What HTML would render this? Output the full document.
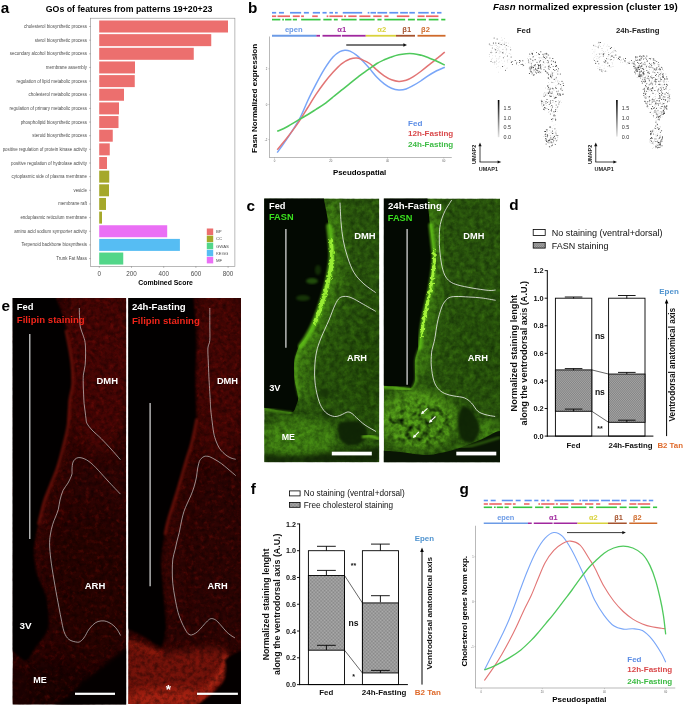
<!DOCTYPE html>
<html><head><meta charset="utf-8"><title>Figure</title>
<style>
html,body{margin:0;padding:0;background:#fff;}
svg{display:block;font-family:'Liberation Sans',sans-serif;}
</style></head>
<body>
<svg width="685" height="706" viewBox="0 0 685 706">
<defs>
<linearGradient id="cbar" x1="0" y1="0" x2="0" y2="1"><stop offset="0" stop-color="#000"/><stop offset="0.45" stop-color="#666"/><stop offset="1" stop-color="#e4e4e4"/></linearGradient>

<filter id="gnoiseD" x="0" y="0" width="100%" height="100%" color-interpolation-filters="sRGB">
  <feTurbulence type="fractalNoise" baseFrequency="0.2" numOctaves="3" seed="4"/>
  <feColorMatrix type="matrix" values="0 0 0 0 0  0 0 0 0 0.04  0 0 0 0 0  0.75 0 0 0 -0.24"/>
  <feGaussianBlur stdDeviation="0.6"/>
</filter>
<filter id="gnoiseL" x="0" y="0" width="100%" height="100%" color-interpolation-filters="sRGB">
  <feTurbulence type="fractalNoise" baseFrequency="0.16" numOctaves="3" seed="17"/>
  <feColorMatrix type="matrix" values="0 0 0 0 0.42  0 0 0 0 0.8  0 0 0 0 0.1  0 0.5 0 0 -0.22"/>
  <feGaussianBlur stdDeviation="0.6"/>
</filter>
<filter id="gnoiseME" x="0" y="0" width="100%" height="100%" color-interpolation-filters="sRGB">
  <feTurbulence type="fractalNoise" baseFrequency="0.16" numOctaves="2" seed="31"/>
  <feColorMatrix type="matrix" values="0 0 0 0 0  0 0 0 0 0.04  0 0 0 0 0  0 0 2.2 0 -0.98"/>
</filter>
<filter id="rough" x="-20%" y="-5%" width="140%" height="110%">
  <feTurbulence type="fractalNoise" baseFrequency="0.35" numOctaves="2" seed="5" result="t"/>
  <feDisplacementMap in="SourceGraphic" in2="t" scale="5" xChannelSelector="R" yChannelSelector="G"/>
  <feGaussianBlur color-interpolation-filters="sRGB" stdDeviation="0.7"/>
</filter>
<filter id="b05"><feGaussianBlur color-interpolation-filters="sRGB" stdDeviation="0.6"/></filter>
<filter id="b1"><feGaussianBlur color-interpolation-filters="sRGB" stdDeviation="1.1"/></filter>
<filter id="b2"><feGaussianBlur color-interpolation-filters="sRGB" stdDeviation="2.2"/></filter>
<filter id="b4"><feGaussianBlur color-interpolation-filters="sRGB" stdDeviation="4"/></filter>
<filter id="b7" x="-50%" y="-50%" width="200%" height="200%"><feGaussianBlur color-interpolation-filters="sRGB" stdDeviation="7"/></filter>
<mask id="memask" maskUnits="userSpaceOnUse" x="380" y="380" width="125" height="90"><ellipse cx="420" cy="424" rx="34" ry="24" fill="#fff" filter="url(#b4)"/></mask>
<clipPath id="clipc1"><rect x="264.2" y="198.6" width="115.05" height="263.6"/></clipPath>
<clipPath id="clipc2"><rect x="383.8" y="198.6" width="116.2" height="263.6"/></clipPath>
<pattern id="chk" width="2" height="1.7" patternUnits="userSpaceOnUse" x="555.4" y="370.2"><rect width="2" height="1.7" fill="#f0f0f0"/><rect width="1" height="0.85" fill="#383838"/><rect x="1" y="0.85" width="1" height="0.85" fill="#383838"/></pattern>

<filter id="rnoiseD" x="0" y="0" width="100%" height="100%" color-interpolation-filters="sRGB">
  <feTurbulence type="fractalNoise" baseFrequency="0.22" numOctaves="3" seed="8"/>
  <feColorMatrix type="matrix" values="0 0 0 0 0  0 0 0 0 0  0 0 0 0 0  0.9 0 0 0 -0.33"/>
  <feGaussianBlur stdDeviation="0.5"/>
</filter>
<filter id="rnoiseL" x="0" y="0" width="100%" height="100%" color-interpolation-filters="sRGB">
  <feTurbulence type="fractalNoise" baseFrequency="0.2" numOctaves="3" seed="23"/>
  <feColorMatrix type="matrix" values="0 0 0 0 0.7  0 0 0 0 0.08  0 0 0 0 0.05  0 0.7 0 0 -0.36"/>
  <feGaussianBlur stdDeviation="0.5"/>
</filter>
<clipPath id="clipe1"><rect x="12.6" y="298" width="113.6" height="406.5"/></clipPath>
<clipPath id="clipe2"><rect x="128.3" y="298" width="112.7" height="406"/></clipPath>
<pattern id="chk2" width="1.4" height="1.4" patternUnits="userSpaceOnUse"><rect width="1.4" height="1.4" fill="#b2b2b2"/><rect width="0.7" height="0.7" fill="#808080"/><rect x="0.7" y="0.7" width="0.7" height="0.7" fill="#808080"/></pattern>
</defs>
<rect x="0" y="0" width="685" height="706" fill="#ffffff"/>
<g id="panel-a">
<text x="0.75" y="12.50" font-size="15.3" fill="#000" font-weight="bold">a</text>
<text x="45.75" y="11.75" font-size="8.7" fill="#000" font-weight="bold" textLength="166.75" lengthAdjust="spacingAndGlyphs">GOs of features from patterns 19+20+23</text>
<rect x="90.50" y="18.20" width="144.40" height="248.20" fill="#fff" stroke="#8a8a8a" stroke-width="0.6"/>
<rect x="99.20" y="20.50" width="128.80" height="12.00" fill="#ec6f6e"/>
<line x1="89.20" y1="26.50" x2="90.50" y2="26.50" stroke="#666" stroke-width="0.5" />
<text x="87.00" y="28.00" font-size="4.45" fill="#4d4d4d" text-anchor="end">cholesterol biosynthetic process</text>
<rect x="99.20" y="34.15" width="112.05" height="12.00" fill="#ec6f6e"/>
<line x1="89.20" y1="40.15" x2="90.50" y2="40.15" stroke="#666" stroke-width="0.5" />
<text x="87.00" y="41.65" font-size="4.45" fill="#4d4d4d" text-anchor="end">sterol biosynthetic process</text>
<rect x="99.20" y="47.80" width="94.55" height="12.00" fill="#ec6f6e"/>
<line x1="89.20" y1="53.80" x2="90.50" y2="53.80" stroke="#666" stroke-width="0.5" />
<text x="87.00" y="55.30" font-size="4.45" fill="#4d4d4d" text-anchor="end">secondary alcohol biosynthetic process</text>
<rect x="99.20" y="61.45" width="35.80" height="12.00" fill="#ec6f6e"/>
<line x1="89.20" y1="67.45" x2="90.50" y2="67.45" stroke="#666" stroke-width="0.5" />
<text x="87.00" y="68.95" font-size="4.45" fill="#4d4d4d" text-anchor="end">membrane assembly</text>
<rect x="99.20" y="75.10" width="35.55" height="12.00" fill="#ec6f6e"/>
<line x1="89.20" y1="81.10" x2="90.50" y2="81.10" stroke="#666" stroke-width="0.5" />
<text x="87.00" y="82.60" font-size="4.45" fill="#4d4d4d" text-anchor="end">regulation of lipid metabolic process</text>
<rect x="99.20" y="88.75" width="24.80" height="12.00" fill="#ec6f6e"/>
<line x1="89.20" y1="94.75" x2="90.50" y2="94.75" stroke="#666" stroke-width="0.5" />
<text x="87.00" y="96.25" font-size="4.45" fill="#4d4d4d" text-anchor="end">cholesterol metabolic process</text>
<rect x="99.20" y="102.40" width="19.80" height="12.00" fill="#ec6f6e"/>
<line x1="89.20" y1="108.40" x2="90.50" y2="108.40" stroke="#666" stroke-width="0.5" />
<text x="87.00" y="109.90" font-size="4.45" fill="#4d4d4d" text-anchor="end">regulation of primary metabolic process</text>
<rect x="99.20" y="116.05" width="19.30" height="12.00" fill="#ec6f6e"/>
<line x1="89.20" y1="122.05" x2="90.50" y2="122.05" stroke="#666" stroke-width="0.5" />
<text x="87.00" y="123.55" font-size="4.45" fill="#4d4d4d" text-anchor="end">phospholipid biosynthetic process</text>
<rect x="99.20" y="129.70" width="13.55" height="12.00" fill="#ec6f6e"/>
<line x1="89.20" y1="135.70" x2="90.50" y2="135.70" stroke="#666" stroke-width="0.5" />
<text x="87.00" y="137.20" font-size="4.45" fill="#4d4d4d" text-anchor="end">steroid biosynthetic process</text>
<rect x="99.20" y="143.35" width="10.55" height="12.00" fill="#ec6f6e"/>
<line x1="89.20" y1="149.35" x2="90.50" y2="149.35" stroke="#666" stroke-width="0.5" />
<text x="87.00" y="150.85" font-size="4.45" fill="#4d4d4d" text-anchor="end">positive regulation of protein kinase activity</text>
<rect x="99.20" y="157.00" width="7.80" height="12.00" fill="#ec6f6e"/>
<line x1="89.20" y1="163.00" x2="90.50" y2="163.00" stroke="#666" stroke-width="0.5" />
<text x="87.00" y="164.50" font-size="4.45" fill="#4d4d4d" text-anchor="end">positive regulation of hydrolase activity</text>
<rect x="99.20" y="170.65" width="10.05" height="12.00" fill="#a5a82a"/>
<line x1="89.20" y1="176.65" x2="90.50" y2="176.65" stroke="#666" stroke-width="0.5" />
<text x="87.00" y="178.15" font-size="4.45" fill="#4d4d4d" text-anchor="end">cytoplasmic side of plasma membrane</text>
<rect x="99.20" y="184.30" width="9.80" height="12.00" fill="#a5a82a"/>
<line x1="89.20" y1="190.30" x2="90.50" y2="190.30" stroke="#666" stroke-width="0.5" />
<text x="87.00" y="191.80" font-size="4.45" fill="#4d4d4d" text-anchor="end">vesicle</text>
<rect x="99.20" y="197.95" width="6.80" height="12.00" fill="#a5a82a"/>
<line x1="89.20" y1="203.95" x2="90.50" y2="203.95" stroke="#666" stroke-width="0.5" />
<text x="87.00" y="205.45" font-size="4.45" fill="#4d4d4d" text-anchor="end">membrane raft</text>
<rect x="99.20" y="211.60" width="2.80" height="12.00" fill="#a5a82a"/>
<line x1="89.20" y1="217.60" x2="90.50" y2="217.60" stroke="#666" stroke-width="0.5" />
<text x="87.00" y="219.10" font-size="4.45" fill="#4d4d4d" text-anchor="end">endoplasmic reticulum membrane</text>
<rect x="99.20" y="225.25" width="68.00" height="12.00" fill="#ea6ff5"/>
<line x1="89.20" y1="231.25" x2="90.50" y2="231.25" stroke="#666" stroke-width="0.5" />
<text x="87.00" y="232.75" font-size="4.45" fill="#4d4d4d" text-anchor="end">amino acid sodium symporter activity</text>
<rect x="99.20" y="238.90" width="80.70" height="12.00" fill="#56bdf3"/>
<line x1="89.20" y1="244.90" x2="90.50" y2="244.90" stroke="#666" stroke-width="0.5" />
<text x="87.00" y="246.40" font-size="4.45" fill="#4d4d4d" text-anchor="end">Terpenoid backbone biosynthesis</text>
<rect x="99.20" y="252.55" width="24.05" height="12.00" fill="#52d689"/>
<line x1="89.20" y1="258.55" x2="90.50" y2="258.55" stroke="#666" stroke-width="0.5" />
<text x="87.00" y="260.05" font-size="4.45" fill="#4d4d4d" text-anchor="end">Trunk Fat Mass</text>
<line x1="99.30" y1="266.40" x2="99.30" y2="267.80" stroke="#666" stroke-width="0.5" />
<text x="99.30" y="275.50" font-size="6.3" fill="#4d4d4d" text-anchor="middle">0</text>
<line x1="131.50" y1="266.40" x2="131.50" y2="267.80" stroke="#666" stroke-width="0.5" />
<text x="131.50" y="275.50" font-size="6.3" fill="#4d4d4d" text-anchor="middle">200</text>
<line x1="163.70" y1="266.40" x2="163.70" y2="267.80" stroke="#666" stroke-width="0.5" />
<text x="163.70" y="275.50" font-size="6.3" fill="#4d4d4d" text-anchor="middle">400</text>
<line x1="195.90" y1="266.40" x2="195.90" y2="267.80" stroke="#666" stroke-width="0.5" />
<text x="195.90" y="275.50" font-size="6.3" fill="#4d4d4d" text-anchor="middle">600</text>
<line x1="228.10" y1="266.40" x2="228.10" y2="267.80" stroke="#666" stroke-width="0.5" />
<text x="228.10" y="275.50" font-size="6.3" fill="#4d4d4d" text-anchor="middle">800</text>
<text x="138.25" y="285.00" font-size="7" fill="#000" font-weight="bold" textLength="54.65" lengthAdjust="spacingAndGlyphs">Combined Score</text>
<rect x="206.80" y="228.50" width="6.40" height="6.50" fill="#ec6f6e"/>
<text x="216.00" y="233.30" font-size="4.3" fill="#4d4d4d">BP</text>
<rect x="206.80" y="235.60" width="6.40" height="6.50" fill="#a5a82a"/>
<text x="216.00" y="240.40" font-size="4.3" fill="#4d4d4d">CC</text>
<rect x="206.80" y="242.70" width="6.40" height="6.50" fill="#52d689"/>
<text x="216.00" y="247.50" font-size="4.3" fill="#4d4d4d">GWAS</text>
<rect x="206.80" y="249.80" width="6.40" height="6.50" fill="#56bdf3"/>
<text x="216.00" y="254.60" font-size="4.3" fill="#4d4d4d">KEGG</text>
<rect x="206.80" y="256.90" width="6.40" height="6.50" fill="#ea6ff5"/>
<text x="216.00" y="261.70" font-size="4.3" fill="#4d4d4d">MF</text>
</g>
<g id="panel-b">
<text x="248.00" y="12.50" font-size="15.3" fill="#000" font-weight="bold">b</text>
<line x1="272.00" y1="12.75" x2="276.16" y2="12.75" stroke="#5f93f2" stroke-width="1.7" />
<line x1="278.93" y1="12.75" x2="283.93" y2="12.75" stroke="#5f93f2" stroke-width="1.7" />
<line x1="290.03" y1="12.75" x2="301.13" y2="12.75" stroke="#5f93f2" stroke-width="1.7" />
<line x1="303.90" y1="12.75" x2="308.89" y2="12.75" stroke="#5f93f2" stroke-width="1.7" />
<line x1="312.78" y1="12.75" x2="319.99" y2="12.75" stroke="#5f93f2" stroke-width="1.7" />
<line x1="322.49" y1="12.75" x2="326.65" y2="12.75" stroke="#5f93f2" stroke-width="1.7" />
<line x1="329.42" y1="12.75" x2="333.03" y2="12.75" stroke="#5f93f2" stroke-width="1.7" />
<line x1="334.97" y1="12.75" x2="337.74" y2="12.75" stroke="#5f93f2" stroke-width="1.7" />
<line x1="342.74" y1="12.75" x2="362.15" y2="12.75" stroke="#5f93f2" stroke-width="1.7" />
<line x1="367.70" y1="12.75" x2="369.36" y2="12.75" stroke="#5f93f2" stroke-width="1.7" />
<line x1="370.47" y1="12.75" x2="376.02" y2="12.75" stroke="#5f93f2" stroke-width="1.7" />
<line x1="377.41" y1="12.75" x2="387.12" y2="12.75" stroke="#5f93f2" stroke-width="1.7" />
<line x1="389.34" y1="12.75" x2="398.21" y2="12.75" stroke="#5f93f2" stroke-width="1.7" />
<line x1="400.16" y1="12.75" x2="407.92" y2="12.75" stroke="#5f93f2" stroke-width="1.7" />
<line x1="409.31" y1="12.75" x2="414.86" y2="12.75" stroke="#5f93f2" stroke-width="1.7" />
<line x1="418.19" y1="12.75" x2="428.73" y2="12.75" stroke="#5f93f2" stroke-width="1.7" />
<line x1="430.95" y1="12.75" x2="434.83" y2="12.75" stroke="#5f93f2" stroke-width="1.7" />
<line x1="437.05" y1="12.75" x2="441.49" y2="12.75" stroke="#5f93f2" stroke-width="1.7" />
<line x1="272.00" y1="16.25" x2="276.16" y2="16.25" stroke="#ee6464" stroke-width="1.7" />
<line x1="277.55" y1="16.25" x2="290.03" y2="16.25" stroke="#ee6464" stroke-width="1.7" />
<line x1="292.80" y1="16.25" x2="299.74" y2="16.25" stroke="#ee6464" stroke-width="1.7" />
<line x1="301.13" y1="16.25" x2="303.90" y2="16.25" stroke="#ee6464" stroke-width="1.7" />
<line x1="312.22" y1="16.25" x2="317.77" y2="16.25" stroke="#ee6464" stroke-width="1.7" />
<line x1="326.65" y1="16.25" x2="328.31" y2="16.25" stroke="#ee6464" stroke-width="1.7" />
<line x1="329.42" y1="16.25" x2="342.74" y2="16.25" stroke="#ee6464" stroke-width="1.7" />
<line x1="344.12" y1="16.25" x2="346.06" y2="16.25" stroke="#ee6464" stroke-width="1.7" />
<line x1="348.28" y1="16.25" x2="356.60" y2="16.25" stroke="#ee6464" stroke-width="1.7" />
<line x1="359.38" y1="16.25" x2="370.47" y2="16.25" stroke="#ee6464" stroke-width="1.7" />
<line x1="373.25" y1="16.25" x2="381.57" y2="16.25" stroke="#ee6464" stroke-width="1.7" />
<line x1="384.34" y1="16.25" x2="388.50" y2="16.25" stroke="#ee6464" stroke-width="1.7" />
<line x1="396.83" y1="16.25" x2="409.31" y2="16.25" stroke="#ee6464" stroke-width="1.7" />
<line x1="417.63" y1="16.25" x2="424.57" y2="16.25" stroke="#ee6464" stroke-width="1.7" />
<line x1="425.95" y1="16.25" x2="438.44" y2="16.25" stroke="#ee6464" stroke-width="1.7" />
<line x1="272.00" y1="19.60" x2="280.32" y2="19.60" stroke="#35c640" stroke-width="1.7" />
<line x1="282.26" y1="19.60" x2="283.93" y2="19.60" stroke="#35c640" stroke-width="1.7" />
<line x1="285.04" y1="19.60" x2="291.42" y2="19.60" stroke="#35c640" stroke-width="1.7" />
<line x1="292.80" y1="19.60" x2="296.97" y2="19.60" stroke="#35c640" stroke-width="1.7" />
<line x1="301.13" y1="19.60" x2="320.54" y2="19.60" stroke="#35c640" stroke-width="1.7" />
<line x1="323.32" y1="19.60" x2="331.64" y2="19.60" stroke="#35c640" stroke-width="1.7" />
<line x1="333.86" y1="19.60" x2="337.74" y2="19.60" stroke="#35c640" stroke-width="1.7" />
<line x1="341.35" y1="19.60" x2="356.60" y2="19.60" stroke="#35c640" stroke-width="1.7" />
<line x1="359.38" y1="19.60" x2="374.64" y2="19.60" stroke="#35c640" stroke-width="1.7" />
<line x1="377.41" y1="19.60" x2="381.57" y2="19.60" stroke="#35c640" stroke-width="1.7" />
<line x1="384.34" y1="19.60" x2="405.15" y2="19.60" stroke="#35c640" stroke-width="1.7" />
<line x1="407.92" y1="19.60" x2="414.86" y2="19.60" stroke="#35c640" stroke-width="1.7" />
<line x1="417.08" y1="19.60" x2="425.95" y2="19.60" stroke="#35c640" stroke-width="1.7" />
<line x1="428.73" y1="19.60" x2="438.44" y2="19.60" stroke="#35c640" stroke-width="1.7" />
<line x1="441.21" y1="19.60" x2="445.37" y2="19.60" stroke="#35c640" stroke-width="1.7" />
<line x1="272.00" y1="35.75" x2="316.30" y2="35.75" stroke="#6c9be6" stroke-width="1.8" />
<line x1="316.30" y1="35.75" x2="320.00" y2="35.75" stroke="#a0289e" stroke-width="1.8" />
<line x1="322.50" y1="35.75" x2="340.90" y2="35.75" stroke="#a0289e" stroke-width="1.8" />
<line x1="341.80" y1="35.75" x2="365.75" y2="35.75" stroke="#a0289e" stroke-width="1.8" />
<line x1="365.75" y1="35.75" x2="396.00" y2="35.75" stroke="#d9d23c" stroke-width="1.8" />
<line x1="396.00" y1="35.75" x2="415.00" y2="35.75" stroke="#a5522d" stroke-width="1.8" />
<line x1="417.50" y1="35.75" x2="445.50" y2="35.75" stroke="#cf6a2a" stroke-width="1.8" />
<text x="293.75" y="31.70" font-size="7.6" fill="#6c9be6" font-weight="bold" text-anchor="middle">epen</text>
<text x="341.75" y="31.70" font-size="7.6" fill="#a0289e" font-weight="bold" text-anchor="middle">α1</text>
<text x="381.75" y="31.70" font-size="7.6" fill="#d9d23c" font-weight="bold" text-anchor="middle">α2</text>
<text x="406.75" y="31.70" font-size="7.6" fill="#a5522d" font-weight="bold" text-anchor="middle">β1</text>
<text x="425.50" y="31.70" font-size="7.6" fill="#cf6a2a" font-weight="bold" text-anchor="middle">β2</text>
<line x1="269.50" y1="36.50" x2="269.50" y2="157.50" stroke="#8a8a8a" stroke-width="0.6" />
<line x1="269.20" y1="157.50" x2="451.75" y2="157.50" stroke="#8a8a8a" stroke-width="0.6" />
<line x1="268.30" y1="68.75" x2="269.50" y2="68.75" stroke="#8a8a8a" stroke-width="0.4" />
<text x="267.30" y="69.75" font-size="2.8" fill="#666" text-anchor="end">2</text>
<line x1="268.30" y1="104.50" x2="269.50" y2="104.50" stroke="#8a8a8a" stroke-width="0.4" />
<text x="267.30" y="105.50" font-size="2.8" fill="#666" text-anchor="end">0</text>
<line x1="268.30" y1="139.50" x2="269.50" y2="139.50" stroke="#8a8a8a" stroke-width="0.4" />
<text x="267.30" y="140.50" font-size="2.8" fill="#666" text-anchor="end">-2</text>
<line x1="274.50" y1="157.50" x2="274.50" y2="158.70" stroke="#8a8a8a" stroke-width="0.4" />
<text x="274.50" y="162.30" font-size="2.8" fill="#666" text-anchor="middle">0</text>
<line x1="330.75" y1="157.50" x2="330.75" y2="158.70" stroke="#8a8a8a" stroke-width="0.4" />
<text x="330.75" y="162.30" font-size="2.8" fill="#666" text-anchor="middle">20</text>
<line x1="387.50" y1="157.50" x2="387.50" y2="158.70" stroke="#8a8a8a" stroke-width="0.4" />
<text x="387.50" y="162.30" font-size="2.8" fill="#666" text-anchor="middle">40</text>
<line x1="443.75" y1="157.50" x2="443.75" y2="158.70" stroke="#8a8a8a" stroke-width="0.4" />
<text x="443.75" y="162.30" font-size="2.8" fill="#666" text-anchor="middle">60</text>
<line x1="346.25" y1="45.00" x2="404.00" y2="45.00" stroke="#4a4a4a" stroke-width="1.3" />
<path d="M407.0,45.0 L403.4,43.2 L403.4,46.8 Z" fill="#111"/>
<path d="M277.2,152.6 C278.9,150.3 283.5,144.0 287.1,138.6 C290.7,133.2 295.6,126.1 299.0,119.9 C302.4,113.7 304.7,107.2 307.5,101.2 C310.3,95.2 313.2,89.6 316.0,84.2 C318.8,78.8 321.7,73.4 324.5,68.9 C327.3,64.4 330.4,59.9 333.0,57.0 C335.6,54.1 337.8,52.7 339.8,51.6 C341.8,50.5 343.2,50.3 344.9,50.2 C346.6,50.1 348.0,50.2 350.0,51.1 C352.0,52.0 354.8,53.7 356.8,55.3 C358.9,56.9 360.2,58.3 362.3,60.5 C364.4,62.7 367.2,65.8 369.6,68.6 C372.0,71.4 374.5,74.8 376.9,77.3 C379.3,79.8 381.8,82.1 384.2,83.9 C386.6,85.7 389.1,87.3 391.5,88.3 C393.9,89.3 396.4,89.9 398.8,90.0 C401.2,90.1 403.7,89.8 406.1,89.0 C408.5,88.2 411.0,86.7 413.4,85.4 C415.8,84.1 418.3,82.6 420.7,81.0 C423.1,79.4 425.6,77.5 428.0,75.9 C430.4,74.3 432.5,73.0 435.3,71.5 C438.1,70.0 443.2,67.9 444.8,67.2" fill="none" stroke="#79a6f8" stroke-width="1.5" stroke-linecap="butt"/>
<path d="M277.2,149.7 C278.9,147.7 283.5,142.5 287.1,137.8 C290.7,133.1 295.6,126.6 299.0,121.6 C302.4,116.6 304.7,112.5 307.5,108.0 C310.3,103.5 313.2,98.7 316.0,94.4 C318.8,90.2 321.7,86.2 324.5,82.5 C327.3,78.8 330.2,75.4 333.0,72.3 C335.8,69.2 338.7,66.0 341.5,63.8 C344.3,61.6 347.4,60.0 350.0,59.0 C352.6,58.0 354.8,57.8 356.8,57.9 C358.9,58.0 360.2,58.9 362.3,59.8 C364.4,60.7 367.2,61.8 369.6,63.5 C372.0,65.2 374.5,67.9 376.9,70.0 C379.3,72.1 381.8,74.3 384.2,75.9 C386.6,77.5 389.1,78.9 391.5,79.8 C393.9,80.7 396.4,81.3 398.8,81.4 C401.2,81.5 403.7,81.1 406.1,80.3 C408.5,79.5 411.0,78.1 413.4,76.6 C415.8,75.1 418.3,73.3 420.7,71.5 C423.1,69.7 425.6,67.7 428.0,65.7 C430.4,63.8 432.5,62.0 435.3,59.8 C438.1,57.5 443.2,53.5 444.8,52.2" fill="none" stroke="#e27575" stroke-width="1.5"/>
<path d="M277.2,131.3 C278.9,130.5 283.5,128.7 287.1,126.7 C290.7,124.8 295.6,121.6 299.0,119.6 C302.4,117.6 304.7,116.5 307.5,114.8 C310.3,113.1 313.2,111.2 316.0,109.4 C318.8,107.6 321.7,105.9 324.5,103.8 C327.3,101.7 330.2,99.3 333.0,97.0 C335.8,94.7 338.7,92.5 341.5,90.2 C344.3,87.9 347.2,85.7 350.0,83.4 C352.8,81.1 356.0,78.5 358.5,76.6 C361.0,74.7 363.1,73.1 365.0,71.8 C366.9,70.5 367.6,70.0 369.6,68.6 C371.6,67.2 374.5,65.0 376.9,63.5 C379.3,62.0 381.8,60.9 384.2,59.8 C386.6,58.7 389.1,57.8 391.5,56.9 C393.9,56.0 396.4,55.2 398.8,54.7 C401.2,54.2 403.7,53.9 406.1,53.7 C408.5,53.5 411.0,53.5 413.4,53.7 C415.8,53.9 418.3,54.5 420.7,55.1 C423.1,55.8 425.6,56.7 428.0,57.6 C430.4,58.5 432.5,59.2 435.3,60.5 C438.1,61.8 443.2,64.3 444.8,65.1" fill="none" stroke="#4fc95c" stroke-width="1.6"/>
<text x="257.40" y="98.40" font-size="8.05" fill="#000" font-weight="bold" text-anchor="middle" textLength="109.20" lengthAdjust="spacingAndGlyphs" transform="rotate(-90 257.40 98.40)">Fasn Normalized expression</text>
<text x="333.00" y="174.80" font-size="7.8" fill="#000" font-weight="bold" textLength="53.25" lengthAdjust="spacingAndGlyphs">Pseudospatial</text>
<text x="408.00" y="126.20" font-size="8.1" fill="#5b8de6" font-weight="bold">Fed</text>
<text x="408.00" y="136.20" font-size="8.1" fill="#d9484a" font-weight="bold" textLength="45.25" lengthAdjust="spacingAndGlyphs">12h-Fasting</text>
<text x="408.00" y="147.20" font-size="8.1" fill="#3dbb44" font-weight="bold" textLength="45.25" lengthAdjust="spacingAndGlyphs">24h-Fasting</text>
</g>
<g id="panel-umap">
<text x="493.00" y="10.00" font-size="9.6" fill="#000" font-weight="bold" textLength="184.75" lengthAdjust="spacingAndGlyphs"><tspan font-style="italic">Fasn</tspan> normalized expression (cluster 19)</text>
<text x="523.75" y="32.70" font-size="7.8" fill="#222" font-weight="bold" text-anchor="middle">Fed</text>
<text x="637.75" y="32.70" font-size="7.8" fill="#222" font-weight="bold" text-anchor="middle" textLength="43.50" lengthAdjust="spacingAndGlyphs">24h-Fasting</text>
<circle cx="502.8" cy="63.6" r="0.42" fill="rgb(223,223,223)"/><circle cx="505.5" cy="70.2" r="0.5" fill="rgb(79,79,79)"/><circle cx="506.3" cy="45.6" r="0.5" fill="rgb(40,40,40)"/><circle cx="491.1" cy="53.6" r="0.42" fill="rgb(204,204,204)"/><circle cx="490.8" cy="45.6" r="0.42" fill="rgb(196,196,196)"/><circle cx="506.1" cy="42.3" r="0.42" fill="rgb(178,178,178)"/><circle cx="502.7" cy="52.7" r="0.5" fill="rgb(20,20,20)"/><circle cx="493.3" cy="44.4" r="0.42" fill="rgb(225,225,225)"/><circle cx="492.3" cy="47.9" r="0.5" fill="rgb(106,106,106)"/><circle cx="502.9" cy="43.1" r="0.42" fill="rgb(182,182,182)"/><circle cx="495.4" cy="49.7" r="0.5" fill="rgb(38,38,38)"/><circle cx="494.6" cy="48.6" r="0.42" fill="rgb(207,207,207)"/><circle cx="496.3" cy="47.8" r="0.42" fill="rgb(200,200,200)"/><circle cx="504.5" cy="43.2" r="0.42" fill="rgb(181,181,181)"/><circle cx="506.6" cy="49.9" r="0.42" fill="rgb(170,170,170)"/><circle cx="498.9" cy="62.3" r="0.42" fill="rgb(182,182,182)"/><circle cx="491.2" cy="45.5" r="0.42" fill="rgb(199,199,199)"/><circle cx="496.4" cy="49.4" r="0.42" fill="rgb(219,219,219)"/><circle cx="499.1" cy="58.0" r="0.42" fill="rgb(193,193,193)"/><circle cx="496.3" cy="58.8" r="0.42" fill="rgb(191,191,191)"/><circle cx="494.8" cy="62.1" r="0.5" fill="rgb(107,107,107)"/><circle cx="495.8" cy="43.0" r="0.5" fill="rgb(39,39,39)"/><circle cx="505.1" cy="47.8" r="0.42" fill="rgb(216,216,216)"/><circle cx="500.8" cy="51.3" r="0.42" fill="rgb(208,208,208)"/><circle cx="496.4" cy="45.6" r="0.42" fill="rgb(179,179,179)"/><circle cx="489.3" cy="54.5" r="0.42" fill="rgb(178,178,178)"/><circle cx="511.1" cy="57.1" r="0.5" fill="rgb(72,72,72)"/><circle cx="491.0" cy="52.4" r="0.5" fill="rgb(73,73,73)"/><circle cx="495.3" cy="53.0" r="0.42" fill="rgb(224,224,224)"/><circle cx="492.4" cy="55.6" r="0.42" fill="rgb(214,214,214)"/><circle cx="505.3" cy="54.0" r="0.42" fill="rgb(195,195,195)"/><circle cx="507.4" cy="55.9" r="0.5" fill="rgb(83,83,83)"/><circle cx="508.5" cy="43.1" r="0.42" fill="rgb(202,202,202)"/><circle cx="506.5" cy="68.2" r="0.42" fill="rgb(220,220,220)"/><circle cx="506.8" cy="49.5" r="0.42" fill="rgb(172,172,172)"/><circle cx="506.0" cy="49.8" r="0.42" fill="rgb(187,187,187)"/><circle cx="507.7" cy="46.2" r="0.42" fill="rgb(215,215,215)"/><circle cx="503.4" cy="57.7" r="0.5" fill="rgb(90,90,90)"/><circle cx="506.3" cy="48.4" r="0.42" fill="rgb(188,188,188)"/><circle cx="507.3" cy="60.1" r="0.42" fill="rgb(192,192,192)"/><circle cx="494.8" cy="49.1" r="0.42" fill="rgb(196,196,196)"/><circle cx="496.6" cy="67.3" r="0.42" fill="rgb(214,214,214)"/><circle cx="498.8" cy="49.8" r="0.42" fill="rgb(179,179,179)"/><circle cx="500.7" cy="42.6" r="0.42" fill="rgb(224,224,224)"/><circle cx="499.5" cy="61.7" r="0.42" fill="rgb(216,216,216)"/><circle cx="498.1" cy="59.0" r="0.42" fill="rgb(203,203,203)"/><circle cx="503.8" cy="51.9" r="0.42" fill="rgb(219,219,219)"/><circle cx="508.4" cy="46.4" r="0.42" fill="rgb(182,182,182)"/><circle cx="492.2" cy="52.6" r="0.42" fill="rgb(184,184,184)"/><circle cx="506.0" cy="43.1" r="0.42" fill="rgb(200,200,200)"/><circle cx="510.8" cy="54.1" r="0.42" fill="rgb(196,196,196)"/><circle cx="499.2" cy="50.4" r="0.42" fill="rgb(207,207,207)"/><circle cx="493.2" cy="62.7" r="0.42" fill="rgb(192,192,192)"/><circle cx="497.8" cy="46.7" r="0.42" fill="rgb(177,177,177)"/><circle cx="504.3" cy="56.5" r="0.42" fill="rgb(205,205,205)"/><circle cx="502.6" cy="40.0" r="0.42" fill="rgb(191,191,191)"/><circle cx="510.4" cy="47.2" r="0.42" fill="rgb(178,178,178)"/><circle cx="498.1" cy="66.2" r="0.42" fill="rgb(193,193,193)"/><circle cx="499.3" cy="42.2" r="0.42" fill="rgb(200,200,200)"/><circle cx="502.5" cy="49.3" r="0.42" fill="rgb(170,170,170)"/><circle cx="497.3" cy="48.4" r="0.42" fill="rgb(204,204,204)"/><circle cx="491.7" cy="59.5" r="0.42" fill="rgb(194,194,194)"/><circle cx="498.4" cy="72.1" r="0.42" fill="rgb(200,200,200)"/><circle cx="510.9" cy="50.4" r="0.42" fill="rgb(228,228,228)"/><circle cx="492.2" cy="58.2" r="0.42" fill="rgb(189,189,189)"/><circle cx="499.9" cy="51.7" r="0.42" fill="rgb(189,189,189)"/><circle cx="499.8" cy="47.0" r="0.42" fill="rgb(177,177,177)"/><circle cx="494.1" cy="38.0" r="0.5" fill="rgb(70,70,70)"/><circle cx="506.5" cy="45.5" r="0.42" fill="rgb(179,179,179)"/><circle cx="505.1" cy="46.9" r="0.42" fill="rgb(200,200,200)"/><circle cx="500.4" cy="68.0" r="0.42" fill="rgb(227,227,227)"/><circle cx="495.4" cy="56.0" r="0.42" fill="rgb(188,188,188)"/><circle cx="496.5" cy="61.4" r="0.42" fill="rgb(178,178,178)"/><circle cx="489.3" cy="45.7" r="0.42" fill="rgb(228,228,228)"/><circle cx="491.0" cy="61.6" r="0.5" fill="rgb(74,74,74)"/><circle cx="506.4" cy="52.1" r="0.42" fill="rgb(215,215,215)"/><circle cx="510.4" cy="60.2" r="0.42" fill="rgb(223,223,223)"/><circle cx="497.4" cy="50.8" r="0.42" fill="rgb(182,182,182)"/><circle cx="509.2" cy="53.5" r="0.42" fill="rgb(189,189,189)"/><circle cx="507.7" cy="61.9" r="0.42" fill="rgb(188,188,188)"/><circle cx="503.4" cy="53.7" r="0.42" fill="rgb(180,180,180)"/><circle cx="499.5" cy="56.5" r="0.42" fill="rgb(191,191,191)"/><circle cx="500.9" cy="52.0" r="0.42" fill="rgb(173,173,173)"/><circle cx="490.1" cy="44.9" r="0.42" fill="rgb(220,220,220)"/><circle cx="496.2" cy="52.2" r="0.5" fill="rgb(71,71,71)"/><circle cx="504.6" cy="38.3" r="0.42" fill="rgb(184,184,184)"/><circle cx="502.6" cy="66.6" r="0.5" fill="rgb(37,37,37)"/><circle cx="498.6" cy="43.2" r="0.5" fill="rgb(40,40,40)"/><circle cx="490.0" cy="44.3" r="0.42" fill="rgb(212,212,212)"/><circle cx="497.2" cy="39.1" r="0.5" fill="rgb(93,93,93)"/><circle cx="491.2" cy="51.0" r="0.42" fill="rgb(170,170,170)"/><circle cx="498.4" cy="48.0" r="0.42" fill="rgb(201,201,201)"/><circle cx="496.6" cy="60.4" r="0.42" fill="rgb(178,178,178)"/><circle cx="504.5" cy="42.0" r="0.42" fill="rgb(202,202,202)"/><circle cx="501.1" cy="44.6" r="0.5" fill="rgb(50,50,50)"/><circle cx="494.3" cy="63.9" r="0.42" fill="rgb(178,178,178)"/><circle cx="507.1" cy="68.0" r="0.42" fill="rgb(194,194,194)"/><circle cx="492.6" cy="62.5" r="0.42" fill="rgb(175,175,175)"/><circle cx="501.7" cy="37.8" r="0.42" fill="rgb(202,202,202)"/><circle cx="502.2" cy="45.2" r="0.42" fill="rgb(200,200,200)"/><circle cx="500.7" cy="56.3" r="0.42" fill="rgb(224,224,224)"/><circle cx="504.2" cy="44.6" r="0.5" fill="rgb(105,105,105)"/><circle cx="499.8" cy="44.2" r="0.42" fill="rgb(194,194,194)"/><circle cx="496.6" cy="45.1" r="0.42" fill="rgb(209,209,209)"/><circle cx="504.7" cy="65.6" r="0.42" fill="rgb(216,216,216)"/><circle cx="507.6" cy="60.1" r="0.42" fill="rgb(197,197,197)"/><circle cx="510.6" cy="49.7" r="0.5" fill="rgb(93,93,93)"/><circle cx="493.4" cy="43.1" r="0.5" fill="rgb(24,24,24)"/><circle cx="489.3" cy="43.9" r="0.5" fill="rgb(81,81,81)"/><circle cx="503.7" cy="49.2" r="0.42" fill="rgb(189,189,189)"/><circle cx="509.0" cy="59.1" r="0.42" fill="rgb(199,199,199)"/><circle cx="499.1" cy="43.5" r="0.42" fill="rgb(174,174,174)"/><circle cx="497.1" cy="50.6" r="0.42" fill="rgb(179,179,179)"/><circle cx="501.2" cy="40.5" r="0.42" fill="rgb(218,218,218)"/><circle cx="495.1" cy="45.1" r="0.42" fill="rgb(172,172,172)"/><circle cx="496.4" cy="63.9" r="0.42" fill="rgb(173,173,173)"/><circle cx="504.3" cy="61.1" r="0.42" fill="rgb(179,179,179)"/><circle cx="491.2" cy="60.9" r="0.42" fill="rgb(213,213,213)"/><circle cx="501.7" cy="60.5" r="0.42" fill="rgb(228,228,228)"/><circle cx="510.9" cy="49.8" r="0.42" fill="rgb(199,199,199)"/><circle cx="496.8" cy="38.9" r="0.42" fill="rgb(199,199,199)"/><circle cx="492.3" cy="45.3" r="0.42" fill="rgb(172,172,172)"/><circle cx="503.4" cy="52.2" r="0.42" fill="rgb(170,170,170)"/><circle cx="499.1" cy="53.0" r="0.42" fill="rgb(180,180,180)"/><circle cx="489.5" cy="56.5" r="0.42" fill="rgb(203,203,203)"/>
<circle cx="522.9" cy="66.0" r="0.42" fill="rgb(185,185,185)"/><circle cx="529.9" cy="62.2" r="0.42" fill="rgb(173,173,173)"/><circle cx="525.3" cy="63.5" r="0.42" fill="rgb(220,220,220)"/><circle cx="519.6" cy="60.6" r="0.5" fill="rgb(24,24,24)"/><circle cx="531.0" cy="59.7" r="0.42" fill="rgb(210,210,210)"/><circle cx="519.4" cy="62.5" r="0.5" fill="rgb(60,60,60)"/><circle cx="527.6" cy="58.7" r="0.42" fill="rgb(180,180,180)"/><circle cx="523.6" cy="65.3" r="0.5" fill="rgb(22,22,22)"/><circle cx="520.3" cy="61.0" r="0.5" fill="rgb(68,68,68)"/><circle cx="511.3" cy="64.4" r="0.42" fill="rgb(227,227,227)"/><circle cx="528.4" cy="59.9" r="0.5" fill="rgb(59,59,59)"/><circle cx="521.1" cy="64.6" r="0.5" fill="rgb(71,71,71)"/><circle cx="512.8" cy="61.6" r="0.42" fill="rgb(185,185,185)"/><circle cx="516.8" cy="62.2" r="0.5" fill="rgb(110,110,110)"/><circle cx="515.2" cy="60.4" r="0.5" fill="rgb(32,32,32)"/><circle cx="512.5" cy="64.5" r="0.5" fill="rgb(91,91,91)"/><circle cx="530.7" cy="59.1" r="0.5" fill="rgb(38,38,38)"/><circle cx="528.2" cy="63.6" r="0.42" fill="rgb(216,216,216)"/><circle cx="512.0" cy="61.6" r="0.5" fill="rgb(68,68,68)"/><circle cx="522.8" cy="60.7" r="0.5" fill="rgb(37,37,37)"/><circle cx="516.5" cy="63.7" r="0.5" fill="rgb(28,28,28)"/><circle cx="522.4" cy="64.3" r="0.5" fill="rgb(35,35,35)"/><circle cx="518.5" cy="65.3" r="0.42" fill="rgb(209,209,209)"/><circle cx="511.3" cy="62.5" r="0.5" fill="rgb(45,45,45)"/><circle cx="523.3" cy="65.0" r="0.42" fill="rgb(176,176,176)"/><circle cx="516.6" cy="63.2" r="0.42" fill="rgb(179,179,179)"/>
<circle cx="544.1" cy="100.4" r="0.42" fill="rgb(204,204,204)"/><circle cx="559.0" cy="94.9" r="0.5" fill="rgb(20,20,20)"/><circle cx="545.6" cy="108.1" r="0.5" fill="rgb(47,47,47)"/><circle cx="555.9" cy="101.6" r="0.5" fill="rgb(51,51,51)"/><circle cx="557.7" cy="93.4" r="0.42" fill="rgb(173,173,173)"/><circle cx="550.6" cy="75.9" r="0.5" fill="rgb(50,50,50)"/><circle cx="534.2" cy="55.6" r="0.42" fill="rgb(227,227,227)"/><circle cx="561.6" cy="102.4" r="0.42" fill="rgb(200,200,200)"/><circle cx="552.9" cy="106.8" r="0.42" fill="rgb(221,221,221)"/><circle cx="550.7" cy="103.5" r="0.5" fill="rgb(106,106,106)"/><circle cx="553.7" cy="75.7" r="0.42" fill="rgb(222,222,222)"/><circle cx="549.1" cy="111.6" r="0.42" fill="rgb(173,173,173)"/><circle cx="547.6" cy="102.5" r="0.5" fill="rgb(95,95,95)"/><circle cx="535.5" cy="68.2" r="0.5" fill="rgb(65,65,65)"/><circle cx="550.3" cy="106.8" r="0.42" fill="rgb(196,196,196)"/><circle cx="552.5" cy="113.1" r="0.42" fill="rgb(214,214,214)"/><circle cx="557.2" cy="111.5" r="0.42" fill="rgb(205,205,205)"/><circle cx="563.6" cy="85.4" r="0.5" fill="rgb(20,20,20)"/><circle cx="552.5" cy="74.3" r="0.42" fill="rgb(203,203,203)"/><circle cx="550.4" cy="74.9" r="0.5" fill="rgb(108,108,108)"/><circle cx="560.5" cy="95.1" r="0.42" fill="rgb(185,185,185)"/><circle cx="539.2" cy="66.9" r="0.42" fill="rgb(227,227,227)"/><circle cx="543.1" cy="61.4" r="0.42" fill="rgb(206,206,206)"/><circle cx="548.7" cy="104.6" r="0.42" fill="rgb(216,216,216)"/><circle cx="542.9" cy="64.5" r="0.42" fill="rgb(208,208,208)"/><circle cx="529.1" cy="56.7" r="0.42" fill="rgb(208,208,208)"/><circle cx="548.6" cy="78.1" r="0.5" fill="rgb(33,33,33)"/><circle cx="551.6" cy="95.2" r="0.42" fill="rgb(173,173,173)"/><circle cx="547.0" cy="53.9" r="0.5" fill="rgb(79,79,79)"/><circle cx="551.5" cy="111.1" r="0.5" fill="rgb(109,109,109)"/><circle cx="550.5" cy="102.5" r="0.42" fill="rgb(170,170,170)"/><circle cx="535.1" cy="59.5" r="0.5" fill="rgb(39,39,39)"/><circle cx="541.4" cy="99.9" r="0.42" fill="rgb(198,198,198)"/><circle cx="554.9" cy="103.7" r="0.42" fill="rgb(215,215,215)"/><circle cx="560.6" cy="85.8" r="0.42" fill="rgb(225,225,225)"/><circle cx="531.8" cy="53.3" r="0.5" fill="rgb(67,67,67)"/><circle cx="541.9" cy="72.0" r="0.42" fill="rgb(201,201,201)"/><circle cx="555.7" cy="97.3" r="0.5" fill="rgb(34,34,34)"/><circle cx="555.4" cy="62.1" r="0.5" fill="rgb(38,38,38)"/><circle cx="553.4" cy="101.9" r="0.42" fill="rgb(188,188,188)"/><circle cx="548.2" cy="78.0" r="0.5" fill="rgb(69,69,69)"/><circle cx="544.5" cy="57.6" r="0.5" fill="rgb(38,38,38)"/><circle cx="529.9" cy="63.6" r="0.42" fill="rgb(198,198,198)"/><circle cx="562.9" cy="89.1" r="0.42" fill="rgb(200,200,200)"/><circle cx="542.3" cy="101.2" r="0.5" fill="rgb(95,95,95)"/><circle cx="562.3" cy="93.3" r="0.42" fill="rgb(207,207,207)"/><circle cx="556.1" cy="76.7" r="0.42" fill="rgb(222,222,222)"/><circle cx="543.8" cy="109.2" r="0.5" fill="rgb(41,41,41)"/><circle cx="556.5" cy="77.3" r="0.42" fill="rgb(193,193,193)"/><circle cx="532.5" cy="60.3" r="0.42" fill="rgb(174,174,174)"/><circle cx="542.9" cy="59.0" r="0.42" fill="rgb(217,217,217)"/><circle cx="549.9" cy="58.1" r="0.5" fill="rgb(66,66,66)"/><circle cx="541.6" cy="100.9" r="0.5" fill="rgb(86,86,86)"/><circle cx="548.4" cy="68.0" r="0.5" fill="rgb(71,71,71)"/><circle cx="545.4" cy="88.0" r="0.42" fill="rgb(185,185,185)"/><circle cx="542.1" cy="64.9" r="0.42" fill="rgb(173,173,173)"/><circle cx="550.3" cy="102.1" r="0.5" fill="rgb(84,84,84)"/><circle cx="560.3" cy="101.0" r="0.42" fill="rgb(198,198,198)"/><circle cx="544.4" cy="92.9" r="0.42" fill="rgb(193,193,193)"/><circle cx="548.8" cy="67.5" r="0.42" fill="rgb(208,208,208)"/><circle cx="539.0" cy="60.2" r="0.42" fill="rgb(174,174,174)"/><circle cx="557.8" cy="74.0" r="0.5" fill="rgb(78,78,78)"/><circle cx="548.7" cy="62.9" r="0.42" fill="rgb(173,173,173)"/><circle cx="560.3" cy="74.1" r="0.5" fill="rgb(55,55,55)"/><circle cx="545.7" cy="58.6" r="0.5" fill="rgb(52,52,52)"/><circle cx="558.3" cy="90.9" r="0.5" fill="rgb(100,100,100)"/><circle cx="556.8" cy="96.0" r="0.42" fill="rgb(226,226,226)"/><circle cx="544.0" cy="109.1" r="0.5" fill="rgb(37,37,37)"/><circle cx="548.6" cy="109.4" r="0.5" fill="rgb(35,35,35)"/><circle cx="558.1" cy="82.1" r="0.42" fill="rgb(172,172,172)"/><circle cx="547.6" cy="95.6" r="0.42" fill="rgb(216,216,216)"/><circle cx="551.7" cy="108.8" r="0.42" fill="rgb(174,174,174)"/><circle cx="562.9" cy="94.5" r="0.5" fill="rgb(71,71,71)"/><circle cx="555.5" cy="66.3" r="0.5" fill="rgb(20,20,20)"/><circle cx="552.0" cy="82.4" r="0.5" fill="rgb(103,103,103)"/><circle cx="535.9" cy="66.6" r="0.42" fill="rgb(183,183,183)"/><circle cx="544.7" cy="59.1" r="0.42" fill="rgb(210,210,210)"/><circle cx="551.7" cy="60.7" r="0.5" fill="rgb(82,82,82)"/><circle cx="548.6" cy="82.7" r="0.42" fill="rgb(183,183,183)"/><circle cx="548.3" cy="93.4" r="0.5" fill="rgb(52,52,52)"/><circle cx="558.5" cy="68.7" r="0.5" fill="rgb(53,53,53)"/><circle cx="543.5" cy="105.7" r="0.42" fill="rgb(201,201,201)"/><circle cx="551.0" cy="91.9" r="0.42" fill="rgb(177,177,177)"/><circle cx="547.8" cy="60.5" r="0.5" fill="rgb(53,53,53)"/><circle cx="538.7" cy="71.6" r="0.42" fill="rgb(196,196,196)"/><circle cx="530.3" cy="69.2" r="0.5" fill="rgb(32,32,32)"/><circle cx="556.9" cy="109.1" r="0.42" fill="rgb(176,176,176)"/><circle cx="544.9" cy="53.8" r="0.5" fill="rgb(92,92,92)"/><circle cx="547.8" cy="92.7" r="0.42" fill="rgb(190,190,190)"/><circle cx="545.0" cy="55.9" r="0.42" fill="rgb(177,177,177)"/><circle cx="551.9" cy="93.5" r="0.5" fill="rgb(34,34,34)"/><circle cx="551.1" cy="110.6" r="0.5" fill="rgb(87,87,87)"/><circle cx="530.6" cy="69.5" r="0.42" fill="rgb(211,211,211)"/><circle cx="561.5" cy="87.5" r="0.42" fill="rgb(188,188,188)"/><circle cx="549.8" cy="79.6" r="0.42" fill="rgb(219,219,219)"/><circle cx="532.9" cy="60.2" r="0.5" fill="rgb(77,77,77)"/><circle cx="552.7" cy="102.7" r="0.42" fill="rgb(189,189,189)"/><circle cx="549.2" cy="65.9" r="0.5" fill="rgb(26,26,26)"/><circle cx="547.8" cy="86.2" r="0.5" fill="rgb(23,23,23)"/><circle cx="551.3" cy="81.7" r="0.42" fill="rgb(228,228,228)"/><circle cx="550.0" cy="89.6" r="0.5" fill="rgb(56,56,56)"/><circle cx="555.6" cy="97.8" r="0.5" fill="rgb(40,40,40)"/><circle cx="552.1" cy="77.2" r="0.42" fill="rgb(213,213,213)"/><circle cx="544.8" cy="110.3" r="0.42" fill="rgb(190,190,190)"/><circle cx="554.0" cy="90.2" r="0.42" fill="rgb(180,180,180)"/><circle cx="549.1" cy="92.7" r="0.42" fill="rgb(200,200,200)"/><circle cx="556.2" cy="105.1" r="0.5" fill="rgb(88,88,88)"/><circle cx="552.3" cy="75.8" r="0.5" fill="rgb(73,73,73)"/><circle cx="551.5" cy="64.3" r="0.5" fill="rgb(21,21,21)"/><circle cx="535.5" cy="64.8" r="0.5" fill="rgb(84,84,84)"/><circle cx="536.1" cy="55.3" r="0.42" fill="rgb(205,205,205)"/><circle cx="555.7" cy="78.8" r="0.42" fill="rgb(173,173,173)"/><circle cx="560.6" cy="84.6" r="0.5" fill="rgb(74,74,74)"/><circle cx="557.3" cy="80.9" r="0.42" fill="rgb(171,171,171)"/><circle cx="556.1" cy="95.8" r="0.42" fill="rgb(199,199,199)"/><circle cx="558.5" cy="90.1" r="0.42" fill="rgb(224,224,224)"/><circle cx="551.8" cy="78.7" r="0.42" fill="rgb(174,174,174)"/><circle cx="553.4" cy="62.5" r="0.42" fill="rgb(226,226,226)"/><circle cx="531.3" cy="63.8" r="0.5" fill="rgb(74,74,74)"/><circle cx="530.1" cy="61.6" r="0.42" fill="rgb(195,195,195)"/><circle cx="560.6" cy="95.2" r="0.5" fill="rgb(71,71,71)"/><circle cx="547.2" cy="62.5" r="0.42" fill="rgb(223,223,223)"/><circle cx="552.9" cy="100.1" r="0.42" fill="rgb(228,228,228)"/><circle cx="543.4" cy="103.4" r="0.42" fill="rgb(227,227,227)"/><circle cx="552.0" cy="108.1" r="0.42" fill="rgb(198,198,198)"/><circle cx="554.7" cy="62.6" r="0.42" fill="rgb(215,215,215)"/><circle cx="552.9" cy="100.5" r="0.5" fill="rgb(88,88,88)"/><circle cx="551.1" cy="96.5" r="0.5" fill="rgb(38,38,38)"/><circle cx="550.9" cy="61.2" r="0.42" fill="rgb(215,215,215)"/><circle cx="543.5" cy="56.0" r="0.5" fill="rgb(90,90,90)"/><circle cx="545.0" cy="104.5" r="0.42" fill="rgb(216,216,216)"/><circle cx="555.6" cy="81.0" r="0.42" fill="rgb(198,198,198)"/><circle cx="545.5" cy="56.3" r="0.42" fill="rgb(219,219,219)"/><circle cx="547.6" cy="63.7" r="0.42" fill="rgb(208,208,208)"/><circle cx="539.5" cy="54.4" r="0.5" fill="rgb(42,42,42)"/><circle cx="556.4" cy="69.7" r="0.42" fill="rgb(177,177,177)"/><circle cx="555.9" cy="107.4" r="0.42" fill="rgb(175,175,175)"/><circle cx="533.5" cy="67.6" r="0.5" fill="rgb(29,29,29)"/><circle cx="563.4" cy="83.6" r="0.42" fill="rgb(223,223,223)"/><circle cx="531.3" cy="69.3" r="0.42" fill="rgb(188,188,188)"/><circle cx="543.1" cy="59.7" r="0.42" fill="rgb(197,197,197)"/><circle cx="531.2" cy="71.9" r="0.5" fill="rgb(107,107,107)"/><circle cx="531.8" cy="70.8" r="0.42" fill="rgb(201,201,201)"/><circle cx="544.5" cy="107.4" r="0.5" fill="rgb(49,49,49)"/><circle cx="544.8" cy="108.6" r="0.42" fill="rgb(202,202,202)"/><circle cx="546.5" cy="105.7" r="0.42" fill="rgb(198,198,198)"/><circle cx="543.1" cy="62.2" r="0.42" fill="rgb(197,197,197)"/><circle cx="532.5" cy="53.2" r="0.5" fill="rgb(24,24,24)"/><circle cx="539.2" cy="73.5" r="0.42" fill="rgb(207,207,207)"/><circle cx="533.2" cy="69.5" r="0.42" fill="rgb(207,207,207)"/><circle cx="555.6" cy="109.7" r="0.5" fill="rgb(30,30,30)"/><circle cx="538.8" cy="68.6" r="0.5" fill="rgb(49,49,49)"/><circle cx="533.9" cy="71.3" r="0.42" fill="rgb(202,202,202)"/><circle cx="548.6" cy="75.5" r="0.42" fill="rgb(199,199,199)"/><circle cx="545.3" cy="70.4" r="0.42" fill="rgb(177,177,177)"/><circle cx="544.0" cy="67.3" r="0.42" fill="rgb(191,191,191)"/><circle cx="542.2" cy="106.4" r="0.42" fill="rgb(178,178,178)"/><circle cx="547.8" cy="72.9" r="0.5" fill="rgb(72,72,72)"/><circle cx="539.5" cy="62.1" r="0.5" fill="rgb(98,98,98)"/><circle cx="546.8" cy="56.9" r="0.5" fill="rgb(44,44,44)"/><circle cx="557.9" cy="93.2" r="0.5" fill="rgb(83,83,83)"/><circle cx="559.9" cy="93.7" r="0.5" fill="rgb(34,34,34)"/><circle cx="556.4" cy="69.5" r="0.5" fill="rgb(98,98,98)"/><circle cx="528.5" cy="62.1" r="0.5" fill="rgb(80,80,80)"/><circle cx="532.5" cy="61.9" r="0.42" fill="rgb(189,189,189)"/><circle cx="551.2" cy="100.7" r="0.42" fill="rgb(207,207,207)"/><circle cx="556.6" cy="66.1" r="0.5" fill="rgb(54,54,54)"/><circle cx="558.6" cy="100.4" r="0.42" fill="rgb(184,184,184)"/><circle cx="559.1" cy="97.9" r="0.42" fill="rgb(228,228,228)"/><circle cx="545.7" cy="95.1" r="0.5" fill="rgb(38,38,38)"/><circle cx="532.4" cy="54.4" r="0.5" fill="rgb(67,67,67)"/><circle cx="547.0" cy="72.7" r="0.5" fill="rgb(47,47,47)"/><circle cx="559.2" cy="102.0" r="0.5" fill="rgb(39,39,39)"/><circle cx="553.0" cy="88.7" r="0.5" fill="rgb(20,20,20)"/><circle cx="548.6" cy="55.0" r="0.5" fill="rgb(69,69,69)"/><circle cx="552.3" cy="88.2" r="0.5" fill="rgb(37,37,37)"/><circle cx="553.7" cy="98.1" r="0.42" fill="rgb(225,225,225)"/><circle cx="544.0" cy="69.5" r="0.5" fill="rgb(96,96,96)"/><circle cx="547.9" cy="55.4" r="0.42" fill="rgb(192,192,192)"/><circle cx="548.7" cy="112.3" r="0.42" fill="rgb(170,170,170)"/><circle cx="550.1" cy="92.9" r="0.5" fill="rgb(55,55,55)"/><circle cx="558.6" cy="106.1" r="0.42" fill="rgb(191,191,191)"/><circle cx="548.4" cy="62.0" r="0.5" fill="rgb(22,22,22)"/><circle cx="547.9" cy="62.3" r="0.42" fill="rgb(187,187,187)"/><circle cx="530.9" cy="72.6" r="0.42" fill="rgb(209,209,209)"/><circle cx="541.8" cy="103.1" r="0.5" fill="rgb(70,70,70)"/><circle cx="545.7" cy="59.0" r="0.42" fill="rgb(216,216,216)"/><circle cx="557.5" cy="94.3" r="0.5" fill="rgb(69,69,69)"/><circle cx="553.8" cy="96.5" r="0.42" fill="rgb(184,184,184)"/><circle cx="548.7" cy="101.6" r="0.42" fill="rgb(188,188,188)"/><circle cx="555.5" cy="64.2" r="0.42" fill="rgb(203,203,203)"/><circle cx="557.6" cy="81.2" r="0.42" fill="rgb(210,210,210)"/><circle cx="556.4" cy="92.7" r="0.42" fill="rgb(220,220,220)"/><circle cx="552.8" cy="58.4" r="0.5" fill="rgb(25,25,25)"/><circle cx="540.2" cy="100.6" r="0.42" fill="rgb(212,212,212)"/><circle cx="547.0" cy="99.6" r="0.5" fill="rgb(48,48,48)"/><circle cx="546.0" cy="93.0" r="0.42" fill="rgb(173,173,173)"/><circle cx="556.1" cy="88.4" r="0.5" fill="rgb(25,25,25)"/><circle cx="544.2" cy="53.5" r="0.42" fill="rgb(228,228,228)"/><circle cx="545.4" cy="71.0" r="0.5" fill="rgb(66,66,66)"/><circle cx="543.9" cy="70.1" r="0.42" fill="rgb(185,185,185)"/><circle cx="537.1" cy="68.6" r="0.42" fill="rgb(200,200,200)"/><circle cx="552.4" cy="106.9" r="0.5" fill="rgb(58,58,58)"/><circle cx="556.0" cy="85.4" r="0.42" fill="rgb(190,190,190)"/><circle cx="539.9" cy="61.3" r="0.5" fill="rgb(103,103,103)"/><circle cx="554.1" cy="98.4" r="0.42" fill="rgb(170,170,170)"/><circle cx="550.9" cy="73.3" r="0.42" fill="rgb(225,225,225)"/><circle cx="539.1" cy="54.5" r="0.5" fill="rgb(86,86,86)"/><circle cx="555.0" cy="115.4" r="0.5" fill="rgb(86,86,86)"/><circle cx="556.4" cy="65.4" r="0.5" fill="rgb(33,33,33)"/><circle cx="549.3" cy="92.0" r="0.42" fill="rgb(194,194,194)"/><circle cx="547.1" cy="94.1" r="0.42" fill="rgb(203,203,203)"/><circle cx="547.0" cy="62.5" r="0.42" fill="rgb(171,171,171)"/><circle cx="540.3" cy="64.6" r="0.5" fill="rgb(83,83,83)"/><circle cx="537.4" cy="64.2" r="0.42" fill="rgb(186,186,186)"/><circle cx="530.5" cy="54.7" r="0.42" fill="rgb(207,207,207)"/><circle cx="543.8" cy="94.0" r="0.42" fill="rgb(173,173,173)"/><circle cx="543.5" cy="105.1" r="0.42" fill="rgb(183,183,183)"/><circle cx="556.3" cy="77.8" r="0.5" fill="rgb(102,102,102)"/><circle cx="546.0" cy="101.5" r="0.5" fill="rgb(40,40,40)"/><circle cx="559.6" cy="81.3" r="0.42" fill="rgb(189,189,189)"/><circle cx="552.4" cy="73.1" r="0.42" fill="rgb(216,216,216)"/><circle cx="552.1" cy="73.9" r="0.5" fill="rgb(86,86,86)"/><circle cx="540.6" cy="60.5" r="0.5" fill="rgb(86,86,86)"/><circle cx="543.4" cy="105.0" r="0.5" fill="rgb(43,43,43)"/><circle cx="555.4" cy="111.5" r="0.5" fill="rgb(25,25,25)"/><circle cx="531.5" cy="62.2" r="0.42" fill="rgb(218,218,218)"/><circle cx="547.2" cy="108.5" r="0.42" fill="rgb(177,177,177)"/><circle cx="543.6" cy="62.0" r="0.5" fill="rgb(34,34,34)"/><circle cx="548.6" cy="74.3" r="0.5" fill="rgb(49,49,49)"/><circle cx="546.0" cy="60.4" r="0.42" fill="rgb(227,227,227)"/><circle cx="541.1" cy="69.0" r="0.5" fill="rgb(97,97,97)"/><circle cx="551.5" cy="109.4" r="0.5" fill="rgb(96,96,96)"/><circle cx="533.7" cy="50.4" r="0.42" fill="rgb(191,191,191)"/><circle cx="553.5" cy="100.6" r="0.42" fill="rgb(225,225,225)"/><circle cx="552.5" cy="73.0" r="0.5" fill="rgb(106,106,106)"/><circle cx="547.2" cy="93.6" r="0.42" fill="rgb(214,214,214)"/><circle cx="549.2" cy="92.1" r="0.5" fill="rgb(46,46,46)"/><circle cx="550.3" cy="96.6" r="0.5" fill="rgb(81,81,81)"/><circle cx="554.9" cy="70.6" r="0.5" fill="rgb(62,62,62)"/><circle cx="529.3" cy="68.1" r="0.5" fill="rgb(97,97,97)"/><circle cx="548.5" cy="92.9" r="0.5" fill="rgb(29,29,29)"/><circle cx="541.1" cy="58.0" r="0.42" fill="rgb(172,172,172)"/><circle cx="555.7" cy="87.5" r="0.5" fill="rgb(87,87,87)"/><circle cx="556.8" cy="91.2" r="0.5" fill="rgb(93,93,93)"/><circle cx="553.9" cy="82.3" r="0.42" fill="rgb(174,174,174)"/><circle cx="540.8" cy="57.6" r="0.42" fill="rgb(217,217,217)"/><circle cx="536.5" cy="52.5" r="0.5" fill="rgb(77,77,77)"/><circle cx="555.7" cy="63.4" r="0.42" fill="rgb(214,214,214)"/><circle cx="552.3" cy="88.0" r="0.42" fill="rgb(202,202,202)"/><circle cx="549.2" cy="69.2" r="0.5" fill="rgb(90,90,90)"/><circle cx="551.8" cy="105.6" r="0.5" fill="rgb(37,37,37)"/><circle cx="550.9" cy="76.3" r="0.5" fill="rgb(107,107,107)"/><circle cx="549.5" cy="79.7" r="0.42" fill="rgb(196,196,196)"/><circle cx="557.8" cy="70.9" r="0.5" fill="rgb(106,106,106)"/><circle cx="554.4" cy="112.2" r="0.42" fill="rgb(214,214,214)"/><circle cx="557.5" cy="84.7" r="0.42" fill="rgb(191,191,191)"/><circle cx="543.0" cy="54.3" r="0.5" fill="rgb(29,29,29)"/><circle cx="533.3" cy="61.8" r="0.42" fill="rgb(201,201,201)"/><circle cx="544.0" cy="105.0" r="0.5" fill="rgb(96,96,96)"/><circle cx="560.2" cy="94.6" r="0.5" fill="rgb(72,72,72)"/><circle cx="561.0" cy="88.7" r="0.5" fill="rgb(98,98,98)"/><circle cx="539.7" cy="57.5" r="0.42" fill="rgb(170,170,170)"/><circle cx="541.7" cy="66.2" r="0.42" fill="rgb(174,174,174)"/><circle cx="544.5" cy="54.2" r="0.42" fill="rgb(181,181,181)"/><circle cx="549.2" cy="84.3" r="0.42" fill="rgb(206,206,206)"/><circle cx="558.1" cy="80.7" r="0.42" fill="rgb(224,224,224)"/><circle cx="550.2" cy="106.4" r="0.42" fill="rgb(194,194,194)"/><circle cx="540.8" cy="51.7" r="0.5" fill="rgb(45,45,45)"/><circle cx="545.2" cy="67.1" r="0.5" fill="rgb(92,92,92)"/><circle cx="544.9" cy="63.1" r="0.42" fill="rgb(181,181,181)"/><circle cx="549.6" cy="90.9" r="0.5" fill="rgb(54,54,54)"/><circle cx="562.0" cy="81.2" r="0.5" fill="rgb(22,22,22)"/><circle cx="547.9" cy="77.7" r="0.42" fill="rgb(179,179,179)"/><circle cx="553.2" cy="66.6" r="0.5" fill="rgb(103,103,103)"/><circle cx="553.4" cy="61.3" r="0.5" fill="rgb(41,41,41)"/><circle cx="545.9" cy="103.0" r="0.5" fill="rgb(107,107,107)"/><circle cx="562.6" cy="85.8" r="0.42" fill="rgb(221,221,221)"/><circle cx="533.2" cy="56.7" r="0.5" fill="rgb(29,29,29)"/><circle cx="532.4" cy="57.4" r="0.42" fill="rgb(193,193,193)"/><circle cx="545.2" cy="108.3" r="0.42" fill="rgb(204,204,204)"/><circle cx="552.2" cy="91.9" r="0.5" fill="rgb(104,104,104)"/><circle cx="553.1" cy="95.0" r="0.42" fill="rgb(191,191,191)"/><circle cx="556.8" cy="79.8" r="0.42" fill="rgb(219,219,219)"/><circle cx="548.1" cy="89.1" r="0.5" fill="rgb(105,105,105)"/><circle cx="549.4" cy="104.3" r="0.5" fill="rgb(74,74,74)"/><circle cx="529.6" cy="53.9" r="0.5" fill="rgb(67,67,67)"/><circle cx="548.4" cy="66.2" r="0.5" fill="rgb(52,52,52)"/><circle cx="556.3" cy="66.4" r="0.42" fill="rgb(175,175,175)"/><circle cx="535.1" cy="60.2" r="0.42" fill="rgb(178,178,178)"/><circle cx="561.6" cy="86.3" r="0.42" fill="rgb(186,186,186)"/><circle cx="554.5" cy="98.0" r="0.5" fill="rgb(74,74,74)"/><circle cx="532.3" cy="68.1" r="0.42" fill="rgb(198,198,198)"/><circle cx="543.9" cy="102.5" r="0.42" fill="rgb(175,175,175)"/><circle cx="541.4" cy="105.0" r="0.42" fill="rgb(187,187,187)"/><circle cx="550.2" cy="67.6" r="0.5" fill="rgb(84,84,84)"/><circle cx="557.9" cy="95.0" r="0.42" fill="rgb(209,209,209)"/><circle cx="560.8" cy="89.0" r="0.5" fill="rgb(91,91,91)"/><circle cx="546.2" cy="53.3" r="0.5" fill="rgb(40,40,40)"/><circle cx="548.2" cy="69.0" r="0.42" fill="rgb(196,196,196)"/><circle cx="556.2" cy="72.3" r="0.42" fill="rgb(226,226,226)"/><circle cx="547.6" cy="86.7" r="0.42" fill="rgb(185,185,185)"/><circle cx="550.9" cy="61.2" r="0.42" fill="rgb(214,214,214)"/><circle cx="552.9" cy="66.4" r="0.42" fill="rgb(198,198,198)"/><circle cx="554.1" cy="114.7" r="0.5" fill="rgb(87,87,87)"/><circle cx="529.4" cy="58.6" r="0.42" fill="rgb(193,193,193)"/><circle cx="550.5" cy="100.8" r="0.5" fill="rgb(101,101,101)"/><circle cx="544.1" cy="96.3" r="0.5" fill="rgb(31,31,31)"/><circle cx="554.2" cy="79.5" r="0.5" fill="rgb(40,40,40)"/><circle cx="554.1" cy="78.5" r="0.42" fill="rgb(192,192,192)"/><circle cx="546.2" cy="54.0" r="0.5" fill="rgb(55,55,55)"/><circle cx="553.9" cy="111.7" r="0.5" fill="rgb(33,33,33)"/><circle cx="531.0" cy="66.4" r="0.42" fill="rgb(184,184,184)"/><circle cx="556.5" cy="97.6" r="0.5" fill="rgb(82,82,82)"/><circle cx="539.2" cy="65.5" r="0.5" fill="rgb(37,37,37)"/><circle cx="550.2" cy="88.3" r="0.5" fill="rgb(90,90,90)"/><circle cx="548.0" cy="106.6" r="0.42" fill="rgb(226,226,226)"/><circle cx="545.9" cy="71.4" r="0.5" fill="rgb(47,47,47)"/><circle cx="549.1" cy="64.1" r="0.42" fill="rgb(201,201,201)"/><circle cx="547.3" cy="54.0" r="0.42" fill="rgb(210,210,210)"/><circle cx="547.8" cy="85.6" r="0.5" fill="rgb(88,88,88)"/><circle cx="541.0" cy="73.1" r="0.42" fill="rgb(206,206,206)"/><circle cx="541.7" cy="101.3" r="0.5" fill="rgb(58,58,58)"/><circle cx="539.4" cy="58.3" r="0.42" fill="rgb(191,191,191)"/><circle cx="543.2" cy="65.1" r="0.42" fill="rgb(224,224,224)"/><circle cx="547.2" cy="92.9" r="0.42" fill="rgb(221,221,221)"/><circle cx="563.1" cy="93.9" r="0.5" fill="rgb(95,95,95)"/><circle cx="543.5" cy="95.4" r="0.42" fill="rgb(214,214,214)"/><circle cx="558.8" cy="83.7" r="0.5" fill="rgb(24,24,24)"/><circle cx="531.0" cy="51.8" r="0.42" fill="rgb(197,197,197)"/><circle cx="544.5" cy="92.3" r="0.42" fill="rgb(193,193,193)"/><circle cx="557.6" cy="67.6" r="0.42" fill="rgb(180,180,180)"/><circle cx="546.5" cy="99.2" r="0.42" fill="rgb(179,179,179)"/><circle cx="555.8" cy="86.2" r="0.42" fill="rgb(216,216,216)"/><circle cx="538.6" cy="57.4" r="0.42" fill="rgb(192,192,192)"/><circle cx="537.0" cy="62.3" r="0.5" fill="rgb(41,41,41)"/><circle cx="549.8" cy="87.6" r="0.42" fill="rgb(202,202,202)"/><circle cx="549.5" cy="101.4" r="0.42" fill="rgb(219,219,219)"/><circle cx="558.8" cy="104.0" r="0.5" fill="rgb(84,84,84)"/><circle cx="536.0" cy="70.8" r="0.42" fill="rgb(203,203,203)"/><circle cx="530.1" cy="67.0" r="0.5" fill="rgb(59,59,59)"/><circle cx="556.5" cy="97.6" r="0.42" fill="rgb(182,182,182)"/><circle cx="555.4" cy="62.2" r="0.5" fill="rgb(43,43,43)"/><circle cx="553.9" cy="72.8" r="0.42" fill="rgb(180,180,180)"/><circle cx="543.2" cy="65.4" r="0.42" fill="rgb(228,228,228)"/><circle cx="548.5" cy="87.4" r="0.5" fill="rgb(54,54,54)"/><circle cx="549.9" cy="95.7" r="0.5" fill="rgb(37,37,37)"/><circle cx="551.2" cy="77.6" r="0.5" fill="rgb(79,79,79)"/><circle cx="551.5" cy="72.0" r="0.42" fill="rgb(187,187,187)"/><circle cx="553.6" cy="69.6" r="0.5" fill="rgb(32,32,32)"/><circle cx="538.6" cy="53.7" r="0.5" fill="rgb(50,50,50)"/><circle cx="546.4" cy="108.4" r="0.42" fill="rgb(171,171,171)"/><circle cx="543.3" cy="57.1" r="0.5" fill="rgb(84,84,84)"/><circle cx="541.6" cy="104.5" r="0.42" fill="rgb(196,196,196)"/><circle cx="557.6" cy="107.0" r="0.5" fill="rgb(74,74,74)"/><circle cx="562.2" cy="90.6" r="0.5" fill="rgb(81,81,81)"/><circle cx="550.6" cy="76.6" r="0.5" fill="rgb(53,53,53)"/><circle cx="546.6" cy="103.3" r="0.42" fill="rgb(182,182,182)"/><circle cx="555.8" cy="102.2" r="0.42" fill="rgb(221,221,221)"/><circle cx="563.1" cy="83.2" r="0.5" fill="rgb(78,78,78)"/>
<circle cx="538.0" cy="70.9" r="0.5" fill="rgb(91,91,91)"/><circle cx="538.2" cy="68.5" r="0.5" fill="rgb(45,45,45)"/><circle cx="538.2" cy="72.6" r="0.5" fill="rgb(25,25,25)"/><circle cx="530.6" cy="70.0" r="0.42" fill="rgb(221,221,221)"/><circle cx="534.2" cy="65.3" r="0.5" fill="rgb(59,59,59)"/><circle cx="531.5" cy="66.0" r="0.5" fill="rgb(100,100,100)"/><circle cx="531.5" cy="68.1" r="0.5" fill="rgb(71,71,71)"/><circle cx="531.7" cy="67.1" r="0.5" fill="rgb(110,110,110)"/><circle cx="539.6" cy="71.2" r="0.5" fill="rgb(106,106,106)"/><circle cx="536.2" cy="70.7" r="0.42" fill="rgb(222,222,222)"/><circle cx="534.1" cy="69.4" r="0.42" fill="rgb(206,206,206)"/><circle cx="537.3" cy="70.2" r="0.5" fill="rgb(67,67,67)"/><circle cx="538.0" cy="68.3" r="0.5" fill="rgb(101,101,101)"/><circle cx="540.3" cy="65.3" r="0.5" fill="rgb(41,41,41)"/><circle cx="535.9" cy="66.6" r="0.42" fill="rgb(200,200,200)"/><circle cx="537.3" cy="64.7" r="0.42" fill="rgb(220,220,220)"/><circle cx="536.6" cy="70.0" r="0.5" fill="rgb(34,34,34)"/><circle cx="535.1" cy="65.0" r="0.5" fill="rgb(63,63,63)"/><circle cx="536.5" cy="72.9" r="0.5" fill="rgb(52,52,52)"/><circle cx="533.9" cy="72.0" r="0.42" fill="rgb(197,197,197)"/><circle cx="538.8" cy="66.8" r="0.42" fill="rgb(215,215,215)"/><circle cx="534.6" cy="70.6" r="0.42" fill="rgb(216,216,216)"/><circle cx="535.5" cy="71.9" r="0.5" fill="rgb(86,86,86)"/><circle cx="532.3" cy="72.9" r="0.5" fill="rgb(92,92,92)"/><circle cx="536.7" cy="70.3" r="0.42" fill="rgb(178,178,178)"/><circle cx="530.4" cy="71.1" r="0.5" fill="rgb(34,34,34)"/><circle cx="529.4" cy="73.5" r="0.5" fill="rgb(23,23,23)"/><circle cx="538.5" cy="65.4" r="0.5" fill="rgb(23,23,23)"/><circle cx="538.4" cy="67.4" r="0.5" fill="rgb(81,81,81)"/><circle cx="540.7" cy="67.7" r="0.5" fill="rgb(59,59,59)"/><circle cx="538.1" cy="64.4" r="0.5" fill="rgb(80,80,80)"/><circle cx="530.2" cy="68.8" r="0.5" fill="rgb(92,92,92)"/><circle cx="532.3" cy="74.2" r="0.42" fill="rgb(204,204,204)"/><circle cx="534.2" cy="74.7" r="0.5" fill="rgb(79,79,79)"/><circle cx="533.4" cy="74.9" r="0.5" fill="rgb(26,26,26)"/><circle cx="533.6" cy="68.7" r="0.42" fill="rgb(203,203,203)"/><circle cx="534.3" cy="65.7" r="0.5" fill="rgb(95,95,95)"/><circle cx="531.3" cy="74.0" r="0.42" fill="rgb(172,172,172)"/><circle cx="532.9" cy="66.9" r="0.5" fill="rgb(23,23,23)"/><circle cx="538.9" cy="67.3" r="0.42" fill="rgb(216,216,216)"/><circle cx="535.4" cy="65.7" r="0.42" fill="rgb(227,227,227)"/><circle cx="540.2" cy="72.3" r="0.5" fill="rgb(56,56,56)"/><circle cx="540.4" cy="66.7" r="0.5" fill="rgb(43,43,43)"/><circle cx="535.4" cy="69.6" r="0.5" fill="rgb(89,89,89)"/><circle cx="534.0" cy="70.1" r="0.5" fill="rgb(98,98,98)"/><circle cx="538.5" cy="66.2" r="0.5" fill="rgb(110,110,110)"/><circle cx="531.5" cy="67.8" r="0.5" fill="rgb(58,58,58)"/><circle cx="531.4" cy="71.8" r="0.5" fill="rgb(70,70,70)"/><circle cx="540.6" cy="68.0" r="0.5" fill="rgb(71,71,71)"/><circle cx="529.9" cy="69.3" r="0.42" fill="rgb(205,205,205)"/>
<circle cx="553.8" cy="125.4" r="0.42" fill="rgb(223,223,223)"/><circle cx="552.7" cy="120.0" r="0.42" fill="rgb(213,213,213)"/><circle cx="555.6" cy="120.2" r="0.5" fill="rgb(99,99,99)"/><circle cx="551.0" cy="127.9" r="0.42" fill="rgb(209,209,209)"/><circle cx="551.5" cy="119.5" r="0.42" fill="rgb(206,206,206)"/><circle cx="552.8" cy="118.7" r="0.5" fill="rgb(49,49,49)"/><circle cx="550.4" cy="114.0" r="0.5" fill="rgb(93,93,93)"/><circle cx="551.5" cy="119.6" r="0.5" fill="rgb(43,43,43)"/><circle cx="555.3" cy="116.1" r="0.42" fill="rgb(206,206,206)"/><circle cx="554.3" cy="116.6" r="0.42" fill="rgb(221,221,221)"/><circle cx="555.2" cy="118.7" r="0.42" fill="rgb(172,172,172)"/><circle cx="551.1" cy="118.6" r="0.42" fill="rgb(199,199,199)"/><circle cx="552.1" cy="121.4" r="0.42" fill="rgb(184,184,184)"/><circle cx="550.0" cy="127.1" r="0.5" fill="rgb(49,49,49)"/><circle cx="555.2" cy="124.4" r="0.42" fill="rgb(223,223,223)"/><circle cx="554.9" cy="116.5" r="0.42" fill="rgb(196,196,196)"/><circle cx="553.8" cy="115.7" r="0.5" fill="rgb(36,36,36)"/><circle cx="550.1" cy="127.1" r="0.5" fill="rgb(25,25,25)"/><circle cx="555.7" cy="119.3" r="0.5" fill="rgb(26,26,26)"/><circle cx="555.4" cy="117.4" r="0.42" fill="rgb(226,226,226)"/>
<circle cx="550.1" cy="142.1" r="0.5" fill="rgb(91,91,91)"/><circle cx="550.9" cy="131.0" r="0.42" fill="rgb(211,211,211)"/><circle cx="557.4" cy="139.3" r="0.42" fill="rgb(195,195,195)"/><circle cx="552.3" cy="145.2" r="0.42" fill="rgb(219,219,219)"/><circle cx="550.1" cy="135.7" r="0.42" fill="rgb(181,181,181)"/><circle cx="551.7" cy="132.2" r="0.42" fill="rgb(219,219,219)"/><circle cx="556.5" cy="133.9" r="0.42" fill="rgb(173,173,173)"/><circle cx="552.3" cy="128.3" r="0.42" fill="rgb(207,207,207)"/><circle cx="545.1" cy="139.9" r="0.42" fill="rgb(188,188,188)"/><circle cx="558.2" cy="137.1" r="0.42" fill="rgb(222,222,222)"/><circle cx="554.9" cy="128.8" r="0.5" fill="rgb(56,56,56)"/><circle cx="543.9" cy="136.6" r="0.42" fill="rgb(176,176,176)"/><circle cx="550.2" cy="141.8" r="0.42" fill="rgb(223,223,223)"/><circle cx="546.8" cy="132.0" r="0.42" fill="rgb(177,177,177)"/><circle cx="555.3" cy="138.2" r="0.5" fill="rgb(90,90,90)"/><circle cx="551.1" cy="145.8" r="0.42" fill="rgb(202,202,202)"/><circle cx="547.6" cy="141.1" r="0.42" fill="rgb(211,211,211)"/><circle cx="548.5" cy="139.2" r="0.42" fill="rgb(211,211,211)"/><circle cx="552.2" cy="139.1" r="0.5" fill="rgb(62,62,62)"/><circle cx="555.4" cy="144.4" r="0.5" fill="rgb(99,99,99)"/><circle cx="551.3" cy="141.9" r="0.5" fill="rgb(30,30,30)"/><circle cx="552.0" cy="136.1" r="0.42" fill="rgb(198,198,198)"/><circle cx="549.6" cy="146.7" r="0.5" fill="rgb(21,21,21)"/><circle cx="554.6" cy="128.5" r="0.42" fill="rgb(214,214,214)"/><circle cx="553.8" cy="135.3" r="0.42" fill="rgb(212,212,212)"/><circle cx="556.2" cy="135.6" r="0.5" fill="rgb(105,105,105)"/><circle cx="551.6" cy="132.8" r="0.42" fill="rgb(176,176,176)"/><circle cx="550.4" cy="135.5" r="0.42" fill="rgb(170,170,170)"/><circle cx="550.5" cy="132.8" r="0.42" fill="rgb(209,209,209)"/><circle cx="554.0" cy="132.6" r="0.42" fill="rgb(212,212,212)"/><circle cx="546.4" cy="129.7" r="0.5" fill="rgb(28,28,28)"/><circle cx="552.2" cy="131.8" r="0.42" fill="rgb(177,177,177)"/><circle cx="550.6" cy="147.2" r="0.42" fill="rgb(214,214,214)"/><circle cx="547.1" cy="130.6" r="0.42" fill="rgb(188,188,188)"/><circle cx="553.4" cy="140.0" r="0.42" fill="rgb(199,199,199)"/><circle cx="549.5" cy="139.3" r="0.5" fill="rgb(109,109,109)"/><circle cx="546.8" cy="129.5" r="0.42" fill="rgb(198,198,198)"/><circle cx="545.2" cy="134.6" r="0.5" fill="rgb(88,88,88)"/><circle cx="553.5" cy="141.5" r="0.42" fill="rgb(184,184,184)"/><circle cx="547.4" cy="136.8" r="0.5" fill="rgb(81,81,81)"/><circle cx="557.4" cy="136.9" r="0.42" fill="rgb(172,172,172)"/><circle cx="552.4" cy="133.5" r="0.5" fill="rgb(86,86,86)"/><circle cx="552.5" cy="131.1" r="0.5" fill="rgb(58,58,58)"/><circle cx="551.0" cy="143.5" r="0.42" fill="rgb(226,226,226)"/><circle cx="547.3" cy="140.0" r="0.42" fill="rgb(220,220,220)"/><circle cx="555.8" cy="131.2" r="0.42" fill="rgb(191,191,191)"/><circle cx="548.2" cy="146.3" r="0.42" fill="rgb(215,215,215)"/><circle cx="556.3" cy="130.8" r="0.42" fill="rgb(197,197,197)"/><circle cx="553.4" cy="137.2" r="0.5" fill="rgb(84,84,84)"/><circle cx="555.4" cy="134.4" r="0.42" fill="rgb(221,221,221)"/><circle cx="552.8" cy="139.8" r="0.42" fill="rgb(192,192,192)"/><circle cx="549.8" cy="130.6" r="0.42" fill="rgb(175,175,175)"/><circle cx="555.9" cy="132.9" r="0.5" fill="rgb(88,88,88)"/><circle cx="554.5" cy="140.4" r="0.42" fill="rgb(203,203,203)"/><circle cx="545.8" cy="136.6" r="0.5" fill="rgb(22,22,22)"/><circle cx="554.4" cy="144.0" r="0.42" fill="rgb(185,185,185)"/><circle cx="557.3" cy="137.8" r="0.42" fill="rgb(172,172,172)"/><circle cx="544.8" cy="131.4" r="0.5" fill="rgb(30,30,30)"/><circle cx="549.2" cy="139.9" r="0.42" fill="rgb(204,204,204)"/><circle cx="553.6" cy="139.8" r="0.42" fill="rgb(186,186,186)"/><circle cx="550.2" cy="140.6" r="0.42" fill="rgb(208,208,208)"/><circle cx="557.8" cy="135.6" r="0.5" fill="rgb(53,53,53)"/><circle cx="548.0" cy="142.2" r="0.5" fill="rgb(91,91,91)"/><circle cx="555.5" cy="139.4" r="0.42" fill="rgb(182,182,182)"/><circle cx="546.1" cy="144.1" r="0.5" fill="rgb(75,75,75)"/><circle cx="553.9" cy="137.9" r="0.5" fill="rgb(55,55,55)"/><circle cx="552.8" cy="133.6" r="0.5" fill="rgb(52,52,52)"/><circle cx="556.3" cy="140.7" r="0.5" fill="rgb(75,75,75)"/><circle cx="546.1" cy="140.2" r="0.5" fill="rgb(25,25,25)"/><circle cx="548.0" cy="141.7" r="0.5" fill="rgb(79,79,79)"/><circle cx="548.9" cy="143.0" r="0.42" fill="rgb(202,202,202)"/><circle cx="547.7" cy="135.3" r="0.5" fill="rgb(80,80,80)"/><circle cx="552.2" cy="139.1" r="0.42" fill="rgb(208,208,208)"/><circle cx="545.6" cy="138.4" r="0.42" fill="rgb(181,181,181)"/><circle cx="551.7" cy="145.8" r="0.5" fill="rgb(76,76,76)"/><circle cx="548.0" cy="141.5" r="0.42" fill="rgb(187,187,187)"/><circle cx="545.7" cy="134.1" r="0.5" fill="rgb(52,52,52)"/><circle cx="547.1" cy="129.7" r="0.5" fill="rgb(75,75,75)"/><circle cx="552.5" cy="144.9" r="0.5" fill="rgb(62,62,62)"/><circle cx="545.5" cy="131.6" r="0.5" fill="rgb(70,70,70)"/><circle cx="549.9" cy="140.2" r="0.42" fill="rgb(177,177,177)"/><circle cx="556.6" cy="134.3" r="0.42" fill="rgb(191,191,191)"/><circle cx="549.6" cy="142.9" r="0.42" fill="rgb(177,177,177)"/><circle cx="547.0" cy="134.5" r="0.42" fill="rgb(206,206,206)"/><circle cx="549.2" cy="140.6" r="0.5" fill="rgb(109,109,109)"/><circle cx="550.8" cy="137.3" r="0.5" fill="rgb(97,97,97)"/><circle cx="551.7" cy="139.3" r="0.42" fill="rgb(207,207,207)"/><circle cx="548.8" cy="143.1" r="0.42" fill="rgb(202,202,202)"/><circle cx="552.0" cy="142.7" r="0.5" fill="rgb(75,75,75)"/><circle cx="552.1" cy="139.6" r="0.5" fill="rgb(22,22,22)"/><circle cx="545.5" cy="138.4" r="0.5" fill="rgb(97,97,97)"/><circle cx="557.1" cy="140.3" r="0.42" fill="rgb(174,174,174)"/><circle cx="549.1" cy="140.6" r="0.5" fill="rgb(40,40,40)"/><circle cx="547.4" cy="135.7" r="0.5" fill="rgb(66,66,66)"/><circle cx="546.5" cy="141.4" r="0.5" fill="rgb(37,37,37)"/><circle cx="545.3" cy="131.7" r="0.42" fill="rgb(177,177,177)"/><circle cx="553.6" cy="140.7" r="0.5" fill="rgb(89,89,89)"/><circle cx="548.4" cy="140.6" r="0.5" fill="rgb(60,60,60)"/><circle cx="545.2" cy="136.4" r="0.42" fill="rgb(181,181,181)"/><circle cx="553.5" cy="142.7" r="0.42" fill="rgb(177,177,177)"/><circle cx="553.4" cy="141.1" r="0.42" fill="rgb(183,183,183)"/><circle cx="545.5" cy="131.5" r="0.5" fill="rgb(42,42,42)"/><circle cx="547.2" cy="131.7" r="0.42" fill="rgb(175,175,175)"/><circle cx="550.8" cy="139.0" r="0.5" fill="rgb(27,27,27)"/><circle cx="554.5" cy="136.3" r="0.5" fill="rgb(20,20,20)"/><circle cx="547.3" cy="134.6" r="0.5" fill="rgb(106,106,106)"/><circle cx="549.1" cy="133.6" r="0.42" fill="rgb(185,185,185)"/><circle cx="554.8" cy="138.5" r="0.42" fill="rgb(214,214,214)"/><circle cx="546.2" cy="139.1" r="0.5" fill="rgb(39,39,39)"/><circle cx="545.1" cy="135.5" r="0.42" fill="rgb(183,183,183)"/>
<circle cx="603.3" cy="53.6" r="0.5" fill="rgb(106,106,106)"/><circle cx="605.6" cy="61.1" r="0.5" fill="rgb(68,68,68)"/><circle cx="615.8" cy="55.1" r="0.5" fill="rgb(26,26,26)"/><circle cx="594.3" cy="57.7" r="0.42" fill="rgb(207,207,207)"/><circle cx="597.2" cy="66.6" r="0.42" fill="rgb(219,219,219)"/><circle cx="598.3" cy="48.5" r="0.42" fill="rgb(221,221,221)"/><circle cx="595.0" cy="49.3" r="0.42" fill="rgb(224,224,224)"/><circle cx="594.4" cy="60.5" r="0.5" fill="rgb(94,94,94)"/><circle cx="599.9" cy="69.7" r="0.5" fill="rgb(22,22,22)"/><circle cx="604.3" cy="59.8" r="0.42" fill="rgb(182,182,182)"/><circle cx="602.2" cy="54.3" r="0.42" fill="rgb(175,175,175)"/><circle cx="609.4" cy="46.5" r="0.42" fill="rgb(216,216,216)"/><circle cx="605.7" cy="60.8" r="0.5" fill="rgb(54,54,54)"/><circle cx="610.3" cy="59.8" r="0.5" fill="rgb(110,110,110)"/><circle cx="601.8" cy="70.1" r="0.5" fill="rgb(84,84,84)"/><circle cx="592.6" cy="53.3" r="0.42" fill="rgb(207,207,207)"/><circle cx="605.9" cy="63.3" r="0.42" fill="rgb(177,177,177)"/><circle cx="613.5" cy="60.1" r="0.42" fill="rgb(195,195,195)"/><circle cx="610.5" cy="53.7" r="0.42" fill="rgb(170,170,170)"/><circle cx="602.6" cy="48.6" r="0.42" fill="rgb(190,190,190)"/><circle cx="612.3" cy="51.5" r="0.42" fill="rgb(203,203,203)"/><circle cx="611.4" cy="67.0" r="0.42" fill="rgb(215,215,215)"/><circle cx="611.3" cy="59.5" r="0.5" fill="rgb(102,102,102)"/><circle cx="601.7" cy="53.6" r="0.42" fill="rgb(193,193,193)"/><circle cx="595.0" cy="51.0" r="0.42" fill="rgb(226,226,226)"/><circle cx="598.1" cy="43.6" r="0.42" fill="rgb(181,181,181)"/><circle cx="598.2" cy="47.1" r="0.5" fill="rgb(38,38,38)"/><circle cx="596.8" cy="54.1" r="0.42" fill="rgb(221,221,221)"/><circle cx="600.5" cy="46.4" r="0.42" fill="rgb(178,178,178)"/><circle cx="599.0" cy="45.7" r="0.42" fill="rgb(179,179,179)"/><circle cx="609.4" cy="65.7" r="0.42" fill="rgb(226,226,226)"/><circle cx="612.0" cy="62.6" r="0.42" fill="rgb(208,208,208)"/><circle cx="613.9" cy="57.3" r="0.5" fill="rgb(26,26,26)"/><circle cx="598.6" cy="46.0" r="0.42" fill="rgb(222,222,222)"/><circle cx="596.0" cy="56.2" r="0.42" fill="rgb(194,194,194)"/><circle cx="593.6" cy="59.0" r="0.42" fill="rgb(186,186,186)"/><circle cx="605.2" cy="71.2" r="0.5" fill="rgb(94,94,94)"/><circle cx="614.2" cy="58.9" r="0.42" fill="rgb(204,204,204)"/><circle cx="607.9" cy="66.7" r="0.42" fill="rgb(206,206,206)"/><circle cx="605.3" cy="51.3" r="0.42" fill="rgb(216,216,216)"/><circle cx="595.0" cy="45.1" r="0.42" fill="rgb(173,173,173)"/><circle cx="604.0" cy="61.7" r="0.5" fill="rgb(97,97,97)"/><circle cx="592.2" cy="49.6" r="0.42" fill="rgb(193,193,193)"/><circle cx="612.5" cy="64.6" r="0.42" fill="rgb(226,226,226)"/><circle cx="597.7" cy="61.3" r="0.5" fill="rgb(26,26,26)"/><circle cx="608.8" cy="54.6" r="0.5" fill="rgb(44,44,44)"/><circle cx="607.4" cy="59.0" r="0.42" fill="rgb(215,215,215)"/><circle cx="611.3" cy="52.3" r="0.42" fill="rgb(170,170,170)"/><circle cx="603.3" cy="55.9" r="0.5" fill="rgb(69,69,69)"/><circle cx="594.2" cy="52.8" r="0.42" fill="rgb(219,219,219)"/><circle cx="593.6" cy="45.2" r="0.5" fill="rgb(100,100,100)"/><circle cx="604.8" cy="53.5" r="0.42" fill="rgb(185,185,185)"/><circle cx="598.0" cy="60.9" r="0.42" fill="rgb(203,203,203)"/><circle cx="597.9" cy="68.4" r="0.42" fill="rgb(184,184,184)"/><circle cx="607.8" cy="63.1" r="0.5" fill="rgb(24,24,24)"/><circle cx="593.9" cy="51.8" r="0.42" fill="rgb(208,208,208)"/><circle cx="599.7" cy="59.5" r="0.42" fill="rgb(227,227,227)"/><circle cx="601.7" cy="48.5" r="0.42" fill="rgb(199,199,199)"/><circle cx="603.4" cy="70.7" r="0.42" fill="rgb(194,194,194)"/><circle cx="596.3" cy="54.5" r="0.42" fill="rgb(180,180,180)"/><circle cx="599.6" cy="42.8" r="0.42" fill="rgb(193,193,193)"/><circle cx="608.3" cy="46.3" r="0.42" fill="rgb(191,191,191)"/><circle cx="606.8" cy="71.2" r="0.42" fill="rgb(194,194,194)"/><circle cx="596.9" cy="58.8" r="0.42" fill="rgb(171,171,171)"/><circle cx="608.6" cy="55.1" r="0.42" fill="rgb(216,216,216)"/><circle cx="599.8" cy="67.8" r="0.42" fill="rgb(176,176,176)"/><circle cx="599.5" cy="44.8" r="0.42" fill="rgb(214,214,214)"/><circle cx="601.6" cy="69.5" r="0.42" fill="rgb(178,178,178)"/><circle cx="604.5" cy="53.1" r="0.42" fill="rgb(182,182,182)"/><circle cx="599.7" cy="53.9" r="0.5" fill="rgb(98,98,98)"/><circle cx="611.3" cy="47.5" r="0.5" fill="rgb(59,59,59)"/><circle cx="603.7" cy="68.8" r="0.42" fill="rgb(228,228,228)"/><circle cx="598.8" cy="58.0" r="0.42" fill="rgb(184,184,184)"/><circle cx="596.1" cy="46.5" r="0.42" fill="rgb(217,217,217)"/><circle cx="606.8" cy="58.9" r="0.42" fill="rgb(171,171,171)"/><circle cx="606.3" cy="58.7" r="0.42" fill="rgb(218,218,218)"/><circle cx="594.0" cy="46.2" r="0.42" fill="rgb(204,204,204)"/><circle cx="594.9" cy="55.1" r="0.42" fill="rgb(223,223,223)"/><circle cx="609.0" cy="55.1" r="0.42" fill="rgb(173,173,173)"/><circle cx="604.2" cy="43.9" r="0.42" fill="rgb(195,195,195)"/><circle cx="614.1" cy="55.6" r="0.42" fill="rgb(182,182,182)"/><circle cx="605.7" cy="70.5" r="0.42" fill="rgb(175,175,175)"/><circle cx="614.2" cy="50.1" r="0.42" fill="rgb(200,200,200)"/><circle cx="605.0" cy="70.9" r="0.42" fill="rgb(212,212,212)"/><circle cx="608.3" cy="52.5" r="0.42" fill="rgb(191,191,191)"/><circle cx="599.1" cy="43.1" r="0.42" fill="rgb(219,219,219)"/><circle cx="597.8" cy="56.4" r="0.42" fill="rgb(190,190,190)"/><circle cx="595.9" cy="46.5" r="0.42" fill="rgb(182,182,182)"/><circle cx="607.7" cy="66.7" r="0.42" fill="rgb(194,194,194)"/><circle cx="613.0" cy="66.5" r="0.42" fill="rgb(179,179,179)"/><circle cx="602.1" cy="65.2" r="0.42" fill="rgb(212,212,212)"/><circle cx="607.7" cy="44.9" r="0.42" fill="rgb(203,203,203)"/><circle cx="598.2" cy="53.6" r="0.42" fill="rgb(224,224,224)"/><circle cx="600.3" cy="42.4" r="0.5" fill="rgb(27,27,27)"/><circle cx="608.0" cy="56.4" r="0.42" fill="rgb(176,176,176)"/><circle cx="603.3" cy="45.8" r="0.42" fill="rgb(184,184,184)"/><circle cx="602.1" cy="50.4" r="0.42" fill="rgb(192,192,192)"/><circle cx="610.4" cy="48.5" r="0.5" fill="rgb(22,22,22)"/><circle cx="602.7" cy="52.9" r="0.42" fill="rgb(228,228,228)"/><circle cx="604.5" cy="68.2" r="0.42" fill="rgb(212,212,212)"/><circle cx="596.4" cy="61.8" r="0.42" fill="rgb(203,203,203)"/><circle cx="616.3" cy="51.7" r="0.42" fill="rgb(188,188,188)"/><circle cx="602.6" cy="72.3" r="0.42" fill="rgb(218,218,218)"/><circle cx="612.4" cy="63.1" r="0.42" fill="rgb(186,186,186)"/><circle cx="600.8" cy="53.6" r="0.42" fill="rgb(221,221,221)"/><circle cx="601.9" cy="71.6" r="0.5" fill="rgb(102,102,102)"/><circle cx="599.7" cy="57.3" r="0.42" fill="rgb(175,175,175)"/><circle cx="601.4" cy="71.3" r="0.42" fill="rgb(200,200,200)"/><circle cx="598.9" cy="42.2" r="0.5" fill="rgb(93,93,93)"/><circle cx="594.1" cy="57.7" r="0.42" fill="rgb(226,226,226)"/><circle cx="604.9" cy="62.6" r="0.5" fill="rgb(73,73,73)"/><circle cx="614.2" cy="48.1" r="0.42" fill="rgb(211,211,211)"/><circle cx="610.1" cy="67.0" r="0.42" fill="rgb(190,190,190)"/><circle cx="616.5" cy="57.7" r="0.42" fill="rgb(173,173,173)"/><circle cx="606.6" cy="61.7" r="0.42" fill="rgb(175,175,175)"/><circle cx="613.0" cy="52.5" r="0.42" fill="rgb(180,180,180)"/><circle cx="606.5" cy="58.5" r="0.5" fill="rgb(102,102,102)"/><circle cx="604.0" cy="54.8" r="0.42" fill="rgb(177,177,177)"/><circle cx="598.8" cy="63.8" r="0.5" fill="rgb(92,92,92)"/><circle cx="609.3" cy="65.7" r="0.5" fill="rgb(20,20,20)"/><circle cx="613.0" cy="52.2" r="0.42" fill="rgb(226,226,226)"/><circle cx="604.7" cy="65.8" r="0.42" fill="rgb(219,219,219)"/><circle cx="596.0" cy="63.6" r="0.42" fill="rgb(215,215,215)"/><circle cx="599.6" cy="56.8" r="0.42" fill="rgb(190,190,190)"/><circle cx="615.2" cy="50.8" r="0.5" fill="rgb(92,92,92)"/><circle cx="598.0" cy="66.6" r="0.42" fill="rgb(221,221,221)"/><circle cx="603.6" cy="51.5" r="0.42" fill="rgb(188,188,188)"/><circle cx="612.3" cy="56.0" r="0.5" fill="rgb(46,46,46)"/><circle cx="595.7" cy="63.3" r="0.5" fill="rgb(28,28,28)"/><circle cx="613.6" cy="50.9" r="0.42" fill="rgb(188,188,188)"/><circle cx="611.3" cy="55.9" r="0.5" fill="rgb(31,31,31)"/><circle cx="595.5" cy="61.5" r="0.42" fill="rgb(182,182,182)"/><circle cx="610.5" cy="57.3" r="0.42" fill="rgb(196,196,196)"/><circle cx="603.4" cy="54.5" r="0.5" fill="rgb(54,54,54)"/><circle cx="606.8" cy="46.2" r="0.42" fill="rgb(208,208,208)"/><circle cx="601.6" cy="70.0" r="0.42" fill="rgb(184,184,184)"/><circle cx="600.1" cy="67.1" r="0.42" fill="rgb(210,210,210)"/><circle cx="600.8" cy="56.4" r="0.42" fill="rgb(184,184,184)"/><circle cx="608.8" cy="58.9" r="0.42" fill="rgb(170,170,170)"/><circle cx="607.5" cy="50.0" r="0.42" fill="rgb(180,180,180)"/>
<circle cx="623.4" cy="58.9" r="0.5" fill="rgb(98,98,98)"/><circle cx="618.4" cy="58.4" r="0.5" fill="rgb(22,22,22)"/><circle cx="629.8" cy="61.9" r="0.42" fill="rgb(196,196,196)"/><circle cx="619.0" cy="57.1" r="0.42" fill="rgb(179,179,179)"/><circle cx="625.5" cy="58.6" r="0.5" fill="rgb(32,32,32)"/><circle cx="627.3" cy="62.5" r="0.42" fill="rgb(170,170,170)"/><circle cx="620.6" cy="60.8" r="0.42" fill="rgb(180,180,180)"/><circle cx="619.3" cy="59.4" r="0.5" fill="rgb(50,50,50)"/><circle cx="631.2" cy="63.1" r="0.42" fill="rgb(171,171,171)"/><circle cx="633.0" cy="63.1" r="0.5" fill="rgb(44,44,44)"/><circle cx="627.0" cy="64.0" r="0.42" fill="rgb(202,202,202)"/><circle cx="620.1" cy="56.9" r="0.5" fill="rgb(24,24,24)"/><circle cx="625.2" cy="62.6" r="0.42" fill="rgb(212,212,212)"/><circle cx="621.5" cy="59.6" r="0.42" fill="rgb(205,205,205)"/><circle cx="633.8" cy="63.7" r="0.5" fill="rgb(27,27,27)"/><circle cx="633.0" cy="63.7" r="0.42" fill="rgb(186,186,186)"/><circle cx="634.5" cy="61.7" r="0.5" fill="rgb(94,94,94)"/><circle cx="628.9" cy="63.0" r="0.5" fill="rgb(38,38,38)"/><circle cx="629.1" cy="61.6" r="0.42" fill="rgb(199,199,199)"/><circle cx="625.0" cy="60.9" r="0.5" fill="rgb(54,54,54)"/><circle cx="624.9" cy="60.7" r="0.5" fill="rgb(77,77,77)"/><circle cx="619.2" cy="57.1" r="0.5" fill="rgb(43,43,43)"/><circle cx="622.7" cy="62.2" r="0.42" fill="rgb(178,178,178)"/><circle cx="617.3" cy="59.7" r="0.42" fill="rgb(202,202,202)"/><circle cx="621.5" cy="60.1" r="0.42" fill="rgb(195,195,195)"/><circle cx="620.4" cy="62.4" r="0.42" fill="rgb(202,202,202)"/><circle cx="633.8" cy="65.2" r="0.42" fill="rgb(199,199,199)"/><circle cx="635.7" cy="60.1" r="0.5" fill="rgb(97,97,97)"/><circle cx="629.3" cy="63.5" r="0.5" fill="rgb(76,76,76)"/><circle cx="631.5" cy="60.6" r="0.5" fill="rgb(70,70,70)"/>
<circle cx="645.2" cy="97.1" r="0.5" fill="rgb(97,97,97)"/><circle cx="650.8" cy="64.4" r="0.5" fill="rgb(66,66,66)"/><circle cx="649.1" cy="77.6" r="0.42" fill="rgb(216,216,216)"/><circle cx="668.3" cy="81.5" r="0.42" fill="rgb(200,200,200)"/><circle cx="633.6" cy="66.4" r="0.5" fill="rgb(68,68,68)"/><circle cx="648.8" cy="97.8" r="0.42" fill="rgb(182,182,182)"/><circle cx="664.5" cy="111.9" r="0.5" fill="rgb(57,57,57)"/><circle cx="644.6" cy="91.6" r="0.5" fill="rgb(46,46,46)"/><circle cx="652.0" cy="75.4" r="0.42" fill="rgb(204,204,204)"/><circle cx="635.8" cy="57.8" r="0.5" fill="rgb(45,45,45)"/><circle cx="666.8" cy="105.7" r="0.5" fill="rgb(37,37,37)"/><circle cx="668.1" cy="98.7" r="0.42" fill="rgb(208,208,208)"/><circle cx="666.6" cy="76.7" r="0.5" fill="rgb(57,57,57)"/><circle cx="637.6" cy="62.5" r="0.5" fill="rgb(46,46,46)"/><circle cx="651.8" cy="104.2" r="0.42" fill="rgb(211,211,211)"/><circle cx="647.4" cy="101.8" r="0.5" fill="rgb(50,50,50)"/><circle cx="665.0" cy="106.8" r="0.5" fill="rgb(66,66,66)"/><circle cx="646.9" cy="103.8" r="0.5" fill="rgb(61,61,61)"/><circle cx="644.4" cy="97.1" r="0.42" fill="rgb(170,170,170)"/><circle cx="644.7" cy="97.5" r="0.42" fill="rgb(219,219,219)"/><circle cx="664.0" cy="84.7" r="0.42" fill="rgb(193,193,193)"/><circle cx="664.9" cy="79.3" r="0.5" fill="rgb(92,92,92)"/><circle cx="656.5" cy="108.3" r="0.5" fill="rgb(26,26,26)"/><circle cx="636.1" cy="57.1" r="0.5" fill="rgb(102,102,102)"/><circle cx="660.7" cy="98.7" r="0.42" fill="rgb(215,215,215)"/><circle cx="660.0" cy="69.8" r="0.5" fill="rgb(44,44,44)"/><circle cx="649.9" cy="104.4" r="0.5" fill="rgb(46,46,46)"/><circle cx="666.4" cy="86.8" r="0.5" fill="rgb(23,23,23)"/><circle cx="643.6" cy="55.7" r="0.5" fill="rgb(52,52,52)"/><circle cx="644.8" cy="101.2" r="0.5" fill="rgb(29,29,29)"/><circle cx="655.6" cy="113.9" r="0.42" fill="rgb(177,177,177)"/><circle cx="645.3" cy="66.7" r="0.42" fill="rgb(228,228,228)"/><circle cx="645.4" cy="77.7" r="0.5" fill="rgb(107,107,107)"/><circle cx="655.1" cy="84.3" r="0.42" fill="rgb(202,202,202)"/><circle cx="645.9" cy="68.2" r="0.42" fill="rgb(174,174,174)"/><circle cx="642.8" cy="55.4" r="0.42" fill="rgb(176,176,176)"/><circle cx="664.6" cy="78.8" r="0.5" fill="rgb(29,29,29)"/><circle cx="655.8" cy="69.9" r="0.5" fill="rgb(33,33,33)"/><circle cx="661.1" cy="104.7" r="0.42" fill="rgb(172,172,172)"/><circle cx="644.0" cy="92.8" r="0.42" fill="rgb(175,175,175)"/><circle cx="669.1" cy="100.9" r="0.5" fill="rgb(109,109,109)"/><circle cx="656.6" cy="86.7" r="0.42" fill="rgb(193,193,193)"/><circle cx="667.9" cy="99.0" r="0.42" fill="rgb(192,192,192)"/><circle cx="656.9" cy="105.2" r="0.42" fill="rgb(218,218,218)"/><circle cx="661.3" cy="112.1" r="0.5" fill="rgb(87,87,87)"/><circle cx="660.3" cy="81.1" r="0.5" fill="rgb(110,110,110)"/><circle cx="666.4" cy="84.5" r="0.5" fill="rgb(38,38,38)"/><circle cx="643.2" cy="89.2" r="0.5" fill="rgb(74,74,74)"/><circle cx="639.5" cy="64.0" r="0.42" fill="rgb(185,185,185)"/><circle cx="648.5" cy="108.2" r="0.42" fill="rgb(204,204,204)"/><circle cx="665.8" cy="107.3" r="0.5" fill="rgb(62,62,62)"/><circle cx="659.0" cy="98.5" r="0.5" fill="rgb(39,39,39)"/><circle cx="644.2" cy="97.0" r="0.42" fill="rgb(170,170,170)"/><circle cx="658.4" cy="77.8" r="0.42" fill="rgb(215,215,215)"/><circle cx="667.1" cy="79.1" r="0.5" fill="rgb(68,68,68)"/><circle cx="640.1" cy="75.3" r="0.42" fill="rgb(201,201,201)"/><circle cx="663.8" cy="76.9" r="0.42" fill="rgb(202,202,202)"/><circle cx="655.9" cy="102.6" r="0.42" fill="rgb(216,216,216)"/><circle cx="653.5" cy="88.5" r="0.42" fill="rgb(213,213,213)"/><circle cx="645.3" cy="63.6" r="0.42" fill="rgb(225,225,225)"/><circle cx="643.3" cy="56.3" r="0.42" fill="rgb(206,206,206)"/><circle cx="654.6" cy="112.0" r="0.5" fill="rgb(93,93,93)"/><circle cx="652.6" cy="82.9" r="0.42" fill="rgb(197,197,197)"/><circle cx="662.0" cy="84.2" r="0.42" fill="rgb(178,178,178)"/><circle cx="658.7" cy="111.2" r="0.42" fill="rgb(221,221,221)"/><circle cx="662.4" cy="93.6" r="0.42" fill="rgb(192,192,192)"/><circle cx="669.8" cy="98.3" r="0.5" fill="rgb(96,96,96)"/><circle cx="645.6" cy="82.0" r="0.42" fill="rgb(201,201,201)"/><circle cx="655.4" cy="94.5" r="0.42" fill="rgb(195,195,195)"/><circle cx="649.8" cy="96.2" r="0.42" fill="rgb(205,205,205)"/><circle cx="665.1" cy="99.6" r="0.5" fill="rgb(24,24,24)"/><circle cx="666.1" cy="82.8" r="0.42" fill="rgb(215,215,215)"/><circle cx="667.9" cy="95.6" r="0.42" fill="rgb(204,204,204)"/><circle cx="658.0" cy="110.2" r="0.5" fill="rgb(104,104,104)"/><circle cx="661.0" cy="108.5" r="0.5" fill="rgb(75,75,75)"/><circle cx="667.0" cy="95.7" r="0.42" fill="rgb(192,192,192)"/><circle cx="665.0" cy="96.6" r="0.42" fill="rgb(198,198,198)"/><circle cx="635.3" cy="71.7" r="0.42" fill="rgb(193,193,193)"/><circle cx="642.6" cy="68.6" r="0.5" fill="rgb(91,91,91)"/><circle cx="652.7" cy="87.9" r="0.5" fill="rgb(52,52,52)"/><circle cx="668.7" cy="99.9" r="0.42" fill="rgb(208,208,208)"/><circle cx="658.7" cy="75.9" r="0.5" fill="rgb(74,74,74)"/><circle cx="664.2" cy="109.1" r="0.5" fill="rgb(58,58,58)"/><circle cx="655.9" cy="103.7" r="0.5" fill="rgb(92,92,92)"/><circle cx="648.7" cy="66.7" r="0.5" fill="rgb(106,106,106)"/><circle cx="657.0" cy="112.0" r="0.42" fill="rgb(202,202,202)"/><circle cx="647.6" cy="89.4" r="0.5" fill="rgb(100,100,100)"/><circle cx="662.7" cy="98.1" r="0.42" fill="rgb(195,195,195)"/><circle cx="657.7" cy="69.9" r="0.42" fill="rgb(202,202,202)"/><circle cx="665.9" cy="74.0" r="0.42" fill="rgb(176,176,176)"/><circle cx="657.8" cy="98.5" r="0.42" fill="rgb(224,224,224)"/><circle cx="649.3" cy="79.7" r="0.42" fill="rgb(173,173,173)"/><circle cx="659.8" cy="85.2" r="0.42" fill="rgb(208,208,208)"/><circle cx="655.6" cy="79.2" r="0.5" fill="rgb(93,93,93)"/><circle cx="652.2" cy="102.1" r="0.5" fill="rgb(23,23,23)"/><circle cx="667.7" cy="85.2" r="0.42" fill="rgb(177,177,177)"/><circle cx="663.5" cy="113.7" r="0.42" fill="rgb(189,189,189)"/><circle cx="659.3" cy="95.8" r="0.42" fill="rgb(194,194,194)"/><circle cx="658.3" cy="116.5" r="0.5" fill="rgb(56,56,56)"/><circle cx="663.6" cy="113.0" r="0.42" fill="rgb(177,177,177)"/><circle cx="668.6" cy="90.8" r="0.42" fill="rgb(189,189,189)"/><circle cx="642.4" cy="57.4" r="0.42" fill="rgb(185,185,185)"/><circle cx="656.6" cy="86.6" r="0.42" fill="rgb(202,202,202)"/><circle cx="666.4" cy="109.1" r="0.42" fill="rgb(175,175,175)"/><circle cx="659.2" cy="93.7" r="0.42" fill="rgb(199,199,199)"/><circle cx="636.7" cy="60.5" r="0.5" fill="rgb(88,88,88)"/><circle cx="661.3" cy="79.5" r="0.5" fill="rgb(93,93,93)"/><circle cx="662.2" cy="85.1" r="0.42" fill="rgb(208,208,208)"/><circle cx="662.1" cy="117.0" r="0.42" fill="rgb(212,212,212)"/><circle cx="662.3" cy="90.3" r="0.42" fill="rgb(181,181,181)"/><circle cx="664.1" cy="85.1" r="0.42" fill="rgb(183,183,183)"/><circle cx="657.2" cy="103.9" r="0.42" fill="rgb(193,193,193)"/><circle cx="654.5" cy="100.1" r="0.42" fill="rgb(181,181,181)"/><circle cx="654.7" cy="63.3" r="0.5" fill="rgb(69,69,69)"/><circle cx="664.2" cy="113.6" r="0.5" fill="rgb(80,80,80)"/><circle cx="648.8" cy="78.8" r="0.5" fill="rgb(48,48,48)"/><circle cx="661.5" cy="99.6" r="0.5" fill="rgb(70,70,70)"/><circle cx="649.3" cy="99.8" r="0.42" fill="rgb(175,175,175)"/><circle cx="643.1" cy="64.2" r="0.42" fill="rgb(170,170,170)"/><circle cx="640.3" cy="75.9" r="0.5" fill="rgb(93,93,93)"/><circle cx="636.8" cy="68.7" r="0.5" fill="rgb(102,102,102)"/><circle cx="662.1" cy="106.4" r="0.5" fill="rgb(26,26,26)"/><circle cx="643.9" cy="93.2" r="0.5" fill="rgb(101,101,101)"/><circle cx="662.3" cy="97.8" r="0.42" fill="rgb(171,171,171)"/><circle cx="645.9" cy="94.5" r="0.42" fill="rgb(207,207,207)"/><circle cx="653.7" cy="108.2" r="0.5" fill="rgb(39,39,39)"/><circle cx="657.3" cy="64.0" r="0.42" fill="rgb(172,172,172)"/><circle cx="653.9" cy="59.1" r="0.5" fill="rgb(98,98,98)"/><circle cx="636.8" cy="70.9" r="0.5" fill="rgb(34,34,34)"/><circle cx="652.5" cy="78.0" r="0.5" fill="rgb(34,34,34)"/><circle cx="646.0" cy="93.3" r="0.42" fill="rgb(211,211,211)"/><circle cx="657.1" cy="61.3" r="0.42" fill="rgb(226,226,226)"/><circle cx="664.4" cy="101.9" r="0.42" fill="rgb(218,218,218)"/><circle cx="666.5" cy="76.5" r="0.42" fill="rgb(197,197,197)"/><circle cx="659.8" cy="68.2" r="0.5" fill="rgb(59,59,59)"/><circle cx="646.7" cy="65.7" r="0.42" fill="rgb(190,190,190)"/><circle cx="648.2" cy="88.0" r="0.5" fill="rgb(80,80,80)"/><circle cx="659.9" cy="96.9" r="0.5" fill="rgb(32,32,32)"/><circle cx="666.7" cy="106.3" r="0.5" fill="rgb(40,40,40)"/><circle cx="644.6" cy="89.5" r="0.42" fill="rgb(210,210,210)"/><circle cx="657.5" cy="90.4" r="0.42" fill="rgb(224,224,224)"/><circle cx="652.3" cy="84.0" r="0.5" fill="rgb(40,40,40)"/><circle cx="649.3" cy="66.5" r="0.42" fill="rgb(199,199,199)"/><circle cx="658.9" cy="64.7" r="0.5" fill="rgb(84,84,84)"/><circle cx="663.2" cy="110.9" r="0.5" fill="rgb(40,40,40)"/><circle cx="651.3" cy="82.9" r="0.5" fill="rgb(63,63,63)"/><circle cx="638.5" cy="69.3" r="0.42" fill="rgb(171,171,171)"/><circle cx="662.3" cy="112.4" r="0.42" fill="rgb(216,216,216)"/><circle cx="651.0" cy="89.9" r="0.42" fill="rgb(173,173,173)"/><circle cx="656.7" cy="113.7" r="0.5" fill="rgb(89,89,89)"/><circle cx="653.5" cy="112.9" r="0.42" fill="rgb(191,191,191)"/><circle cx="660.1" cy="98.1" r="0.5" fill="rgb(69,69,69)"/><circle cx="647.9" cy="76.2" r="0.42" fill="rgb(193,193,193)"/><circle cx="644.0" cy="73.7" r="0.5" fill="rgb(78,78,78)"/><circle cx="655.6" cy="84.1" r="0.5" fill="rgb(73,73,73)"/><circle cx="652.2" cy="99.8" r="0.5" fill="rgb(34,34,34)"/><circle cx="646.4" cy="90.6" r="0.42" fill="rgb(199,199,199)"/><circle cx="657.1" cy="111.0" r="0.42" fill="rgb(221,221,221)"/><circle cx="660.5" cy="97.8" r="0.42" fill="rgb(194,194,194)"/><circle cx="660.1" cy="75.0" r="0.42" fill="rgb(190,190,190)"/><circle cx="664.0" cy="100.6" r="0.42" fill="rgb(226,226,226)"/><circle cx="666.9" cy="109.0" r="0.5" fill="rgb(49,49,49)"/><circle cx="663.2" cy="111.9" r="0.5" fill="rgb(59,59,59)"/><circle cx="659.6" cy="64.9" r="0.42" fill="rgb(222,222,222)"/><circle cx="648.8" cy="72.1" r="0.5" fill="rgb(41,41,41)"/><circle cx="653.7" cy="62.5" r="0.5" fill="rgb(21,21,21)"/><circle cx="661.5" cy="89.0" r="0.5" fill="rgb(49,49,49)"/><circle cx="651.3" cy="114.2" r="0.42" fill="rgb(203,203,203)"/><circle cx="639.0" cy="75.6" r="0.5" fill="rgb(61,61,61)"/><circle cx="646.2" cy="97.3" r="0.42" fill="rgb(191,191,191)"/><circle cx="637.4" cy="73.9" r="0.42" fill="rgb(187,187,187)"/><circle cx="659.7" cy="93.4" r="0.5" fill="rgb(36,36,36)"/><circle cx="654.2" cy="68.7" r="0.5" fill="rgb(67,67,67)"/><circle cx="669.4" cy="97.5" r="0.42" fill="rgb(176,176,176)"/><circle cx="657.8" cy="91.1" r="0.5" fill="rgb(68,68,68)"/><circle cx="659.1" cy="115.8" r="0.42" fill="rgb(215,215,215)"/><circle cx="660.3" cy="102.7" r="0.42" fill="rgb(190,190,190)"/><circle cx="654.0" cy="100.8" r="0.42" fill="rgb(178,178,178)"/><circle cx="659.0" cy="69.3" r="0.5" fill="rgb(93,93,93)"/><circle cx="651.7" cy="90.2" r="0.42" fill="rgb(202,202,202)"/><circle cx="640.0" cy="75.1" r="0.5" fill="rgb(67,67,67)"/><circle cx="654.7" cy="99.7" r="0.42" fill="rgb(214,214,214)"/><circle cx="660.7" cy="111.5" r="0.42" fill="rgb(170,170,170)"/><circle cx="648.7" cy="101.5" r="0.42" fill="rgb(216,216,216)"/><circle cx="635.2" cy="65.0" r="0.5" fill="rgb(110,110,110)"/><circle cx="653.2" cy="89.0" r="0.42" fill="rgb(218,218,218)"/><circle cx="652.4" cy="87.3" r="0.42" fill="rgb(178,178,178)"/><circle cx="658.0" cy="107.3" r="0.42" fill="rgb(211,211,211)"/><circle cx="656.3" cy="86.3" r="0.42" fill="rgb(196,196,196)"/><circle cx="662.6" cy="93.2" r="0.5" fill="rgb(26,26,26)"/><circle cx="641.8" cy="76.3" r="0.5" fill="rgb(86,86,86)"/><circle cx="660.3" cy="87.7" r="0.5" fill="rgb(83,83,83)"/><circle cx="645.8" cy="103.1" r="0.5" fill="rgb(43,43,43)"/><circle cx="650.3" cy="83.6" r="0.42" fill="rgb(172,172,172)"/><circle cx="655.0" cy="110.5" r="0.5" fill="rgb(90,90,90)"/><circle cx="644.8" cy="74.3" r="0.42" fill="rgb(199,199,199)"/><circle cx="647.8" cy="71.2" r="0.42" fill="rgb(193,193,193)"/><circle cx="654.0" cy="111.6" r="0.42" fill="rgb(189,189,189)"/><circle cx="659.6" cy="84.3" r="0.42" fill="rgb(202,202,202)"/><circle cx="642.3" cy="77.2" r="0.42" fill="rgb(199,199,199)"/><circle cx="641.5" cy="62.7" r="0.5" fill="rgb(91,91,91)"/><circle cx="663.4" cy="77.5" r="0.5" fill="rgb(71,71,71)"/><circle cx="665.9" cy="88.2" r="0.42" fill="rgb(190,190,190)"/><circle cx="651.5" cy="104.4" r="0.42" fill="rgb(194,194,194)"/><circle cx="654.9" cy="90.5" r="0.5" fill="rgb(35,35,35)"/><circle cx="645.4" cy="94.3" r="0.5" fill="rgb(25,25,25)"/><circle cx="643.8" cy="74.1" r="0.5" fill="rgb(35,35,35)"/><circle cx="662.9" cy="114.2" r="0.5" fill="rgb(51,51,51)"/><circle cx="665.5" cy="100.6" r="0.5" fill="rgb(87,87,87)"/><circle cx="660.3" cy="78.1" r="0.5" fill="rgb(64,64,64)"/><circle cx="652.4" cy="65.4" r="0.42" fill="rgb(202,202,202)"/><circle cx="642.5" cy="79.3" r="0.5" fill="rgb(92,92,92)"/><circle cx="651.5" cy="103.7" r="0.42" fill="rgb(194,194,194)"/><circle cx="644.2" cy="77.7" r="0.5" fill="rgb(87,87,87)"/><circle cx="641.6" cy="68.4" r="0.42" fill="rgb(200,200,200)"/><circle cx="644.0" cy="56.3" r="0.5" fill="rgb(52,52,52)"/><circle cx="661.3" cy="106.6" r="0.5" fill="rgb(105,105,105)"/><circle cx="651.1" cy="67.1" r="0.5" fill="rgb(65,65,65)"/><circle cx="653.0" cy="72.0" r="0.5" fill="rgb(78,78,78)"/><circle cx="652.4" cy="60.7" r="0.42" fill="rgb(219,219,219)"/><circle cx="654.3" cy="63.6" r="0.42" fill="rgb(213,213,213)"/><circle cx="660.7" cy="73.8" r="0.5" fill="rgb(51,51,51)"/><circle cx="666.4" cy="89.0" r="0.42" fill="rgb(176,176,176)"/><circle cx="665.9" cy="86.3" r="0.42" fill="rgb(225,225,225)"/><circle cx="653.5" cy="97.4" r="0.42" fill="rgb(223,223,223)"/><circle cx="658.5" cy="114.3" r="0.42" fill="rgb(217,217,217)"/><circle cx="647.6" cy="71.1" r="0.42" fill="rgb(221,221,221)"/><circle cx="647.9" cy="96.6" r="0.42" fill="rgb(174,174,174)"/><circle cx="659.4" cy="118.6" r="0.42" fill="rgb(198,198,198)"/><circle cx="652.5" cy="99.0" r="0.5" fill="rgb(87,87,87)"/><circle cx="652.8" cy="79.4" r="0.42" fill="rgb(205,205,205)"/><circle cx="660.8" cy="93.5" r="0.42" fill="rgb(218,218,218)"/><circle cx="651.7" cy="81.3" r="0.42" fill="rgb(173,173,173)"/><circle cx="647.8" cy="75.2" r="0.42" fill="rgb(217,217,217)"/><circle cx="661.4" cy="92.1" r="0.42" fill="rgb(205,205,205)"/><circle cx="643.7" cy="69.4" r="0.5" fill="rgb(51,51,51)"/><circle cx="649.7" cy="97.1" r="0.42" fill="rgb(176,176,176)"/><circle cx="664.0" cy="113.5" r="0.5" fill="rgb(20,20,20)"/><circle cx="649.4" cy="63.2" r="0.5" fill="rgb(40,40,40)"/><circle cx="666.0" cy="78.9" r="0.42" fill="rgb(182,182,182)"/><circle cx="644.6" cy="64.8" r="0.42" fill="rgb(207,207,207)"/><circle cx="645.8" cy="93.3" r="0.5" fill="rgb(79,79,79)"/><circle cx="655.1" cy="80.0" r="0.5" fill="rgb(39,39,39)"/><circle cx="663.1" cy="75.3" r="0.5" fill="rgb(86,86,86)"/><circle cx="656.0" cy="87.7" r="0.42" fill="rgb(212,212,212)"/><circle cx="647.9" cy="78.5" r="0.42" fill="rgb(212,212,212)"/><circle cx="637.4" cy="69.4" r="0.42" fill="rgb(224,224,224)"/><circle cx="656.9" cy="67.7" r="0.5" fill="rgb(31,31,31)"/><circle cx="647.2" cy="107.7" r="0.42" fill="rgb(174,174,174)"/><circle cx="634.3" cy="63.9" r="0.5" fill="rgb(79,79,79)"/><circle cx="658.4" cy="117.5" r="0.5" fill="rgb(52,52,52)"/><circle cx="644.3" cy="88.3" r="0.5" fill="rgb(55,55,55)"/><circle cx="648.0" cy="87.0" r="0.42" fill="rgb(208,208,208)"/><circle cx="663.3" cy="103.8" r="0.42" fill="rgb(183,183,183)"/><circle cx="649.5" cy="96.6" r="0.5" fill="rgb(104,104,104)"/><circle cx="655.5" cy="83.1" r="0.42" fill="rgb(225,225,225)"/><circle cx="643.9" cy="71.2" r="0.5" fill="rgb(25,25,25)"/><circle cx="663.6" cy="70.4" r="0.42" fill="rgb(206,206,206)"/><circle cx="639.4" cy="59.8" r="0.5" fill="rgb(57,57,57)"/><circle cx="655.7" cy="109.7" r="0.42" fill="rgb(197,197,197)"/><circle cx="661.5" cy="94.5" r="0.42" fill="rgb(170,170,170)"/><circle cx="650.2" cy="83.9" r="0.5" fill="rgb(81,81,81)"/><circle cx="662.1" cy="93.0" r="0.42" fill="rgb(184,184,184)"/><circle cx="653.7" cy="117.0" r="0.42" fill="rgb(181,181,181)"/><circle cx="654.8" cy="60.3" r="0.42" fill="rgb(205,205,205)"/><circle cx="669.8" cy="99.6" r="0.42" fill="rgb(185,185,185)"/><circle cx="644.5" cy="58.5" r="0.42" fill="rgb(195,195,195)"/><circle cx="662.0" cy="81.0" r="0.42" fill="rgb(180,180,180)"/><circle cx="652.3" cy="101.7" r="0.42" fill="rgb(193,193,193)"/><circle cx="660.0" cy="103.3" r="0.5" fill="rgb(101,101,101)"/><circle cx="643.7" cy="93.4" r="0.5" fill="rgb(81,81,81)"/><circle cx="654.3" cy="107.7" r="0.5" fill="rgb(41,41,41)"/><circle cx="658.0" cy="103.5" r="0.5" fill="rgb(69,69,69)"/><circle cx="653.0" cy="93.2" r="0.5" fill="rgb(22,22,22)"/><circle cx="635.6" cy="73.0" r="0.5" fill="rgb(89,89,89)"/><circle cx="663.3" cy="110.1" r="0.42" fill="rgb(172,172,172)"/><circle cx="667.3" cy="84.9" r="0.5" fill="rgb(60,60,60)"/><circle cx="659.6" cy="113.1" r="0.42" fill="rgb(178,178,178)"/><circle cx="639.5" cy="72.9" r="0.42" fill="rgb(205,205,205)"/><circle cx="649.5" cy="90.1" r="0.42" fill="rgb(220,220,220)"/><circle cx="647.3" cy="83.2" r="0.42" fill="rgb(175,175,175)"/><circle cx="659.8" cy="115.7" r="0.42" fill="rgb(189,189,189)"/><circle cx="656.8" cy="79.6" r="0.5" fill="rgb(47,47,47)"/><circle cx="655.0" cy="60.5" r="0.5" fill="rgb(95,95,95)"/><circle cx="666.9" cy="78.8" r="0.42" fill="rgb(170,170,170)"/><circle cx="661.5" cy="91.9" r="0.5" fill="rgb(63,63,63)"/><circle cx="656.2" cy="104.7" r="0.42" fill="rgb(178,178,178)"/><circle cx="646.8" cy="55.9" r="0.5" fill="rgb(34,34,34)"/><circle cx="666.7" cy="83.5" r="0.42" fill="rgb(215,215,215)"/><circle cx="653.4" cy="82.9" r="0.42" fill="rgb(219,219,219)"/><circle cx="659.5" cy="107.9" r="0.42" fill="rgb(200,200,200)"/><circle cx="654.8" cy="72.5" r="0.5" fill="rgb(91,91,91)"/><circle cx="655.7" cy="61.8" r="0.42" fill="rgb(184,184,184)"/><circle cx="646.1" cy="86.5" r="0.5" fill="rgb(82,82,82)"/><circle cx="662.3" cy="95.8" r="0.42" fill="rgb(202,202,202)"/><circle cx="658.0" cy="78.7" r="0.42" fill="rgb(194,194,194)"/><circle cx="648.8" cy="97.9" r="0.42" fill="rgb(228,228,228)"/><circle cx="659.3" cy="74.5" r="0.5" fill="rgb(105,105,105)"/><circle cx="659.0" cy="72.4" r="0.42" fill="rgb(198,198,198)"/><circle cx="641.9" cy="66.6" r="0.5" fill="rgb(90,90,90)"/><circle cx="661.9" cy="92.4" r="0.42" fill="rgb(199,199,199)"/><circle cx="647.1" cy="106.2" r="0.5" fill="rgb(50,50,50)"/><circle cx="640.1" cy="56.1" r="0.5" fill="rgb(34,34,34)"/><circle cx="651.9" cy="90.8" r="0.5" fill="rgb(57,57,57)"/><circle cx="660.7" cy="115.5" r="0.5" fill="rgb(76,76,76)"/><circle cx="638.6" cy="75.9" r="0.42" fill="rgb(204,204,204)"/><circle cx="639.3" cy="69.6" r="0.42" fill="rgb(177,177,177)"/><circle cx="669.6" cy="94.4" r="0.42" fill="rgb(190,190,190)"/><circle cx="655.6" cy="118.4" r="0.42" fill="rgb(201,201,201)"/><circle cx="663.0" cy="85.8" r="0.42" fill="rgb(223,223,223)"/><circle cx="669.9" cy="89.5" r="0.42" fill="rgb(178,178,178)"/><circle cx="641.1" cy="58.1" r="0.5" fill="rgb(99,99,99)"/><circle cx="645.6" cy="81.2" r="0.5" fill="rgb(106,106,106)"/><circle cx="654.0" cy="101.3" r="0.5" fill="rgb(69,69,69)"/><circle cx="633.1" cy="64.1" r="0.42" fill="rgb(216,216,216)"/><circle cx="658.2" cy="89.8" r="0.5" fill="rgb(62,62,62)"/><circle cx="659.9" cy="95.9" r="0.5" fill="rgb(50,50,50)"/><circle cx="650.5" cy="58.8" r="0.5" fill="rgb(21,21,21)"/><circle cx="658.4" cy="119.2" r="0.5" fill="rgb(97,97,97)"/><circle cx="648.3" cy="87.1" r="0.42" fill="rgb(198,198,198)"/><circle cx="637.7" cy="71.3" r="0.42" fill="rgb(183,183,183)"/><circle cx="647.3" cy="60.8" r="0.5" fill="rgb(108,108,108)"/><circle cx="646.4" cy="83.8" r="0.5" fill="rgb(86,86,86)"/><circle cx="658.5" cy="104.2" r="0.42" fill="rgb(189,189,189)"/><circle cx="651.0" cy="82.7" r="0.42" fill="rgb(186,186,186)"/><circle cx="653.5" cy="87.1" r="0.42" fill="rgb(193,193,193)"/><circle cx="655.8" cy="111.9" r="0.5" fill="rgb(61,61,61)"/><circle cx="670.1" cy="94.4" r="0.42" fill="rgb(208,208,208)"/><circle cx="645.1" cy="65.5" r="0.42" fill="rgb(210,210,210)"/><circle cx="639.7" cy="72.8" r="0.5" fill="rgb(76,76,76)"/><circle cx="643.8" cy="75.1" r="0.42" fill="rgb(170,170,170)"/><circle cx="656.1" cy="93.3" r="0.42" fill="rgb(219,219,219)"/><circle cx="653.1" cy="101.8" r="0.42" fill="rgb(187,187,187)"/><circle cx="653.9" cy="77.6" r="0.5" fill="rgb(47,47,47)"/><circle cx="647.1" cy="104.5" r="0.42" fill="rgb(191,191,191)"/><circle cx="655.9" cy="81.9" r="0.5" fill="rgb(33,33,33)"/><circle cx="652.6" cy="106.4" r="0.5" fill="rgb(40,40,40)"/><circle cx="658.0" cy="113.6" r="0.42" fill="rgb(217,217,217)"/><circle cx="652.1" cy="113.1" r="0.42" fill="rgb(212,212,212)"/><circle cx="663.9" cy="103.4" r="0.5" fill="rgb(25,25,25)"/><circle cx="648.5" cy="75.5" r="0.42" fill="rgb(190,190,190)"/><circle cx="660.9" cy="107.6" r="0.42" fill="rgb(186,186,186)"/><circle cx="646.6" cy="91.6" r="0.5" fill="rgb(93,93,93)"/><circle cx="664.1" cy="82.7" r="0.42" fill="rgb(179,179,179)"/><circle cx="656.9" cy="111.0" r="0.42" fill="rgb(177,177,177)"/><circle cx="662.9" cy="76.6" r="0.5" fill="rgb(54,54,54)"/><circle cx="655.9" cy="103.4" r="0.5" fill="rgb(43,43,43)"/><circle cx="647.7" cy="88.6" r="0.5" fill="rgb(53,53,53)"/><circle cx="655.7" cy="108.9" r="0.42" fill="rgb(223,223,223)"/><circle cx="642.6" cy="66.6" r="0.42" fill="rgb(206,206,206)"/><circle cx="660.8" cy="90.6" r="0.5" fill="rgb(39,39,39)"/><circle cx="649.8" cy="58.6" r="0.5" fill="rgb(37,37,37)"/><circle cx="644.8" cy="62.2" r="0.5" fill="rgb(102,102,102)"/><circle cx="646.5" cy="66.8" r="0.5" fill="rgb(25,25,25)"/><circle cx="648.2" cy="106.3" r="0.42" fill="rgb(170,170,170)"/><circle cx="663.4" cy="99.3" r="0.5" fill="rgb(31,31,31)"/><circle cx="645.0" cy="63.7" r="0.42" fill="rgb(178,178,178)"/><circle cx="645.0" cy="64.5" r="0.5" fill="rgb(89,89,89)"/><circle cx="634.4" cy="68.6" r="0.42" fill="rgb(177,177,177)"/><circle cx="656.7" cy="61.6" r="0.5" fill="rgb(85,85,85)"/><circle cx="645.1" cy="101.3" r="0.5" fill="rgb(82,82,82)"/><circle cx="639.4" cy="56.3" r="0.5" fill="rgb(68,68,68)"/><circle cx="648.6" cy="89.2" r="0.5" fill="rgb(106,106,106)"/><circle cx="659.4" cy="116.4" r="0.5" fill="rgb(39,39,39)"/><circle cx="645.8" cy="57.9" r="0.5" fill="rgb(52,52,52)"/><circle cx="648.1" cy="87.5" r="0.5" fill="rgb(54,54,54)"/><circle cx="650.1" cy="94.8" r="0.42" fill="rgb(192,192,192)"/><circle cx="644.3" cy="78.2" r="0.42" fill="rgb(171,171,171)"/><circle cx="650.2" cy="88.9" r="0.5" fill="rgb(75,75,75)"/><circle cx="648.4" cy="76.5" r="0.5" fill="rgb(85,85,85)"/><circle cx="645.7" cy="76.4" r="0.42" fill="rgb(179,179,179)"/><circle cx="658.5" cy="94.3" r="0.42" fill="rgb(197,197,197)"/><circle cx="661.5" cy="86.9" r="0.42" fill="rgb(177,177,177)"/><circle cx="646.9" cy="75.0" r="0.42" fill="rgb(191,191,191)"/><circle cx="663.6" cy="74.2" r="0.42" fill="rgb(216,216,216)"/><circle cx="655.9" cy="81.2" r="0.5" fill="rgb(20,20,20)"/><circle cx="661.3" cy="114.0" r="0.5" fill="rgb(101,101,101)"/><circle cx="640.6" cy="78.1" r="0.5" fill="rgb(109,109,109)"/><circle cx="646.9" cy="87.9" r="0.42" fill="rgb(209,209,209)"/><circle cx="645.1" cy="78.8" r="0.42" fill="rgb(218,218,218)"/><circle cx="655.4" cy="105.9" r="0.42" fill="rgb(224,224,224)"/><circle cx="662.5" cy="74.2" r="0.5" fill="rgb(81,81,81)"/><circle cx="649.8" cy="100.3" r="0.5" fill="rgb(35,35,35)"/><circle cx="654.4" cy="64.9" r="0.42" fill="rgb(207,207,207)"/><circle cx="639.5" cy="58.1" r="0.42" fill="rgb(224,224,224)"/><circle cx="661.1" cy="71.6" r="0.42" fill="rgb(183,183,183)"/><circle cx="655.0" cy="65.2" r="0.42" fill="rgb(214,214,214)"/><circle cx="657.9" cy="101.6" r="0.42" fill="rgb(216,216,216)"/><circle cx="647.1" cy="61.3" r="0.5" fill="rgb(61,61,61)"/><circle cx="667.0" cy="78.8" r="0.5" fill="rgb(106,106,106)"/><circle cx="654.3" cy="72.9" r="0.42" fill="rgb(185,185,185)"/><circle cx="663.6" cy="93.7" r="0.42" fill="rgb(225,225,225)"/><circle cx="647.3" cy="73.3" r="0.42" fill="rgb(199,199,199)"/><circle cx="656.4" cy="74.4" r="0.5" fill="rgb(80,80,80)"/><circle cx="661.0" cy="79.6" r="0.5" fill="rgb(44,44,44)"/><circle cx="639.0" cy="60.4" r="0.42" fill="rgb(174,174,174)"/><circle cx="644.4" cy="98.7" r="0.42" fill="rgb(226,226,226)"/><circle cx="659.8" cy="66.7" r="0.42" fill="rgb(224,224,224)"/><circle cx="650.4" cy="58.6" r="0.42" fill="rgb(190,190,190)"/><circle cx="643.6" cy="75.1" r="0.42" fill="rgb(172,172,172)"/><circle cx="647.9" cy="72.4" r="0.5" fill="rgb(35,35,35)"/><circle cx="641.0" cy="74.2" r="0.42" fill="rgb(184,184,184)"/><circle cx="664.9" cy="97.0" r="0.5" fill="rgb(57,57,57)"/><circle cx="663.6" cy="82.7" r="0.42" fill="rgb(192,192,192)"/><circle cx="666.3" cy="99.9" r="0.42" fill="rgb(218,218,218)"/><circle cx="649.2" cy="89.5" r="0.42" fill="rgb(220,220,220)"/><circle cx="635.5" cy="65.7" r="0.42" fill="rgb(210,210,210)"/><circle cx="654.7" cy="104.9" r="0.42" fill="rgb(170,170,170)"/><circle cx="664.7" cy="101.2" r="0.42" fill="rgb(219,219,219)"/><circle cx="653.7" cy="70.7" r="0.42" fill="rgb(186,186,186)"/><circle cx="668.0" cy="97.5" r="0.5" fill="rgb(54,54,54)"/><circle cx="655.6" cy="75.4" r="0.5" fill="rgb(39,39,39)"/><circle cx="659.0" cy="84.3" r="0.5" fill="rgb(83,83,83)"/><circle cx="641.5" cy="70.5" r="0.42" fill="rgb(188,188,188)"/><circle cx="658.2" cy="112.9" r="0.42" fill="rgb(182,182,182)"/><circle cx="639.9" cy="72.2" r="0.42" fill="rgb(205,205,205)"/><circle cx="643.2" cy="63.9" r="0.5" fill="rgb(95,95,95)"/><circle cx="651.4" cy="108.5" r="0.5" fill="rgb(31,31,31)"/><circle cx="649.2" cy="73.9" r="0.42" fill="rgb(221,221,221)"/><circle cx="661.4" cy="67.2" r="0.5" fill="rgb(91,91,91)"/><circle cx="664.5" cy="106.1" r="0.5" fill="rgb(60,60,60)"/><circle cx="655.6" cy="98.2" r="0.42" fill="rgb(174,174,174)"/><circle cx="651.8" cy="63.7" r="0.42" fill="rgb(179,179,179)"/><circle cx="641.6" cy="81.5" r="0.5" fill="rgb(83,83,83)"/><circle cx="656.5" cy="69.0" r="0.5" fill="rgb(36,36,36)"/><circle cx="660.3" cy="69.4" r="0.5" fill="rgb(62,62,62)"/><circle cx="640.5" cy="76.0" r="0.5" fill="rgb(103,103,103)"/><circle cx="654.3" cy="81.2" r="0.5" fill="rgb(103,103,103)"/><circle cx="664.2" cy="107.0" r="0.5" fill="rgb(77,77,77)"/><circle cx="649.5" cy="100.9" r="0.5" fill="rgb(93,93,93)"/><circle cx="649.1" cy="90.6" r="0.42" fill="rgb(172,172,172)"/><circle cx="651.4" cy="63.6" r="0.42" fill="rgb(187,187,187)"/><circle cx="643.9" cy="67.3" r="0.42" fill="rgb(217,217,217)"/><circle cx="644.5" cy="92.0" r="0.42" fill="rgb(198,198,198)"/><circle cx="655.6" cy="73.7" r="0.42" fill="rgb(218,218,218)"/><circle cx="648.7" cy="101.3" r="0.42" fill="rgb(186,186,186)"/><circle cx="657.2" cy="116.0" r="0.5" fill="rgb(80,80,80)"/><circle cx="659.8" cy="96.8" r="0.42" fill="rgb(194,194,194)"/><circle cx="662.2" cy="116.7" r="0.42" fill="rgb(222,222,222)"/><circle cx="649.4" cy="65.5" r="0.42" fill="rgb(178,178,178)"/><circle cx="650.9" cy="111.2" r="0.42" fill="rgb(189,189,189)"/><circle cx="660.2" cy="113.3" r="0.42" fill="rgb(203,203,203)"/><circle cx="657.0" cy="100.5" r="0.5" fill="rgb(25,25,25)"/><circle cx="669.2" cy="95.3" r="0.5" fill="rgb(108,108,108)"/><circle cx="660.2" cy="116.9" r="0.5" fill="rgb(63,63,63)"/><circle cx="667.5" cy="101.8" r="0.5" fill="rgb(38,38,38)"/><circle cx="637.5" cy="56.9" r="0.5" fill="rgb(106,106,106)"/><circle cx="634.4" cy="66.7" r="0.5" fill="rgb(49,49,49)"/><circle cx="661.7" cy="95.1" r="0.5" fill="rgb(23,23,23)"/><circle cx="644.3" cy="79.4" r="0.5" fill="rgb(100,100,100)"/><circle cx="642.4" cy="56.9" r="0.42" fill="rgb(180,180,180)"/><circle cx="662.8" cy="105.2" r="0.42" fill="rgb(224,224,224)"/><circle cx="658.4" cy="73.1" r="0.42" fill="rgb(172,172,172)"/><circle cx="666.9" cy="109.7" r="0.42" fill="rgb(199,199,199)"/><circle cx="639.4" cy="65.7" r="0.5" fill="rgb(44,44,44)"/><circle cx="668.2" cy="92.5" r="0.42" fill="rgb(190,190,190)"/><circle cx="641.2" cy="58.7" r="0.5" fill="rgb(47,47,47)"/><circle cx="659.7" cy="118.8" r="0.42" fill="rgb(186,186,186)"/><circle cx="639.8" cy="76.5" r="0.5" fill="rgb(101,101,101)"/><circle cx="662.4" cy="76.9" r="0.5" fill="rgb(42,42,42)"/><circle cx="660.2" cy="70.4" r="0.42" fill="rgb(194,194,194)"/><circle cx="652.0" cy="80.6" r="0.42" fill="rgb(191,191,191)"/><circle cx="650.8" cy="76.7" r="0.5" fill="rgb(40,40,40)"/><circle cx="655.9" cy="102.1" r="0.5" fill="rgb(52,52,52)"/><circle cx="643.8" cy="95.5" r="0.5" fill="rgb(56,56,56)"/><circle cx="649.7" cy="103.0" r="0.42" fill="rgb(189,189,189)"/><circle cx="653.9" cy="99.7" r="0.5" fill="rgb(54,54,54)"/><circle cx="647.3" cy="64.9" r="0.42" fill="rgb(214,214,214)"/><circle cx="653.5" cy="69.0" r="0.42" fill="rgb(187,187,187)"/><circle cx="659.9" cy="115.6" r="0.42" fill="rgb(202,202,202)"/><circle cx="651.5" cy="90.3" r="0.5" fill="rgb(44,44,44)"/><circle cx="660.9" cy="98.4" r="0.42" fill="rgb(187,187,187)"/><circle cx="659.6" cy="95.5" r="0.5" fill="rgb(96,96,96)"/><circle cx="651.9" cy="109.0" r="0.5" fill="rgb(57,57,57)"/><circle cx="652.9" cy="85.5" r="0.42" fill="rgb(200,200,200)"/><circle cx="659.0" cy="84.5" r="0.5" fill="rgb(72,72,72)"/><circle cx="652.6" cy="87.6" r="0.5" fill="rgb(84,84,84)"/><circle cx="652.2" cy="92.0" r="0.42" fill="rgb(196,196,196)"/><circle cx="650.2" cy="112.6" r="0.5" fill="rgb(55,55,55)"/><circle cx="664.4" cy="113.2" r="0.5" fill="rgb(62,62,62)"/><circle cx="665.2" cy="87.3" r="0.42" fill="rgb(195,195,195)"/><circle cx="642.2" cy="56.0" r="0.42" fill="rgb(193,193,193)"/><circle cx="650.3" cy="59.8" r="0.42" fill="rgb(175,175,175)"/><circle cx="655.4" cy="68.4" r="0.42" fill="rgb(177,177,177)"/><circle cx="663.4" cy="77.1" r="0.42" fill="rgb(213,213,213)"/><circle cx="637.7" cy="69.7" r="0.42" fill="rgb(198,198,198)"/><circle cx="649.2" cy="84.7" r="0.5" fill="rgb(81,81,81)"/><circle cx="649.9" cy="67.2" r="0.5" fill="rgb(51,51,51)"/><circle cx="634.1" cy="65.3" r="0.42" fill="rgb(218,218,218)"/><circle cx="640.7" cy="63.6" r="0.5" fill="rgb(53,53,53)"/><circle cx="659.4" cy="82.9" r="0.42" fill="rgb(195,195,195)"/><circle cx="662.4" cy="69.1" r="0.5" fill="rgb(94,94,94)"/><circle cx="646.5" cy="59.3" r="0.5" fill="rgb(92,92,92)"/><circle cx="657.7" cy="72.5" r="0.5" fill="rgb(86,86,86)"/><circle cx="640.7" cy="59.9" r="0.5" fill="rgb(89,89,89)"/><circle cx="633.1" cy="61.7" r="0.42" fill="rgb(185,185,185)"/><circle cx="645.9" cy="98.3" r="0.5" fill="rgb(82,82,82)"/><circle cx="647.8" cy="77.3" r="0.42" fill="rgb(183,183,183)"/><circle cx="658.8" cy="89.5" r="0.42" fill="rgb(198,198,198)"/><circle cx="666.7" cy="81.5" r="0.42" fill="rgb(197,197,197)"/><circle cx="646.8" cy="70.4" r="0.5" fill="rgb(64,64,64)"/><circle cx="641.3" cy="71.4" r="0.42" fill="rgb(193,193,193)"/><circle cx="643.3" cy="81.2" r="0.5" fill="rgb(60,60,60)"/><circle cx="649.3" cy="80.8" r="0.5" fill="rgb(25,25,25)"/><circle cx="663.5" cy="114.0" r="0.5" fill="rgb(49,49,49)"/><circle cx="642.8" cy="62.1" r="0.42" fill="rgb(228,228,228)"/><circle cx="649.2" cy="96.8" r="0.5" fill="rgb(68,68,68)"/><circle cx="654.8" cy="70.2" r="0.42" fill="rgb(206,206,206)"/><circle cx="658.7" cy="66.3" r="0.5" fill="rgb(97,97,97)"/><circle cx="658.7" cy="92.5" r="0.42" fill="rgb(171,171,171)"/><circle cx="646.4" cy="97.7" r="0.42" fill="rgb(175,175,175)"/><circle cx="658.7" cy="88.9" r="0.5" fill="rgb(59,59,59)"/><circle cx="660.5" cy="75.3" r="0.42" fill="rgb(208,208,208)"/><circle cx="666.0" cy="102.9" r="0.42" fill="rgb(213,213,213)"/><circle cx="642.7" cy="79.6" r="0.42" fill="rgb(213,213,213)"/><circle cx="653.4" cy="115.8" r="0.5" fill="rgb(60,60,60)"/><circle cx="659.2" cy="101.0" r="0.5" fill="rgb(101,101,101)"/><circle cx="655.3" cy="96.6" r="0.42" fill="rgb(201,201,201)"/><circle cx="664.4" cy="84.3" r="0.5" fill="rgb(40,40,40)"/><circle cx="661.8" cy="67.5" r="0.5" fill="rgb(104,104,104)"/><circle cx="655.0" cy="96.6" r="0.42" fill="rgb(197,197,197)"/><circle cx="659.8" cy="111.8" r="0.42" fill="rgb(216,216,216)"/><circle cx="666.4" cy="92.6" r="0.5" fill="rgb(98,98,98)"/><circle cx="645.7" cy="58.6" r="0.42" fill="rgb(209,209,209)"/><circle cx="644.6" cy="89.9" r="0.5" fill="rgb(22,22,22)"/><circle cx="656.8" cy="76.5" r="0.42" fill="rgb(202,202,202)"/><circle cx="667.9" cy="93.5" r="0.5" fill="rgb(39,39,39)"/><circle cx="640.5" cy="66.8" r="0.5" fill="rgb(73,73,73)"/><circle cx="649.1" cy="73.4" r="0.5" fill="rgb(37,37,37)"/><circle cx="644.4" cy="63.6" r="0.42" fill="rgb(225,225,225)"/><circle cx="651.6" cy="75.2" r="0.42" fill="rgb(173,173,173)"/><circle cx="643.1" cy="72.2" r="0.42" fill="rgb(186,186,186)"/><circle cx="656.7" cy="117.3" r="0.5" fill="rgb(21,21,21)"/><circle cx="665.8" cy="88.7" r="0.5" fill="rgb(77,77,77)"/><circle cx="664.0" cy="81.1" r="0.5" fill="rgb(63,63,63)"/><circle cx="662.0" cy="87.5" r="0.42" fill="rgb(178,178,178)"/><circle cx="652.8" cy="67.8" r="0.5" fill="rgb(93,93,93)"/><circle cx="651.5" cy="58.0" r="0.42" fill="rgb(216,216,216)"/><circle cx="655.6" cy="106.2" r="0.42" fill="rgb(193,193,193)"/><circle cx="650.8" cy="88.3" r="0.42" fill="rgb(200,200,200)"/><circle cx="648.1" cy="91.8" r="0.42" fill="rgb(184,184,184)"/><circle cx="653.5" cy="60.0" r="0.5" fill="rgb(106,106,106)"/><circle cx="660.9" cy="85.3" r="0.42" fill="rgb(217,217,217)"/><circle cx="647.4" cy="105.8" r="0.5" fill="rgb(79,79,79)"/><circle cx="663.1" cy="73.7" r="0.5" fill="rgb(61,61,61)"/><circle cx="668.6" cy="94.7" r="0.42" fill="rgb(192,192,192)"/><circle cx="635.7" cy="56.7" r="0.5" fill="rgb(51,51,51)"/><circle cx="662.2" cy="102.2" r="0.42" fill="rgb(192,192,192)"/><circle cx="644.7" cy="82.1" r="0.5" fill="rgb(110,110,110)"/><circle cx="652.0" cy="88.6" r="0.5" fill="rgb(20,20,20)"/><circle cx="638.6" cy="69.0" r="0.42" fill="rgb(180,180,180)"/><circle cx="639.7" cy="60.0" r="0.5" fill="rgb(54,54,54)"/><circle cx="644.5" cy="96.6" r="0.42" fill="rgb(222,222,222)"/><circle cx="663.7" cy="96.8" r="0.5" fill="rgb(65,65,65)"/><circle cx="647.2" cy="104.0" r="0.42" fill="rgb(223,223,223)"/><circle cx="643.5" cy="58.9" r="0.5" fill="rgb(53,53,53)"/><circle cx="645.2" cy="79.9" r="0.5" fill="rgb(44,44,44)"/><circle cx="666.2" cy="108.3" r="0.5" fill="rgb(38,38,38)"/><circle cx="667.9" cy="100.5" r="0.42" fill="rgb(195,195,195)"/><circle cx="640.5" cy="56.0" r="0.42" fill="rgb(190,190,190)"/><circle cx="653.2" cy="58.7" r="0.5" fill="rgb(70,70,70)"/><circle cx="669.3" cy="96.4" r="0.5" fill="rgb(92,92,92)"/><circle cx="655.8" cy="98.8" r="0.42" fill="rgb(196,196,196)"/><circle cx="642.6" cy="81.0" r="0.42" fill="rgb(192,192,192)"/><circle cx="655.3" cy="104.4" r="0.42" fill="rgb(207,207,207)"/><circle cx="642.2" cy="62.9" r="0.42" fill="rgb(221,221,221)"/><circle cx="641.2" cy="74.9" r="0.5" fill="rgb(31,31,31)"/><circle cx="637.6" cy="74.9" r="0.42" fill="rgb(227,227,227)"/><circle cx="651.5" cy="65.4" r="0.5" fill="rgb(91,91,91)"/><circle cx="651.2" cy="69.9" r="0.42" fill="rgb(221,221,221)"/><circle cx="642.3" cy="83.1" r="0.5" fill="rgb(35,35,35)"/><circle cx="644.0" cy="55.6" r="0.42" fill="rgb(196,196,196)"/><circle cx="658.5" cy="105.0" r="0.5" fill="rgb(51,51,51)"/><circle cx="645.5" cy="85.6" r="0.5" fill="rgb(52,52,52)"/><circle cx="653.9" cy="63.8" r="0.5" fill="rgb(66,66,66)"/><circle cx="641.8" cy="81.0" r="0.42" fill="rgb(183,183,183)"/><circle cx="648.7" cy="58.8" r="0.42" fill="rgb(193,193,193)"/><circle cx="664.2" cy="89.6" r="0.5" fill="rgb(41,41,41)"/><circle cx="637.7" cy="59.9" r="0.5" fill="rgb(56,56,56)"/><circle cx="663.4" cy="87.8" r="0.5" fill="rgb(48,48,48)"/><circle cx="639.7" cy="76.3" r="0.5" fill="rgb(73,73,73)"/><circle cx="660.8" cy="103.4" r="0.42" fill="rgb(198,198,198)"/><circle cx="641.7" cy="56.8" r="0.5" fill="rgb(27,27,27)"/><circle cx="659.5" cy="100.7" r="0.5" fill="rgb(60,60,60)"/><circle cx="646.0" cy="87.6" r="0.42" fill="rgb(176,176,176)"/><circle cx="649.0" cy="103.1" r="0.42" fill="rgb(222,222,222)"/><circle cx="650.1" cy="64.2" r="0.42" fill="rgb(199,199,199)"/><circle cx="650.2" cy="91.3" r="0.42" fill="rgb(217,217,217)"/><circle cx="640.0" cy="59.1" r="0.42" fill="rgb(175,175,175)"/><circle cx="660.0" cy="84.3" r="0.5" fill="rgb(76,76,76)"/><circle cx="655.3" cy="82.3" r="0.42" fill="rgb(212,212,212)"/><circle cx="643.0" cy="68.7" r="0.5" fill="rgb(43,43,43)"/><circle cx="660.6" cy="116.0" r="0.42" fill="rgb(202,202,202)"/><circle cx="658.3" cy="89.2" r="0.42" fill="rgb(181,181,181)"/><circle cx="649.5" cy="69.7" r="0.42" fill="rgb(173,173,173)"/><circle cx="662.9" cy="87.0" r="0.42" fill="rgb(215,215,215)"/><circle cx="658.9" cy="81.2" r="0.5" fill="rgb(22,22,22)"/><circle cx="654.7" cy="69.4" r="0.5" fill="rgb(84,84,84)"/><circle cx="661.3" cy="72.5" r="0.42" fill="rgb(204,204,204)"/><circle cx="641.2" cy="57.3" r="0.42" fill="rgb(226,226,226)"/><circle cx="647.2" cy="78.2" r="0.5" fill="rgb(98,98,98)"/><circle cx="658.7" cy="100.8" r="0.42" fill="rgb(178,178,178)"/><circle cx="637.5" cy="60.7" r="0.42" fill="rgb(172,172,172)"/><circle cx="639.2" cy="69.4" r="0.42" fill="rgb(218,218,218)"/><circle cx="638.7" cy="63.3" r="0.5" fill="rgb(74,74,74)"/><circle cx="645.1" cy="81.2" r="0.5" fill="rgb(27,27,27)"/><circle cx="655.6" cy="78.9" r="0.5" fill="rgb(98,98,98)"/><circle cx="658.5" cy="62.6" r="0.5" fill="rgb(107,107,107)"/><circle cx="662.0" cy="79.1" r="0.42" fill="rgb(201,201,201)"/><circle cx="662.8" cy="104.0" r="0.5" fill="rgb(104,104,104)"/><circle cx="637.0" cy="65.8" r="0.42" fill="rgb(206,206,206)"/><circle cx="646.4" cy="95.9" r="0.42" fill="rgb(182,182,182)"/><circle cx="663.4" cy="110.5" r="0.5" fill="rgb(41,41,41)"/><circle cx="663.5" cy="77.1" r="0.5" fill="rgb(58,58,58)"/><circle cx="655.5" cy="104.4" r="0.42" fill="rgb(172,172,172)"/><circle cx="638.1" cy="66.9" r="0.5" fill="rgb(57,57,57)"/><circle cx="665.0" cy="94.0" r="0.5" fill="rgb(22,22,22)"/><circle cx="651.3" cy="77.8" r="0.5" fill="rgb(53,53,53)"/><circle cx="657.0" cy="114.5" r="0.5" fill="rgb(68,68,68)"/><circle cx="651.9" cy="85.2" r="0.42" fill="rgb(221,221,221)"/>
<circle cx="638.6" cy="76.2" r="0.5" fill="rgb(102,102,102)"/><circle cx="637.5" cy="77.7" r="0.42" fill="rgb(194,194,194)"/><circle cx="641.2" cy="71.0" r="0.5" fill="rgb(90,90,90)"/><circle cx="639.1" cy="76.4" r="0.5" fill="rgb(40,40,40)"/><circle cx="635.7" cy="69.7" r="0.42" fill="rgb(197,197,197)"/><circle cx="637.1" cy="68.2" r="0.42" fill="rgb(190,190,190)"/><circle cx="641.9" cy="65.2" r="0.5" fill="rgb(90,90,90)"/><circle cx="634.0" cy="68.2" r="0.42" fill="rgb(174,174,174)"/><circle cx="640.1" cy="72.1" r="0.5" fill="rgb(106,106,106)"/><circle cx="640.8" cy="68.0" r="0.5" fill="rgb(68,68,68)"/><circle cx="643.5" cy="72.7" r="0.5" fill="rgb(24,24,24)"/><circle cx="642.7" cy="73.1" r="0.5" fill="rgb(64,64,64)"/><circle cx="634.6" cy="71.9" r="0.5" fill="rgb(44,44,44)"/><circle cx="637.1" cy="67.7" r="0.5" fill="rgb(25,25,25)"/><circle cx="639.4" cy="69.4" r="0.5" fill="rgb(37,37,37)"/><circle cx="636.7" cy="69.3" r="0.5" fill="rgb(90,90,90)"/><circle cx="634.3" cy="68.2" r="0.42" fill="rgb(183,183,183)"/><circle cx="640.8" cy="66.0" r="0.42" fill="rgb(206,206,206)"/><circle cx="635.8" cy="70.3" r="0.5" fill="rgb(70,70,70)"/><circle cx="637.0" cy="71.0" r="0.5" fill="rgb(53,53,53)"/><circle cx="638.2" cy="69.0" r="0.5" fill="rgb(24,24,24)"/><circle cx="643.5" cy="73.8" r="0.5" fill="rgb(51,51,51)"/><circle cx="635.4" cy="67.3" r="0.5" fill="rgb(100,100,100)"/><circle cx="639.5" cy="65.9" r="0.42" fill="rgb(187,187,187)"/><circle cx="639.4" cy="71.2" r="0.5" fill="rgb(109,109,109)"/><circle cx="641.2" cy="71.2" r="0.5" fill="rgb(42,42,42)"/><circle cx="635.3" cy="68.7" r="0.5" fill="rgb(67,67,67)"/><circle cx="642.5" cy="66.7" r="0.42" fill="rgb(215,215,215)"/><circle cx="638.5" cy="67.6" r="0.5" fill="rgb(30,30,30)"/><circle cx="639.2" cy="74.0" r="0.5" fill="rgb(35,35,35)"/><circle cx="638.9" cy="66.1" r="0.5" fill="rgb(102,102,102)"/><circle cx="640.0" cy="74.8" r="0.5" fill="rgb(53,53,53)"/><circle cx="642.0" cy="74.9" r="0.5" fill="rgb(86,86,86)"/><circle cx="638.9" cy="67.6" r="0.5" fill="rgb(36,36,36)"/><circle cx="643.5" cy="71.5" r="0.42" fill="rgb(225,225,225)"/><circle cx="635.3" cy="74.7" r="0.42" fill="rgb(172,172,172)"/><circle cx="637.6" cy="71.0" r="0.5" fill="rgb(25,25,25)"/><circle cx="636.9" cy="77.5" r="0.42" fill="rgb(225,225,225)"/><circle cx="643.0" cy="72.2" r="0.5" fill="rgb(103,103,103)"/><circle cx="641.4" cy="65.9" r="0.5" fill="rgb(43,43,43)"/><circle cx="641.4" cy="68.3" r="0.42" fill="rgb(191,191,191)"/><circle cx="640.0" cy="71.1" r="0.42" fill="rgb(184,184,184)"/><circle cx="638.4" cy="69.4" r="0.42" fill="rgb(209,209,209)"/><circle cx="639.0" cy="76.8" r="0.5" fill="rgb(105,105,105)"/><circle cx="636.7" cy="69.6" r="0.5" fill="rgb(94,94,94)"/>
<circle cx="658.4" cy="116.1" r="0.42" fill="rgb(186,186,186)"/><circle cx="656.1" cy="128.0" r="0.42" fill="rgb(195,195,195)"/><circle cx="656.4" cy="121.1" r="0.42" fill="rgb(182,182,182)"/><circle cx="657.8" cy="125.3" r="0.42" fill="rgb(183,183,183)"/><circle cx="658.9" cy="120.1" r="0.42" fill="rgb(180,180,180)"/><circle cx="659.8" cy="118.8" r="0.42" fill="rgb(198,198,198)"/><circle cx="660.4" cy="127.3" r="0.42" fill="rgb(207,207,207)"/><circle cx="656.3" cy="116.0" r="0.42" fill="rgb(220,220,220)"/><circle cx="660.0" cy="126.7" r="0.42" fill="rgb(181,181,181)"/><circle cx="660.5" cy="126.7" r="0.42" fill="rgb(210,210,210)"/><circle cx="655.9" cy="121.7" r="0.42" fill="rgb(183,183,183)"/><circle cx="656.8" cy="117.8" r="0.42" fill="rgb(201,201,201)"/><circle cx="657.4" cy="124.2" r="0.5" fill="rgb(20,20,20)"/><circle cx="656.3" cy="116.5" r="0.42" fill="rgb(228,228,228)"/><circle cx="656.0" cy="120.7" r="0.42" fill="rgb(195,195,195)"/><circle cx="656.8" cy="123.5" r="0.42" fill="rgb(198,198,198)"/><circle cx="655.9" cy="122.3" r="0.5" fill="rgb(87,87,87)"/><circle cx="655.7" cy="126.0" r="0.5" fill="rgb(48,48,48)"/><circle cx="656.7" cy="125.0" r="0.42" fill="rgb(197,197,197)"/><circle cx="657.5" cy="119.8" r="0.42" fill="rgb(195,195,195)"/><circle cx="659.4" cy="119.8" r="0.5" fill="rgb(83,83,83)"/><circle cx="658.2" cy="118.2" r="0.42" fill="rgb(197,197,197)"/><circle cx="656.3" cy="125.3" r="0.42" fill="rgb(227,227,227)"/><circle cx="657.2" cy="119.2" r="0.42" fill="rgb(204,204,204)"/>
<circle cx="654.3" cy="141.3" r="0.42" fill="rgb(226,226,226)"/><circle cx="661.6" cy="130.7" r="0.5" fill="rgb(41,41,41)"/><circle cx="652.7" cy="148.4" r="0.42" fill="rgb(183,183,183)"/><circle cx="659.7" cy="137.2" r="0.42" fill="rgb(194,194,194)"/><circle cx="657.4" cy="144.1" r="0.42" fill="rgb(216,216,216)"/><circle cx="659.2" cy="128.4" r="0.42" fill="rgb(187,187,187)"/><circle cx="655.8" cy="141.8" r="0.42" fill="rgb(186,186,186)"/><circle cx="651.8" cy="130.6" r="0.42" fill="rgb(210,210,210)"/><circle cx="652.4" cy="132.1" r="0.42" fill="rgb(186,186,186)"/><circle cx="660.0" cy="145.4" r="0.42" fill="rgb(195,195,195)"/><circle cx="661.9" cy="141.2" r="0.5" fill="rgb(51,51,51)"/><circle cx="651.8" cy="141.8" r="0.42" fill="rgb(196,196,196)"/><circle cx="659.1" cy="143.8" r="0.42" fill="rgb(224,224,224)"/><circle cx="655.8" cy="136.8" r="0.42" fill="rgb(221,221,221)"/><circle cx="660.4" cy="144.6" r="0.5" fill="rgb(37,37,37)"/><circle cx="656.3" cy="138.5" r="0.42" fill="rgb(178,178,178)"/><circle cx="657.9" cy="148.7" r="0.42" fill="rgb(218,218,218)"/><circle cx="655.2" cy="132.7" r="0.42" fill="rgb(227,227,227)"/><circle cx="659.5" cy="147.6" r="0.42" fill="rgb(193,193,193)"/><circle cx="658.2" cy="139.8" r="0.42" fill="rgb(197,197,197)"/><circle cx="657.9" cy="145.6" r="0.5" fill="rgb(70,70,70)"/><circle cx="650.9" cy="140.3" r="0.5" fill="rgb(104,104,104)"/><circle cx="659.7" cy="137.7" r="0.5" fill="rgb(100,100,100)"/><circle cx="662.6" cy="139.8" r="0.42" fill="rgb(191,191,191)"/><circle cx="654.1" cy="130.9" r="0.42" fill="rgb(205,205,205)"/><circle cx="662.5" cy="138.4" r="0.5" fill="rgb(102,102,102)"/><circle cx="654.9" cy="134.2" r="0.42" fill="rgb(221,221,221)"/><circle cx="656.9" cy="144.7" r="0.42" fill="rgb(175,175,175)"/><circle cx="655.7" cy="145.7" r="0.42" fill="rgb(228,228,228)"/><circle cx="655.9" cy="141.5" r="0.5" fill="rgb(69,69,69)"/><circle cx="649.7" cy="141.0" r="0.42" fill="rgb(195,195,195)"/><circle cx="656.5" cy="131.1" r="0.42" fill="rgb(219,219,219)"/><circle cx="660.1" cy="135.2" r="0.42" fill="rgb(227,227,227)"/><circle cx="656.0" cy="141.3" r="0.42" fill="rgb(183,183,183)"/><circle cx="655.0" cy="143.3" r="0.42" fill="rgb(222,222,222)"/><circle cx="656.1" cy="128.9" r="0.42" fill="rgb(206,206,206)"/><circle cx="650.7" cy="143.2" r="0.42" fill="rgb(226,226,226)"/><circle cx="660.1" cy="136.2" r="0.42" fill="rgb(215,215,215)"/><circle cx="651.2" cy="133.0" r="0.5" fill="rgb(23,23,23)"/><circle cx="650.7" cy="135.4" r="0.42" fill="rgb(213,213,213)"/><circle cx="657.6" cy="141.3" r="0.5" fill="rgb(64,64,64)"/><circle cx="661.3" cy="131.4" r="0.42" fill="rgb(228,228,228)"/><circle cx="661.9" cy="140.5" r="0.42" fill="rgb(171,171,171)"/><circle cx="651.5" cy="143.6" r="0.42" fill="rgb(180,180,180)"/><circle cx="651.1" cy="141.3" r="0.42" fill="rgb(215,215,215)"/><circle cx="654.5" cy="140.0" r="0.42" fill="rgb(173,173,173)"/><circle cx="660.4" cy="132.2" r="0.5" fill="rgb(74,74,74)"/><circle cx="656.0" cy="146.9" r="0.5" fill="rgb(61,61,61)"/><circle cx="659.1" cy="142.5" r="0.5" fill="rgb(79,79,79)"/><circle cx="661.7" cy="138.6" r="0.42" fill="rgb(186,186,186)"/><circle cx="650.7" cy="133.4" r="0.5" fill="rgb(41,41,41)"/><circle cx="659.7" cy="136.0" r="0.42" fill="rgb(195,195,195)"/><circle cx="655.7" cy="135.7" r="0.42" fill="rgb(225,225,225)"/><circle cx="660.5" cy="144.9" r="0.42" fill="rgb(220,220,220)"/><circle cx="660.0" cy="130.1" r="0.42" fill="rgb(209,209,209)"/><circle cx="658.1" cy="143.0" r="0.42" fill="rgb(182,182,182)"/><circle cx="653.5" cy="133.9" r="0.5" fill="rgb(96,96,96)"/><circle cx="660.5" cy="142.7" r="0.5" fill="rgb(79,79,79)"/><circle cx="657.8" cy="127.8" r="0.5" fill="rgb(38,38,38)"/><circle cx="660.3" cy="145.8" r="0.5" fill="rgb(71,71,71)"/><circle cx="661.8" cy="139.6" r="0.5" fill="rgb(66,66,66)"/><circle cx="657.2" cy="134.1" r="0.42" fill="rgb(170,170,170)"/><circle cx="655.8" cy="134.4" r="0.42" fill="rgb(214,214,214)"/><circle cx="650.9" cy="138.2" r="0.42" fill="rgb(175,175,175)"/><circle cx="655.4" cy="148.2" r="0.42" fill="rgb(223,223,223)"/><circle cx="658.4" cy="145.0" r="0.42" fill="rgb(197,197,197)"/><circle cx="658.6" cy="129.5" r="0.42" fill="rgb(218,218,218)"/><circle cx="653.5" cy="130.0" r="0.42" fill="rgb(193,193,193)"/><circle cx="658.8" cy="128.6" r="0.42" fill="rgb(182,182,182)"/><circle cx="656.0" cy="146.8" r="0.5" fill="rgb(77,77,77)"/><circle cx="654.6" cy="127.8" r="0.42" fill="rgb(171,171,171)"/><circle cx="656.8" cy="141.4" r="0.42" fill="rgb(179,179,179)"/><circle cx="660.9" cy="145.8" r="0.42" fill="rgb(214,214,214)"/><circle cx="657.5" cy="147.8" r="0.5" fill="rgb(44,44,44)"/><circle cx="650.7" cy="134.6" r="0.5" fill="rgb(40,40,40)"/><circle cx="651.7" cy="138.0" r="0.5" fill="rgb(50,50,50)"/><circle cx="658.8" cy="131.7" r="0.42" fill="rgb(218,218,218)"/><circle cx="654.0" cy="141.4" r="0.42" fill="rgb(189,189,189)"/><circle cx="652.3" cy="130.0" r="0.42" fill="rgb(194,194,194)"/><circle cx="662.4" cy="137.0" r="0.5" fill="rgb(46,46,46)"/><circle cx="657.3" cy="135.6" r="0.5" fill="rgb(34,34,34)"/><circle cx="662.4" cy="138.1" r="0.42" fill="rgb(206,206,206)"/><circle cx="657.1" cy="145.9" r="0.42" fill="rgb(176,176,176)"/><circle cx="658.2" cy="142.4" r="0.5" fill="rgb(28,28,28)"/><circle cx="653.3" cy="144.0" r="0.42" fill="rgb(189,189,189)"/><circle cx="659.4" cy="145.7" r="0.42" fill="rgb(216,216,216)"/><circle cx="650.3" cy="131.6" r="0.42" fill="rgb(228,228,228)"/><circle cx="651.5" cy="141.0" r="0.42" fill="rgb(213,213,213)"/><circle cx="650.0" cy="142.3" r="0.42" fill="rgb(185,185,185)"/><circle cx="652.2" cy="138.4" r="0.5" fill="rgb(92,92,92)"/><circle cx="652.4" cy="131.2" r="0.42" fill="rgb(175,175,175)"/><circle cx="657.4" cy="141.9" r="0.42" fill="rgb(204,204,204)"/><circle cx="652.2" cy="131.4" r="0.42" fill="rgb(226,226,226)"/><circle cx="651.6" cy="141.3" r="0.5" fill="rgb(71,71,71)"/><circle cx="657.5" cy="136.1" r="0.42" fill="rgb(205,205,205)"/><circle cx="653.7" cy="141.9" r="0.42" fill="rgb(171,171,171)"/><circle cx="659.2" cy="138.4" r="0.5" fill="rgb(82,82,82)"/><circle cx="659.9" cy="147.5" r="0.5" fill="rgb(60,60,60)"/><circle cx="653.5" cy="147.2" r="0.42" fill="rgb(201,201,201)"/><circle cx="658.6" cy="129.2" r="0.5" fill="rgb(37,37,37)"/><circle cx="650.7" cy="131.6" r="0.5" fill="rgb(31,31,31)"/><circle cx="651.1" cy="134.1" r="0.5" fill="rgb(90,90,90)"/><circle cx="655.0" cy="138.8" r="0.5" fill="rgb(92,92,92)"/><circle cx="657.5" cy="145.2" r="0.42" fill="rgb(190,190,190)"/><circle cx="660.4" cy="141.2" r="0.5" fill="rgb(91,91,91)"/><circle cx="657.8" cy="140.6" r="0.42" fill="rgb(182,182,182)"/><circle cx="651.6" cy="137.6" r="0.5" fill="rgb(64,64,64)"/><circle cx="657.9" cy="134.4" r="0.42" fill="rgb(203,203,203)"/><circle cx="656.9" cy="141.3" r="0.42" fill="rgb(188,188,188)"/><circle cx="660.9" cy="134.9" r="0.42" fill="rgb(190,190,190)"/><circle cx="660.8" cy="146.5" r="0.42" fill="rgb(220,220,220)"/><circle cx="661.0" cy="140.3" r="0.5" fill="rgb(102,102,102)"/><circle cx="656.6" cy="139.6" r="0.42" fill="rgb(186,186,186)"/><circle cx="656.5" cy="136.6" r="0.42" fill="rgb(186,186,186)"/><circle cx="649.5" cy="139.4" r="0.42" fill="rgb(202,202,202)"/><circle cx="656.0" cy="146.1" r="0.5" fill="rgb(64,64,64)"/><circle cx="657.8" cy="133.3" r="0.42" fill="rgb(200,200,200)"/><circle cx="651.3" cy="131.7" r="0.42" fill="rgb(191,191,191)"/><circle cx="650.7" cy="138.4" r="0.5" fill="rgb(33,33,33)"/><circle cx="652.9" cy="131.9" r="0.42" fill="rgb(178,178,178)"/><circle cx="660.2" cy="136.5" r="0.42" fill="rgb(186,186,186)"/><circle cx="659.1" cy="143.9" r="0.5" fill="rgb(28,28,28)"/><circle cx="662.5" cy="136.9" r="0.5" fill="rgb(31,31,31)"/><circle cx="652.7" cy="130.9" r="0.5" fill="rgb(25,25,25)"/><circle cx="660.1" cy="137.3" r="0.5" fill="rgb(95,95,95)"/><circle cx="660.2" cy="145.2" r="0.42" fill="rgb(226,226,226)"/><circle cx="660.0" cy="135.4" r="0.42" fill="rgb(177,177,177)"/><circle cx="655.2" cy="128.6" r="0.5" fill="rgb(30,30,30)"/><circle cx="660.3" cy="143.8" r="0.5" fill="rgb(57,57,57)"/><circle cx="658.9" cy="138.7" r="0.42" fill="rgb(183,183,183)"/><circle cx="659.8" cy="144.8" r="0.5" fill="rgb(30,30,30)"/><circle cx="658.6" cy="142.4" r="0.5" fill="rgb(33,33,33)"/><circle cx="659.2" cy="128.8" r="0.5" fill="rgb(39,39,39)"/><circle cx="655.3" cy="139.1" r="0.42" fill="rgb(173,173,173)"/><circle cx="662.0" cy="145.7" r="0.5" fill="rgb(32,32,32)"/><circle cx="650.8" cy="131.0" r="0.5" fill="rgb(84,84,84)"/><circle cx="652.7" cy="143.1" r="0.5" fill="rgb(85,85,85)"/><circle cx="651.8" cy="130.5" r="0.42" fill="rgb(224,224,224)"/><circle cx="658.6" cy="147.3" r="0.5" fill="rgb(51,51,51)"/><circle cx="661.0" cy="142.5" r="0.42" fill="rgb(201,201,201)"/>
<rect x="497.80" y="100.00" width="1.60" height="37.20" fill="url(#cbar)"/>
<text x="503.50" y="110.20" font-size="5.4" fill="#333">1.5</text>
<text x="503.50" y="119.55" font-size="5.4" fill="#333">1.0</text>
<text x="503.50" y="128.95" font-size="5.4" fill="#333">0.5</text>
<text x="503.50" y="138.55" font-size="5.4" fill="#333">0.0</text>
<rect x="616.10" y="100.00" width="1.60" height="36.60" fill="url(#cbar)"/>
<text x="621.80" y="110.20" font-size="5.4" fill="#333">1.5</text>
<text x="621.80" y="119.55" font-size="5.4" fill="#333">1.0</text>
<text x="621.80" y="128.95" font-size="5.4" fill="#333">0.5</text>
<text x="621.80" y="138.55" font-size="5.4" fill="#333">0.0</text>
<line x1="480.00" y1="162.00" x2="480.00" y2="145.50" stroke="#111" stroke-width="0.8" />
<path d="M480.0,142.5 L478.4,146.2 L481.6,146.2 Z" fill="#111"/>
<line x1="479.60" y1="162.00" x2="498.50" y2="162.00" stroke="#111" stroke-width="0.8" />
<path d="M501.3,162.0 L497.6,160.4 L497.6,163.6 Z" fill="#111"/>
<text x="475.80" y="154.30" font-size="5.5" fill="#222" font-weight="bold" text-anchor="middle" textLength="19.20" lengthAdjust="spacingAndGlyphs" transform="rotate(-90 475.80 154.30)">UMAP2</text>
<text x="478.80" y="170.50" font-size="5.5" fill="#222" font-weight="bold" textLength="19.20" lengthAdjust="spacingAndGlyphs">UMAP1</text>
<line x1="595.75" y1="162.00" x2="595.75" y2="145.50" stroke="#111" stroke-width="0.8" />
<path d="M595.8,142.5 L594.1,146.2 L597.4,146.2 Z" fill="#111"/>
<line x1="595.35" y1="162.00" x2="614.25" y2="162.00" stroke="#111" stroke-width="0.8" />
<path d="M617.0,162.0 L613.4,160.4 L613.4,163.6 Z" fill="#111"/>
<text x="591.55" y="154.30" font-size="5.5" fill="#222" font-weight="bold" text-anchor="middle" textLength="19.20" lengthAdjust="spacingAndGlyphs" transform="rotate(-90 591.55 154.30)">UMAP2</text>
<text x="594.55" y="170.50" font-size="5.5" fill="#222" font-weight="bold" textLength="19.20" lengthAdjust="spacingAndGlyphs">UMAP1</text>
</g>
<g id="panel-c">
<text x="246.40" y="211.40" font-size="15.3" fill="#000" font-weight="bold">c</text>
<g clip-path="url(#clipc1)">
<rect x="264.20" y="198.60" width="115.05" height="263.60" fill="#2b570e"/>
<ellipse cx="298" cy="438" rx="40" ry="20" fill="#4f9a18" opacity="0.7" filter="url(#b4)"/>
<path d="M326.0,200.0 C327.2,206.7 331.8,229.7 333.0,240.0 C334.2,250.3 334.0,253.3 333.0,262.0 C332.0,270.7 329.7,282.0 327.0,292.0 C324.3,302.0 321.0,312.3 317.0,322.0 C313.0,331.7 306.2,341.2 303.0,350.0 C299.8,358.8 298.2,366.7 298.0,375.0 C297.8,383.3 301.3,395.8 302.0,400.0" fill="none" stroke="#4c9417" stroke-width="22" filter="url(#b7)" opacity="0.75"/>
<ellipse cx="372" cy="360" rx="14" ry="60" fill="#224708" opacity="0.6" filter="url(#b7)"/>
<ellipse cx="350" cy="375" rx="20" ry="30" fill="#26500a" opacity="0.5" filter="url(#b7)"/>
<rect x="264.20" y="198.60" width="115.05" height="263.60" fill="#000" filter="url(#gnoiseL)"/>
<rect x="264.20" y="198.60" width="115.05" height="263.60" fill="#000" filter="url(#gnoiseD)"/>
<path d="M264.2,455.0 L300.0,456.0 L340.0,452.0 L379.3,447.0 L379.3,463.0 L264.2,463.0 Z" fill="#0c1a04" opacity="0.75" filter="url(#b2)"/>
<path d="M338.8,424.2 C341.0,421.7 348.0,421.0 352.0,421.0 C356.0,421.0 360.4,421.8 363.0,424.2 C365.6,426.6 368.1,431.9 367.4,435.2 C366.7,438.5 362.2,442.4 358.6,444.0 C355.0,445.6 349.3,445.8 346.0,444.5 C342.7,443.2 340.2,439.4 339.0,436.0 C337.8,432.6 336.6,426.7 338.8,424.2 Z" fill="#0e2205" filter="url(#b1)" opacity="0.92"/>
<path d="M318.0,392.0 C318.3,390.3 324.0,387.7 326.0,388.0 C328.0,388.3 330.3,392.3 330.0,394.0 C329.7,395.7 326.0,398.3 324.0,398.0 C322.0,397.7 317.7,393.7 318.0,392.0 Z" fill="#163207" filter="url(#b1)" opacity="0.8"/>
<path d="M322.0,412.0 C322.7,410.5 328.2,409.3 330.0,410.0 C331.8,410.7 333.7,414.5 333.0,416.0 C332.3,417.5 327.8,419.7 326.0,419.0 C324.2,418.3 321.3,413.5 322.0,412.0 Z" fill="#163207" filter="url(#b1)" opacity="0.8"/>
<path d="M362.0,437.0 C363.3,436.8 367.2,435.7 370.0,436.0 C372.8,436.3 377.5,438.5 379.0,439.0" fill="none" stroke="#7ee020" stroke-width="2.5" filter="url(#b1)" opacity="0.8"/>
<path d="M250.0,180.0 C258.6,153.5 315.4,177.8 324.0,180.0 C332.6,182.2 323.6,194.5 324.0,198.6 C324.4,202.7 326.3,210.7 327.0,215.0 C327.7,219.3 329.5,230.5 330.0,235.5 C330.5,240.5 331.2,252.9 331.0,257.5 C330.8,262.1 328.8,271.2 328.0,275.0 C327.2,278.8 325.7,286.3 324.5,290.4 C323.3,294.5 319.6,305.6 318.0,310.0 C316.4,314.4 312.6,324.5 311.0,328.0 C309.4,331.5 305.4,337.9 304.0,340.0 C302.6,342.1 300.1,343.7 299.0,346.0 C297.9,348.3 295.1,357.0 294.5,360.0 C293.9,363.0 293.9,369.4 294.0,372.0 C294.1,374.6 294.5,379.5 295.0,382.5 C295.5,385.5 298.1,395.2 298.2,397.9 C298.3,400.6 296.6,404.4 296.0,406.0 C295.4,407.6 294.6,411.5 292.7,412.0 C290.8,412.5 283.6,411.0 280.0,410.5 C276.4,410.0 265.5,407.9 262.0,407.5 C258.5,407.1 251.4,433.5 250.0,407.0 C248.6,380.5 241.4,206.5 250.0,180.0 Z" fill="#030902" filter="url(#b05)"/>
<ellipse cx="312" cy="281" rx="6" ry="3" fill="#2f6a10" opacity="0.7" filter="url(#b1)"/>
<ellipse cx="303" cy="298" rx="7" ry="3" fill="#24520c" opacity="0.6" filter="url(#b1)"/>
<ellipse cx="318" cy="270" rx="3" ry="5" fill="#1d4409" opacity="0.6" filter="url(#b1)"/>
<path d="M329.0,226.0 C329.3,229.2 330.6,239.7 331.0,245.0 C331.4,250.3 331.8,253.0 331.5,258.0 C331.2,263.0 330.0,269.7 329.0,275.0 C328.0,280.3 327.1,284.3 325.5,290.0 C323.9,295.7 321.6,303.0 319.5,309.0 C317.4,315.0 315.2,321.2 313.0,326.0 C310.8,330.8 308.5,334.7 306.5,338.0 C304.5,341.3 301.9,344.7 301.0,346.0" fill="none" stroke="#62c418" stroke-width="5.5" filter="url(#b1)" opacity="0.8" stroke-linecap="round"/>
<path d="M331.0,240.0 C331.1,243.0 332.1,252.2 331.8,258.0 C331.6,263.8 330.5,269.7 329.5,275.0 C328.5,280.3 327.6,284.3 326.0,290.0 C324.4,295.7 321.9,303.5 320.0,309.0 C318.1,314.5 315.4,320.7 314.5,323.0" fill="none" stroke="#9cf034" stroke-width="3.8" filter="url(#rough)" opacity="0.95" stroke-linecap="round" stroke-dasharray="5 0.6 3 0.5 7 0.8"/>
<path d="M301.0,346.0 C300.2,348.3 296.9,355.7 296.0,360.0 C295.1,364.3 295.4,368.2 295.5,372.0 C295.6,375.8 295.8,378.8 296.5,383.0 C297.2,387.2 299.0,394.7 299.5,397.0" fill="none" stroke="#5fb81a" stroke-width="2.5" filter="url(#b1)" opacity="0.6"/>
<path d="M264.0,408.5 C266.7,409.0 275.3,410.8 280.0,411.5 C284.7,412.2 290.0,412.8 292.0,413.0" fill="none" stroke="#5fb81a" stroke-width="2.5" filter="url(#b1)" opacity="0.6"/>
<path d="M340.0,202.6 C340.2,205.8 340.5,215.8 341.0,222.0 C341.5,228.2 342.1,234.2 343.2,240.0 C344.3,245.8 345.7,251.5 347.5,257.0 C349.3,262.5 351.4,268.4 354.2,272.9 C356.9,277.4 360.4,280.7 364.0,284.0 C367.6,287.3 373.8,291.2 375.7,292.6" fill="none" stroke="#f2f2f2" stroke-width="0.8"/>
<path d="M375.7,311.3 C373.4,310.0 365.9,305.7 362.0,303.5 C358.1,301.3 354.8,299.2 352.0,298.0 C349.2,296.8 347.5,296.4 345.4,296.4 C343.3,296.4 341.2,296.6 339.5,298.0 C337.8,299.4 336.8,301.3 335.0,305.0 C333.2,308.7 331.3,314.5 329.0,320.0 C326.7,325.5 323.1,332.7 321.0,338.0 C318.9,343.3 317.6,347.0 316.5,352.0 C315.4,357.0 314.9,363.0 314.7,368.0 C314.4,373.0 314.5,377.3 315.0,382.0 C315.5,386.7 316.4,391.9 317.5,396.0 C318.6,400.1 319.7,403.7 321.3,406.6 C322.9,409.5 324.8,411.9 327.0,413.5 C329.2,415.1 332.1,416.2 334.4,416.5 C336.7,416.8 338.8,415.8 341.0,415.0 C343.2,414.2 345.8,412.2 347.6,412.0 C349.4,411.8 350.5,412.6 352.0,413.5 C353.5,414.4 354.2,415.7 356.4,417.6 C358.6,419.5 361.7,422.7 365.0,425.0 C368.3,427.3 374.2,430.4 376.0,431.5" fill="none" stroke="#f2f2f2" stroke-width="0.8"/>
<line x1="285.90" y1="229.00" x2="285.90" y2="347.80" stroke="#e6e6e6" stroke-width="1.2" />
<rect x="331.80" y="451.70" width="40.00" height="3.70" fill="#fff"/>
<text x="269.00" y="209.30" font-size="9.5" fill="#fff" font-weight="bold" textLength="16.50" lengthAdjust="spacingAndGlyphs">Fed</text>
<text x="269.00" y="220.20" font-size="9.3" fill="#3be11f" font-weight="bold" textLength="24.60" lengthAdjust="spacingAndGlyphs">FASN</text>
<text x="354.20" y="238.80" font-size="9.3" fill="#fff" font-weight="bold" textLength="21.50" lengthAdjust="spacingAndGlyphs">DMH</text>
<text x="347.00" y="360.50" font-size="9.3" fill="#fff" font-weight="bold" textLength="20.00" lengthAdjust="spacingAndGlyphs">ARH</text>
<text x="269.20" y="390.60" font-size="9.3" fill="#fff" font-weight="bold" textLength="11.40" lengthAdjust="spacingAndGlyphs">3V</text>
<text x="281.70" y="440.30" font-size="9.3" fill="#fff" font-weight="bold" textLength="13.30" lengthAdjust="spacingAndGlyphs">ME</text>
</g>
<g clip-path="url(#clipc2)">
<rect x="383.80" y="198.60" width="116.20" height="263.60" fill="#2b570e"/>
<ellipse cx="418" cy="420" rx="40" ry="30" fill="#62b41e" opacity="0.8" filter="url(#b4)"/>
<path d="M429.0,200.0 C429.8,206.7 433.0,229.7 434.0,240.0 C435.0,250.3 435.5,253.3 435.0,262.0 C434.5,270.7 432.7,282.0 431.0,292.0 C429.3,302.0 426.7,312.3 425.0,322.0 C423.3,331.7 422.2,341.2 421.0,350.0 C419.8,358.8 418.5,370.8 418.0,375.0" fill="none" stroke="#4c9417" stroke-width="20" filter="url(#b7)" opacity="0.7"/>
<ellipse cx="485" cy="430" rx="16" ry="10" fill="#4f9a18" opacity="0.7" filter="url(#b4)"/>
<ellipse cx="480" cy="350" rx="25" ry="40" fill="#26500a" opacity="0.45" filter="url(#b7)"/>
<rect x="383.80" y="198.60" width="116.20" height="263.60" fill="#000" filter="url(#gnoiseL)"/>
<rect x="383.80" y="198.60" width="116.20" height="263.60" fill="#000" filter="url(#gnoiseD)"/>
<g mask="url(#memask)"><rect x="383.80" y="385.00" width="96.20" height="75.00" fill="#000" filter="url(#gnoiseME)"/>
</g>
<path d="M380.0,450.5 C383.3,450.8 392.5,451.2 400.0,452.0 C407.5,452.8 418.3,454.8 425.0,455.0 C431.7,455.2 434.5,454.1 440.0,453.0 C445.5,451.9 451.2,450.6 457.9,448.4 C464.6,446.2 472.5,442.7 480.0,440.0 C487.5,437.3 499.2,427.7 503.0,432.0 C506.8,436.3 523.5,460.3 503.0,466.0 C482.5,471.7 400.5,466.0 380.0,466.0" fill="#091504" filter="url(#b05)"/>
<path d="M455.0,447.0 C457.5,446.8 465.0,446.8 470.0,446.0 C475.0,445.2 480.0,443.4 485.0,442.0 C490.0,440.6 497.5,438.2 500.0,437.5" fill="none" stroke="#3f7d12" stroke-width="2.2" filter="url(#b1)" opacity="0.8"/>
<path d="M464.4,406.6 C466.6,407.0 470.6,409.5 473.2,413.2 C475.8,416.9 479.8,423.8 479.8,428.6 C479.8,433.4 476.1,440.0 473.2,441.8 C470.3,443.6 464.8,442.5 462.2,439.6 C459.6,436.7 458.3,429.0 457.9,424.2 C457.5,419.4 458.9,413.9 460.0,411.0 C461.1,408.1 462.2,406.2 464.4,406.6 Z" fill="#0e2205" filter="url(#b1)" opacity="0.92"/>
<path d="M370.0,180.0 C376.7,156.0 420.8,177.8 427.5,180.0 C434.2,182.2 427.3,194.5 427.5,198.6 C427.7,202.7 428.7,211.5 429.0,215.0 C429.3,218.5 430.0,225.5 430.4,229.0 C430.8,232.5 432.1,241.7 432.5,245.0 C432.9,248.3 433.8,254.0 433.7,257.5 C433.6,261.0 432.5,271.2 432.0,275.0 C431.5,278.8 430.0,286.9 429.3,290.4 C428.6,293.9 426.8,301.4 426.0,305.0 C425.2,308.6 423.4,317.3 422.7,321.2 C422.0,325.1 420.4,335.9 420.0,338.7 C419.6,341.5 419.8,343.4 419.4,345.1 C419.0,346.8 417.5,351.2 417.0,353.0 C416.5,354.8 415.2,357.3 415.0,360.5 C414.8,363.7 415.2,377.4 415.0,380.3 C414.8,383.2 414.0,384.1 413.5,385.0 C413.0,385.9 412.2,387.8 410.6,388.0 C409.0,388.2 403.5,387.3 400.0,387.0 C396.5,386.7 384.5,385.8 381.0,385.6 C377.5,385.4 371.3,409.5 370.0,385.5 C368.7,361.5 363.3,204.0 370.0,180.0 Z" fill="#030902" filter="url(#b05)"/>
<path d="M430.8,225.0 C431.2,228.3 432.4,239.5 433.0,245.0 C433.6,250.5 434.3,253.0 434.2,258.0 C434.1,263.0 433.2,269.7 432.5,275.0 C431.8,280.3 431.0,285.0 430.0,290.0 C429.0,295.0 427.6,299.8 426.5,305.0 C425.4,310.2 424.1,315.5 423.2,321.0 C422.2,326.5 421.4,333.5 420.8,338.0 C420.2,342.5 420.0,346.3 419.8,348.0" fill="none" stroke="#62c418" stroke-width="4.5" filter="url(#b1)" opacity="0.8" stroke-linecap="round"/>
<path d="M433.5,250.0 C433.6,251.7 434.5,255.8 434.4,260.0 C434.3,264.2 433.5,270.0 432.8,275.0 C432.1,280.0 431.2,285.0 430.2,290.0 C429.2,295.0 428.1,299.8 427.0,305.0 C425.9,310.2 424.5,315.8 423.6,321.0 C422.7,326.2 421.9,333.5 421.5,336.0" fill="none" stroke="#a8f63a" stroke-width="3.0" filter="url(#rough)" opacity="0.95" stroke-linecap="round" stroke-dasharray="6 0.6 4 0.5 9 0.8"/>
<path d="M419.5,348.0 C418.9,350.0 416.6,354.7 416.0,360.0 C415.4,365.3 416.7,375.2 416.0,380.0 C415.3,384.8 412.7,387.5 412.0,389.0" fill="none" stroke="#5fb81a" stroke-width="2.5" filter="url(#b1)" opacity="0.6"/>
<path d="M383.0,387.0 C385.8,387.2 395.3,388.1 400.0,388.5 C404.7,388.9 409.2,389.3 411.0,389.5" fill="none" stroke="#6fd61c" stroke-width="3" filter="url(#b1)" opacity="0.7"/>
<path d="M451.7,200.0 C450.5,202.0 446.4,207.9 444.5,212.0 C442.6,216.1 441.2,220.2 440.3,224.5 C439.4,228.8 439.4,233.6 439.3,238.0 C439.2,242.4 439.4,246.6 439.8,250.9 C440.2,255.2 440.7,260.0 441.5,264.0 C442.3,268.0 443.3,272.1 444.7,275.0 C446.1,277.9 447.8,279.8 450.0,281.5 C452.2,283.2 454.2,283.9 457.9,285.0 C461.6,286.1 466.9,287.1 472.0,288.0 C477.1,288.9 484.7,290.1 488.6,290.4 C492.5,290.7 494.4,290.1 495.6,290.0" fill="none" stroke="#f2f2f2" stroke-width="0.8"/>
<path d="M495.6,300.3 C493.3,299.9 486.5,298.6 482.0,298.0 C477.5,297.4 473.1,297.2 468.8,297.0 C464.5,296.8 459.3,296.4 456.0,296.5 C452.7,296.6 450.9,296.8 449.0,297.7 C447.1,298.6 445.8,300.3 444.5,302.0 C443.2,303.7 442.6,304.7 441.4,308.0 C440.2,311.3 438.6,316.9 437.5,322.0 C436.4,327.1 435.6,334.4 434.8,338.7 C434.0,343.0 433.1,345.4 432.5,348.0 C431.9,350.6 431.7,351.0 431.5,354.0 C431.3,357.0 430.9,361.6 431.3,366.0 C431.7,370.4 432.6,376.6 433.7,380.3 C434.8,384.1 436.2,386.3 438.0,388.5 C439.8,390.7 442.0,392.2 444.7,393.5 C447.4,394.8 450.7,395.3 454.0,396.0 C457.3,396.7 461.5,396.7 464.4,397.9 C467.3,399.1 469.3,400.8 471.5,403.0 C473.7,405.2 475.4,409.1 477.6,411.0 C479.9,412.9 482.1,413.6 485.0,414.5 C487.9,415.4 493.5,416.2 495.2,416.5" fill="none" stroke="#f2f2f2" stroke-width="0.8"/>
<line x1="407.10" y1="229.00" x2="407.10" y2="384.70" stroke="#e6e6e6" stroke-width="1.2" />
<rect x="456.30" y="451.70" width="40.00" height="3.70" fill="#fff"/>
<line x1="427.50" y1="408.40" x2="422.20" y2="413.20" stroke="#fff" stroke-width="1.1" />
<path d="M421.0,414.3 L422.3,410.8 L424.6,413.3 Z" fill="#fff"/>
<line x1="435.50" y1="416.50" x2="430.10" y2="421.60" stroke="#fff" stroke-width="1.1" />
<path d="M428.9,422.7 L430.1,419.2 L432.5,421.7 Z" fill="#fff"/>
<line x1="418.80" y1="431.90" x2="414.00" y2="436.90" stroke="#fff" stroke-width="1.1" />
<path d="M412.8,438.0 L413.9,434.5 L416.3,436.8 Z" fill="#fff"/>
<text x="388.00" y="209.30" font-size="9.5" fill="#fff" font-weight="bold" textLength="53.80" lengthAdjust="spacingAndGlyphs">24h-Fasting</text>
<text x="387.80" y="221.40" font-size="9.3" fill="#3be11f" font-weight="bold" textLength="24.60" lengthAdjust="spacingAndGlyphs">FASN</text>
<text x="463.30" y="238.80" font-size="9.3" fill="#fff" font-weight="bold" textLength="21.00" lengthAdjust="spacingAndGlyphs">DMH</text>
<text x="467.70" y="361.00" font-size="9.3" fill="#fff" font-weight="bold" textLength="20.30" lengthAdjust="spacingAndGlyphs">ARH</text>
</g>
</g>
<g id="panel-d">
<text x="509.30" y="209.90" font-size="15.3" fill="#000" font-weight="bold">d</text>
<rect x="533.20" y="229.50" width="12.00" height="5.90" fill="#fff" stroke="#000" stroke-width="0.8"/>
<text x="551.80" y="235.60" font-size="9.0" fill="#111" textLength="110.80" lengthAdjust="spacingAndGlyphs">No staining (ventral+dorsal)</text>
<rect x="533.20" y="242.50" width="12.00" height="5.60" fill="url(#chk)" stroke="#000" stroke-width="0.8"/>
<text x="551.80" y="248.50" font-size="9.0" fill="#111" textLength="56.60" lengthAdjust="spacingAndGlyphs">FASN staining</text>
<rect x="555.40" y="298.20" width="36.40" height="137.90" fill="#fff" stroke="#000" stroke-width="0.9"/>
<rect x="555.40" y="369.91" width="36.40" height="41.37" fill="url(#chk)" stroke="#000" stroke-width="0.9"/>
<rect x="608.60" y="298.20" width="36.40" height="137.90" fill="#fff" stroke="#000" stroke-width="0.9"/>
<rect x="608.60" y="374.05" width="36.40" height="48.26" fill="url(#chk)" stroke="#000" stroke-width="0.9"/>
<line x1="591.80" y1="369.91" x2="608.60" y2="374.05" stroke="#000" stroke-width="0.6" />
<line x1="591.80" y1="411.28" x2="608.60" y2="422.31" stroke="#000" stroke-width="0.6" />
<line x1="547.30" y1="270.22" x2="547.30" y2="436.60" stroke="#000" stroke-width="1.0" />
<line x1="546.80" y1="436.10" x2="653.40" y2="436.10" stroke="#000" stroke-width="1.0" />
<line x1="544.70" y1="436.10" x2="547.30" y2="436.10" stroke="#000" stroke-width="0.9" />
<text x="543.70" y="438.70" font-size="7.6" fill="#111" font-weight="bold" text-anchor="end" textLength="10.30" lengthAdjust="spacingAndGlyphs">0.0</text>
<line x1="544.70" y1="408.52" x2="547.30" y2="408.52" stroke="#000" stroke-width="0.9" />
<text x="543.70" y="411.12" font-size="7.6" fill="#111" font-weight="bold" text-anchor="end" textLength="10.30" lengthAdjust="spacingAndGlyphs">0.2</text>
<line x1="544.70" y1="380.94" x2="547.30" y2="380.94" stroke="#000" stroke-width="0.9" />
<text x="543.70" y="383.54" font-size="7.6" fill="#111" font-weight="bold" text-anchor="end" textLength="10.30" lengthAdjust="spacingAndGlyphs">0.4</text>
<line x1="544.70" y1="353.36" x2="547.30" y2="353.36" stroke="#000" stroke-width="0.9" />
<text x="543.70" y="355.96" font-size="7.6" fill="#111" font-weight="bold" text-anchor="end" textLength="10.30" lengthAdjust="spacingAndGlyphs">0.6</text>
<line x1="544.70" y1="325.78" x2="547.30" y2="325.78" stroke="#000" stroke-width="0.9" />
<text x="543.70" y="328.38" font-size="7.6" fill="#111" font-weight="bold" text-anchor="end" textLength="10.30" lengthAdjust="spacingAndGlyphs">0.8</text>
<line x1="544.70" y1="298.20" x2="547.30" y2="298.20" stroke="#000" stroke-width="0.9" />
<text x="543.70" y="300.80" font-size="7.6" fill="#111" font-weight="bold" text-anchor="end" textLength="10.30" lengthAdjust="spacingAndGlyphs">1.0</text>
<line x1="544.70" y1="270.62" x2="547.30" y2="270.62" stroke="#000" stroke-width="0.9" />
<text x="543.70" y="273.22" font-size="7.6" fill="#111" font-weight="bold" text-anchor="end" textLength="10.30" lengthAdjust="spacingAndGlyphs">1.2</text>
<line x1="573.60" y1="298.40" x2="573.60" y2="297.00" stroke="#000" stroke-width="0.9" />
<line x1="564.80" y1="297.00" x2="582.40" y2="297.00" stroke="#000" stroke-width="0.9" />
<line x1="626.80" y1="298.40" x2="626.80" y2="295.50" stroke="#000" stroke-width="0.9" />
<line x1="618.00" y1="295.50" x2="635.60" y2="295.50" stroke="#000" stroke-width="0.9" />
<line x1="573.60" y1="370.20" x2="573.60" y2="368.60" stroke="#000" stroke-width="0.9" />
<line x1="564.80" y1="368.60" x2="582.40" y2="368.60" stroke="#000" stroke-width="0.9" />
<line x1="626.80" y1="374.00" x2="626.80" y2="372.40" stroke="#000" stroke-width="0.9" />
<line x1="618.00" y1="372.40" x2="635.60" y2="372.40" stroke="#000" stroke-width="0.9" />
<line x1="573.60" y1="411.30" x2="573.60" y2="409.10" stroke="#000" stroke-width="0.9" />
<line x1="564.80" y1="409.10" x2="582.40" y2="409.10" stroke="#000" stroke-width="0.9" />
<line x1="626.80" y1="422.10" x2="626.80" y2="420.20" stroke="#000" stroke-width="0.9" />
<line x1="618.00" y1="420.20" x2="635.60" y2="420.20" stroke="#000" stroke-width="0.9" />
<text x="599.90" y="338.60" font-size="8.6" fill="#111" font-weight="bold" text-anchor="middle">ns</text>
<text x="599.90" y="395.30" font-size="8.6" fill="#111" font-weight="bold" text-anchor="middle">ns</text>
<text x="599.90" y="431.00" font-size="7.0" fill="#111" font-weight="bold" text-anchor="middle">**</text>
<text x="573.50" y="447.60" font-size="7.8" fill="#111" font-weight="bold" text-anchor="middle">Fed</text>
<text x="608.60" y="447.60" font-size="7.8" fill="#111" font-weight="bold" textLength="44.00" lengthAdjust="spacingAndGlyphs">24h-Fasting</text>
<text x="657.40" y="447.60" font-size="7.8" fill="#df6a2b" font-weight="bold" textLength="25.60" lengthAdjust="spacingAndGlyphs">B2 Tan</text>
<text x="517.20" y="353.20" font-size="9.1" fill="#111" font-weight="bold" text-anchor="middle" textLength="116.40" lengthAdjust="spacingAndGlyphs" transform="rotate(-90 517.20 353.20)">Normalized staining lenght</text>
<text x="526.70" y="353.20" font-size="9.1" fill="#111" font-weight="bold" text-anchor="middle" textLength="144.40" lengthAdjust="spacingAndGlyphs" transform="rotate(-90 526.70 353.20)">along the ventrodorsal axis (A.U.)</text>
<text x="659.30" y="294.20" font-size="8.0" fill="#4f93cf" font-weight="bold" textLength="19.50" lengthAdjust="spacingAndGlyphs">Epen</text>
<line x1="666.60" y1="436.10" x2="666.60" y2="302.50" stroke="#000" stroke-width="1.0" />
<path d="M666.6,299.0 L664.8,303.4 L668.4,303.4 Z" fill="#000"/>
<text x="675.50" y="364.60" font-size="8.2" fill="#111" font-weight="bold" text-anchor="middle" textLength="113.60" lengthAdjust="spacingAndGlyphs" transform="rotate(-90 675.50 364.60)">Ventrodorsal anatomical axis</text>
</g>
<g id="panel-e">
<text x="1.60" y="310.50" font-size="15.3" fill="#000" font-weight="bold">e</text>
<g clip-path="url(#clipe1)">
<rect x="12.60" y="298.00" width="113.60" height="406.50" fill="#2e0403"/>
<ellipse cx="98" cy="360" rx="36" ry="95" fill="#4c0705" opacity="0.85" filter="url(#b7)"/>
<path d="M70.0,400.0 C69.3,406.7 69.0,425.0 66.0,440.0 C63.0,455.0 56.3,475.0 52.0,490.0 C47.7,505.0 42.3,516.7 40.0,530.0 C37.7,543.3 36.3,556.7 38.0,570.0 C39.7,583.3 48.0,603.3 50.0,610.0" fill="none" stroke="#420705" stroke-width="16" filter="url(#b7)" opacity="0.6"/>
<ellipse cx="50" cy="688" rx="48" ry="30" fill="#170202" opacity="0.7" filter="url(#b7)"/>
<ellipse cx="90" cy="590" rx="50" ry="80" fill="#1f0302" opacity="0.35" filter="url(#b7)"/>
<rect x="12.60" y="298.00" width="113.60" height="406.50" fill="#000" filter="url(#rnoiseL)"/>
<rect x="12.60" y="298.00" width="113.60" height="406.50" fill="#000" filter="url(#rnoiseD)"/>
<path d="M130.0,646.0 C126.7,648.3 117.5,654.3 110.0,660.0 C102.5,665.7 91.4,674.2 84.7,680.0 C78.0,685.8 74.5,690.3 70.0,695.0 C65.5,699.7 48.0,705.8 58.0,708.0 C68.0,710.2 118.0,708.0 130.0,708.0" fill="#040000" filter="url(#b2)"/>
<ellipse cx="20" cy="690" rx="10" ry="20" fill="#200302" opacity="0.5" filter="url(#b4)"/>
<path d="M0.0,280.0 C6.6,236.8 49.8,277.9 56.4,280.0 C63.0,282.1 55.9,294.5 56.4,298.0 C56.9,301.5 60.0,307.1 61.0,310.0 C62.0,312.9 64.1,319.5 65.0,323.2 C65.9,326.9 67.7,337.5 68.5,342.0 C69.3,346.5 71.2,356.6 71.7,361.5 C72.2,366.4 72.8,379.9 72.6,384.4 C72.4,388.9 70.3,395.7 69.8,399.7 C69.3,403.7 68.1,415.4 67.9,418.8 C67.7,422.2 68.5,425.6 67.9,429.0 C67.3,432.4 64.2,443.5 63.0,448.0 C61.8,452.5 58.9,463.1 57.4,467.4 C55.9,471.7 52.1,481.0 50.5,485.0 C48.9,489.0 45.4,497.2 44.0,501.8 C42.6,506.4 39.3,519.8 38.2,524.7 C37.1,529.6 34.9,540.3 34.4,543.8 C33.9,547.3 33.8,551.8 34.0,555.0 C34.2,558.2 35.5,567.9 36.3,571.3 C37.1,574.7 39.9,581.2 41.0,584.0 C42.1,586.8 45.1,592.5 46.0,595.5 C46.9,598.5 48.1,606.3 48.4,610.0 C48.7,613.7 49.0,623.7 48.4,627.0 C47.8,630.3 44.4,635.7 43.0,638.0 C41.6,640.3 38.2,643.7 36.3,646.4 C34.4,649.1 28.7,659.8 26.6,660.9 C24.5,662.0 20.1,657.2 18.2,656.0 C16.3,654.8 12.1,651.2 10.0,650.5 C7.9,649.8 1.2,693.2 0.0,650.0 C-1.2,606.8 -6.6,323.2 0.0,280.0 Z" fill="#020000" filter="url(#b1)"/>
<path d="M66.0,330.0 C67.0,335.2 70.6,352.4 71.7,361.5 C72.8,370.6 73.1,378.0 72.8,384.4 C72.5,390.8 70.8,392.9 70.0,399.7 C69.2,406.5 69.4,416.9 68.2,425.0 C67.0,433.1 64.8,440.9 63.0,448.0 C61.2,455.1 59.6,461.2 57.6,467.4 C55.6,473.6 52.9,479.3 50.7,485.0 C48.5,490.7 46.3,495.2 44.3,501.8 C42.3,508.4 39.5,520.9 38.5,524.7" fill="none" stroke="#7a140b" stroke-width="3.0" filter="url(#b1)" opacity="0.75"/>
<path d="M79.3,308.0 C79.3,309.7 79.4,314.8 79.6,318.0 C79.8,321.2 79.7,324.2 80.3,327.0 C80.9,329.8 82.2,332.4 83.0,335.0 C83.8,337.6 84.7,339.2 85.1,342.4 C85.5,345.6 85.6,350.2 85.6,354.0 C85.6,357.8 85.4,362.0 85.1,365.3 C84.8,368.6 83.8,371.4 83.5,374.0 C83.2,376.6 83.2,377.6 83.2,380.6 C83.2,383.6 83.3,388.2 83.5,392.0 C83.7,395.8 83.8,400.2 84.1,403.5 C84.4,406.8 84.9,409.4 85.2,412.0 C85.5,414.6 85.7,416.9 86.0,418.8 C86.3,420.7 86.0,421.5 87.0,423.4 C88.0,425.3 89.6,427.4 92.0,430.0 C94.4,432.6 98.1,435.5 101.3,438.7 C104.5,441.9 107.8,445.5 111.0,449.0 C114.2,452.5 118.8,457.9 120.4,459.7" fill="none" stroke="#d8d8d8" stroke-width="0.65"/>
<path d="M120.4,494.1 C118.3,491.9 112.1,485.4 108.0,481.0 C103.9,476.6 98.8,470.6 95.6,467.4 C92.4,464.1 90.9,462.9 89.0,461.5 C87.1,460.1 85.6,459.3 84.1,458.7 C82.6,458.1 81.3,457.7 80.0,457.6 C78.7,457.5 77.6,457.6 76.5,458.2 C75.4,458.8 74.2,459.8 73.5,461.0 C72.8,462.2 72.5,463.9 72.3,465.4 C72.0,466.9 72.1,468.4 72.0,470.0 C71.9,471.6 72.4,472.8 71.7,475.0 C71.0,477.2 69.4,480.4 68.0,483.0 C66.6,485.6 64.4,487.5 63.1,490.3 C61.8,493.1 60.8,496.8 60.0,500.0 C59.2,503.2 59.0,506.6 58.3,509.4 C57.5,512.2 56.5,514.5 55.5,517.0 C54.5,519.5 53.5,521.7 52.6,524.7 C51.7,527.7 50.8,531.6 50.3,535.0 C49.8,538.4 49.5,541.0 49.6,545.0 C49.7,549.0 50.1,553.4 50.8,559.2 C51.5,565.0 52.8,572.7 54.0,580.0 C55.2,587.3 56.9,596.5 58.1,602.8 C59.3,609.1 60.0,613.2 61.0,618.0 C62.0,622.8 62.8,628.2 64.1,631.8 C65.4,635.4 66.8,637.8 69.0,639.5 C71.2,641.2 75.4,642.0 77.5,642.2 C79.6,642.4 80.3,641.4 81.5,640.5 C82.7,639.6 83.5,638.5 84.7,636.7 C85.9,635.0 87.1,632.0 88.5,630.0 C89.9,628.0 91.6,626.0 93.2,624.6 C94.8,623.2 96.2,622.1 98.0,621.5 C99.8,620.9 102.3,620.7 104.1,620.9 C105.9,621.1 107.4,621.7 109.0,622.5 C110.6,623.3 112.4,624.5 113.8,625.8 C115.2,627.0 116.4,628.4 117.5,630.0 C118.6,631.6 120.1,634.6 120.6,635.5" fill="none" stroke="#d8d8d8" stroke-width="0.65"/>
<line x1="29.80" y1="334.10" x2="29.80" y2="539.00" stroke="#dcdcdc" stroke-width="1.2" />
<rect x="75.00" y="692.70" width="40.00" height="2.20" fill="#fff"/>
<text x="16.80" y="310.00" font-size="9.5" fill="#fff" font-weight="bold" textLength="16.70" lengthAdjust="spacingAndGlyphs">Fed</text>
<text x="16.80" y="323.10" font-size="9.5" fill="#f0251a" font-weight="bold" textLength="67.90" lengthAdjust="spacingAndGlyphs">Filipin staining</text>
<text x="96.50" y="384.20" font-size="9.3" fill="#fff" font-weight="bold" textLength="21.50" lengthAdjust="spacingAndGlyphs">DMH</text>
<text x="84.70" y="589.10" font-size="9.3" fill="#fff" font-weight="bold" textLength="20.60" lengthAdjust="spacingAndGlyphs">ARH</text>
<text x="19.40" y="629.10" font-size="9.3" fill="#fff" font-weight="bold" textLength="12.10" lengthAdjust="spacingAndGlyphs">3V</text>
<text x="33.20" y="682.80" font-size="9.3" fill="#fff" font-weight="bold" textLength="13.50" lengthAdjust="spacingAndGlyphs">ME</text>
</g>
<g clip-path="url(#clipe2)">
<rect x="128.30" y="298.00" width="112.70" height="406.00" fill="#2e0403"/>
<ellipse cx="220" cy="370" rx="28" ry="95" fill="#4c0705" opacity="0.85" filter="url(#b7)"/>
<path d="M200.0,400.0 C199.3,406.7 199.0,425.0 196.0,440.0 C193.0,455.0 186.3,475.0 182.0,490.0 C177.7,505.0 172.3,516.7 170.0,530.0 C167.7,543.3 167.7,556.7 168.0,570.0 C168.3,583.3 171.3,603.3 172.0,610.0" fill="none" stroke="#420705" stroke-width="14" filter="url(#b7)" opacity="0.6"/>
<path d="M125.0,640.0 C128.3,641.0 138.3,644.0 145.0,646.0 C151.7,648.0 157.5,651.3 165.0,652.0 C172.5,652.7 181.7,650.7 190.0,650.0 C198.3,649.3 208.7,647.2 215.0,648.0 C221.3,648.8 225.8,648.8 228.0,655.0 C230.2,661.2 231.0,677.5 228.0,685.0 C225.0,692.5 214.7,696.2 210.0,700.0 C205.3,703.8 214.2,706.7 200.0,708.0 C185.8,709.3 137.5,708.0 125.0,708.0" fill="#7c160c" filter="url(#b4)" opacity="0.9"/>
<path d="M205.0,690.0 C207.2,688.0 214.7,682.3 218.0,678.0 C221.3,673.7 223.7,667.8 225.0,664.0 C226.3,660.2 225.8,656.5 226.0,655.0" fill="none" stroke="#c8301a" stroke-width="5" filter="url(#b2)" opacity="0.8"/>
<path d="M128.0,642.0 C130.8,643.2 139.7,646.8 145.0,649.0 C150.3,651.2 157.5,654.0 160.0,655.0" fill="none" stroke="#a8220f" stroke-width="5" filter="url(#b2)" opacity="0.7"/>
<ellipse cx="172" cy="703" rx="52" ry="16" fill="#c42c17" opacity="0.6" filter="url(#b4)"/>
<rect x="128.30" y="298.00" width="112.70" height="406.00" fill="#000" filter="url(#rnoiseL)"/>
<rect x="128.30" y="298.00" width="112.70" height="406.00" fill="#000" filter="url(#rnoiseD)"/>
<path d="M244.0,649.0 C241.1,650.6 229.5,655.3 226.5,658.5 C223.5,661.7 226.4,664.4 226.0,668.0 C225.6,671.6 225.9,676.4 224.1,680.2 C222.3,684.0 218.2,687.8 215.0,691.0 C211.8,694.2 207.5,696.8 204.7,699.6 C201.9,702.4 191.4,706.6 198.0,708.0 C204.6,709.4 236.3,708.0 244.0,708.0" fill="#040000" filter="url(#b1)"/>
<path d="M116.0,280.0 C125.1,239.4 184.5,277.9 193.6,280.0 C202.7,282.1 193.4,293.3 193.6,298.0 C193.8,302.7 195.2,314.8 195.5,320.0 C195.8,325.2 196.5,335.3 196.5,342.4 C196.5,349.5 195.5,371.7 195.5,380.6 C195.5,389.5 196.6,413.1 196.5,418.8 C196.4,424.5 195.2,426.0 194.6,429.1 C194.0,432.2 191.9,441.7 191.0,445.0 C190.1,448.3 188.5,452.5 186.9,457.8 C185.3,463.1 179.6,482.9 177.4,490.3 C175.2,497.7 169.3,515.7 167.8,520.9 C166.3,526.1 165.6,530.5 164.8,535.0 C164.0,539.5 161.5,554.0 161.2,559.2 C160.9,564.5 162.2,575.8 162.5,580.0 C162.8,584.2 163.2,590.0 163.6,595.5 C164.0,601.0 166.3,621.1 166.0,627.0 C165.7,632.9 163.7,645.3 161.2,646.4 C158.7,647.5 148.3,638.8 144.2,636.7 C140.1,634.6 129.3,629.4 126.0,628.4 C122.7,627.4 117.2,668.6 116.0,628.0 C114.8,587.4 106.9,320.6 116.0,280.0 Z" fill="#020000" filter="url(#b1)"/>
<path d="M196.8,418.8 C196.5,420.5 195.8,424.7 194.9,429.1 C194.0,433.5 192.6,440.2 191.3,445.0 C190.0,449.8 189.5,450.2 187.2,457.8 C184.9,465.4 180.9,479.8 177.7,490.3 C174.5,500.8 170.2,513.4 168.1,520.9 C166.0,528.4 165.6,532.6 165.1,535.0" fill="none" stroke="#7a140b" stroke-width="3.0" filter="url(#b1)" opacity="0.75"/>
<path d="M209.8,308.0 C209.8,310.8 209.8,319.6 209.8,325.0 C209.8,330.4 210.1,336.6 209.8,340.4 C209.5,344.2 208.2,344.4 207.9,348.0 C207.7,351.6 208.1,357.2 208.3,362.0 C208.5,366.8 208.6,370.5 208.9,376.8 C209.2,383.1 209.9,394.2 210.2,399.7 C210.5,405.2 210.5,406.8 210.8,410.0 C211.1,413.2 211.3,415.0 211.8,418.8 C212.3,422.6 213.0,429.2 213.7,432.9 C214.4,436.6 215.1,438.4 216.0,441.0 C216.9,443.6 218.2,446.3 219.4,448.2 C220.6,450.1 221.7,451.2 223.0,452.5 C224.3,453.8 225.8,455.0 227.1,455.9 C228.4,456.8 229.6,457.4 231.0,458.0 C232.4,458.6 234.9,459.1 235.7,459.3" fill="none" stroke="#d8d8d8" stroke-width="0.65"/>
<path d="M235.7,475.6 C234.4,474.5 230.4,471.0 228.0,469.0 C225.6,467.0 223.5,465.1 221.3,463.5 C219.1,461.9 216.9,460.6 215.0,459.5 C213.1,458.4 211.2,457.4 209.8,456.8 C208.4,456.2 207.4,456.2 206.5,456.2 C205.6,456.1 205.0,456.1 204.1,456.5 C203.2,456.9 202.1,457.6 201.3,458.5 C200.5,459.4 199.9,459.9 199.3,461.6 C198.7,463.4 198.0,466.4 197.5,469.0 C197.0,471.6 197.1,473.9 196.5,476.9 C195.9,479.9 195.0,483.8 194.0,487.0 C193.0,490.2 191.9,493.2 190.7,496.0 C189.5,498.8 188.1,501.4 187.0,504.0 C185.9,506.6 184.9,508.5 184.0,511.3 C183.1,514.1 182.3,517.5 181.5,521.0 C180.7,524.5 180.1,529.0 179.3,532.3 C178.6,535.6 177.7,538.0 177.0,541.0 C176.3,544.0 175.7,547.0 175.0,550.0 C174.3,553.0 173.2,555.7 172.8,559.2 C172.4,562.7 172.3,567.0 172.3,571.0 C172.3,575.0 172.4,578.9 172.8,583.4 C173.2,587.9 174.1,593.1 175.0,598.0 C175.9,602.9 176.9,608.3 178.1,612.5 C179.3,616.7 180.6,619.8 182.0,623.0 C183.4,626.2 185.4,629.9 186.6,631.8 C187.8,633.7 188.2,633.8 189.0,634.3 C189.8,634.8 190.3,635.2 191.4,635.0 C192.5,634.8 194.1,634.1 195.5,633.2 C196.9,632.3 198.3,631.0 199.9,629.4 C201.5,627.8 203.4,625.2 205.0,623.5 C206.6,621.8 208.3,620.0 209.6,619.2 C210.9,618.4 211.8,618.5 213.0,618.8 C214.2,619.1 215.4,619.7 216.8,620.9 C218.2,622.1 219.9,624.2 221.5,626.0 C223.1,627.8 224.9,630.2 226.5,631.8 C228.1,633.4 229.6,634.5 231.0,635.5 C232.4,636.5 234.3,637.5 235.0,637.9" fill="none" stroke="#d8d8d8" stroke-width="0.65"/>
<line x1="150.10" y1="403.00" x2="150.10" y2="586.30" stroke="#dcdcdc" stroke-width="1.2" />
<rect x="197.00" y="692.70" width="40.90" height="2.20" fill="#fff"/>
<text x="131.90" y="310.40" font-size="9.5" fill="#fff" font-weight="bold" textLength="53.70" lengthAdjust="spacingAndGlyphs">24h-Fasting</text>
<text x="131.90" y="324.20" font-size="9.5" fill="#f0251a" font-weight="bold" textLength="68.00" lengthAdjust="spacingAndGlyphs">Filipin staining</text>
<text x="216.90" y="384.20" font-size="9.3" fill="#fff" font-weight="bold" textLength="21.20" lengthAdjust="spacingAndGlyphs">DMH</text>
<text x="207.60" y="589.10" font-size="9.3" fill="#fff" font-weight="bold" textLength="20.10" lengthAdjust="spacingAndGlyphs">ARH</text>
<text x="168.40" y="693.80" font-size="13.5" fill="#fff" font-weight="bold" text-anchor="middle">*</text>
</g>
</g>
<g id="panel-f">
<text x="250.80" y="494.20" font-size="15.3" fill="#000" font-weight="bold">f</text>
<rect x="289.50" y="490.90" width="10.60" height="5.00" fill="#fff" stroke="#000" stroke-width="0.8"/>
<text x="303.70" y="496.40" font-size="8.2" fill="#111" textLength="101.00" lengthAdjust="spacingAndGlyphs">No staining (ventral+dorsal)</text>
<rect x="289.50" y="502.50" width="10.60" height="4.80" fill="url(#chk2)" stroke="#000" stroke-width="0.8"/>
<text x="303.70" y="507.70" font-size="8.2" fill="#111" textLength="89.50" lengthAdjust="spacingAndGlyphs">Free cholesterol staining</text>
<rect x="308.40" y="550.70" width="36.10" height="133.90" fill="#fff" stroke="#000" stroke-width="0.9"/>
<rect x="308.40" y="575.47" width="36.10" height="74.72" fill="url(#chk2)" stroke="#000" stroke-width="0.9"/>
<rect x="362.40" y="550.70" width="36.10" height="133.90" fill="#fff" stroke="#000" stroke-width="0.9"/>
<rect x="362.40" y="602.92" width="36.10" height="70.03" fill="url(#chk2)" stroke="#000" stroke-width="0.9"/>
<line x1="344.50" y1="575.47" x2="362.40" y2="602.92" stroke="#000" stroke-width="0.6" />
<line x1="344.50" y1="650.19" x2="362.40" y2="672.95" stroke="#000" stroke-width="0.6" />
<line x1="299.60" y1="523.52" x2="299.60" y2="685.10" stroke="#000" stroke-width="1.0" />
<line x1="299.10" y1="684.60" x2="407.90" y2="684.60" stroke="#000" stroke-width="1.0" />
<line x1="297.00" y1="684.60" x2="299.60" y2="684.60" stroke="#000" stroke-width="0.9" />
<text x="296.00" y="687.20" font-size="7.4" fill="#111" font-weight="bold" text-anchor="end" textLength="10.00" lengthAdjust="spacingAndGlyphs">0.0</text>
<line x1="297.00" y1="657.82" x2="299.60" y2="657.82" stroke="#000" stroke-width="0.9" />
<text x="296.00" y="660.42" font-size="7.4" fill="#111" font-weight="bold" text-anchor="end" textLength="10.00" lengthAdjust="spacingAndGlyphs">0.2</text>
<line x1="297.00" y1="631.04" x2="299.60" y2="631.04" stroke="#000" stroke-width="0.9" />
<text x="296.00" y="633.64" font-size="7.4" fill="#111" font-weight="bold" text-anchor="end" textLength="10.00" lengthAdjust="spacingAndGlyphs">0.4</text>
<line x1="297.00" y1="604.26" x2="299.60" y2="604.26" stroke="#000" stroke-width="0.9" />
<text x="296.00" y="606.86" font-size="7.4" fill="#111" font-weight="bold" text-anchor="end" textLength="10.00" lengthAdjust="spacingAndGlyphs">0.6</text>
<line x1="297.00" y1="577.48" x2="299.60" y2="577.48" stroke="#000" stroke-width="0.9" />
<text x="296.00" y="580.08" font-size="7.4" fill="#111" font-weight="bold" text-anchor="end" textLength="10.00" lengthAdjust="spacingAndGlyphs">0.8</text>
<line x1="297.00" y1="550.70" x2="299.60" y2="550.70" stroke="#000" stroke-width="0.9" />
<text x="296.00" y="553.30" font-size="7.4" fill="#111" font-weight="bold" text-anchor="end" textLength="10.00" lengthAdjust="spacingAndGlyphs">1.0</text>
<line x1="297.00" y1="523.92" x2="299.60" y2="523.92" stroke="#000" stroke-width="0.9" />
<text x="296.00" y="526.52" font-size="7.4" fill="#111" font-weight="bold" text-anchor="end" textLength="10.00" lengthAdjust="spacingAndGlyphs">1.2</text>
<line x1="326.40" y1="550.70" x2="326.40" y2="546.30" stroke="#000" stroke-width="0.9" />
<line x1="317.00" y1="546.30" x2="335.80" y2="546.30" stroke="#000" stroke-width="0.9" />
<line x1="380.40" y1="550.70" x2="380.40" y2="544.10" stroke="#000" stroke-width="0.9" />
<line x1="371.00" y1="544.10" x2="389.80" y2="544.10" stroke="#000" stroke-width="0.9" />
<line x1="326.40" y1="575.30" x2="326.40" y2="570.40" stroke="#000" stroke-width="0.9" />
<line x1="317.00" y1="570.40" x2="335.80" y2="570.40" stroke="#000" stroke-width="0.9" />
<line x1="380.40" y1="602.30" x2="380.40" y2="595.70" stroke="#000" stroke-width="0.9" />
<line x1="371.00" y1="595.70" x2="389.80" y2="595.70" stroke="#000" stroke-width="0.9" />
<line x1="326.40" y1="650.00" x2="326.40" y2="645.30" stroke="#000" stroke-width="0.9" />
<line x1="317.00" y1="645.30" x2="335.80" y2="645.30" stroke="#000" stroke-width="0.9" />
<line x1="380.40" y1="673.00" x2="380.40" y2="670.40" stroke="#000" stroke-width="0.9" />
<line x1="371.00" y1="670.40" x2="389.80" y2="670.40" stroke="#000" stroke-width="0.9" />
<text x="353.60" y="567.60" font-size="7.0" fill="#111" font-weight="bold" text-anchor="middle">**</text>
<text x="353.60" y="626.40" font-size="8.6" fill="#111" font-weight="bold" text-anchor="middle">ns</text>
<text x="353.60" y="679.30" font-size="7.0" fill="#111" font-weight="bold" text-anchor="middle">*</text>
<text x="326.30" y="695.10" font-size="7.9" fill="#111" font-weight="bold" text-anchor="middle">Fed</text>
<text x="361.80" y="695.10" font-size="7.9" fill="#111" font-weight="bold" textLength="44.60" lengthAdjust="spacingAndGlyphs">24h-Fasting</text>
<text x="414.80" y="695.10" font-size="7.9" fill="#df6a2b" font-weight="bold" textLength="26.10" lengthAdjust="spacingAndGlyphs">B2 Tan</text>
<text x="269.10" y="604.50" font-size="8.8" fill="#111" font-weight="bold" text-anchor="middle" textLength="111.70" lengthAdjust="spacingAndGlyphs" transform="rotate(-90 269.10 604.50)">Normalized staining lenght</text>
<text x="280.10" y="604.20" font-size="8.8" fill="#111" font-weight="bold" text-anchor="middle" textLength="141.50" lengthAdjust="spacingAndGlyphs" transform="rotate(-90 280.10 604.20)">along the ventrodorsal axis (A.U.)</text>
<text x="414.80" y="541.20" font-size="7.9" fill="#4f93cf" font-weight="bold" textLength="19.20" lengthAdjust="spacingAndGlyphs">Epen</text>
<line x1="422.00" y1="684.60" x2="422.00" y2="551.00" stroke="#000" stroke-width="1.0" />
<path d="M422.0,547.5 L420.2,551.9 L423.8,551.9 Z" fill="#000"/>
<text x="431.80" y="613.20" font-size="8.1" fill="#111" font-weight="bold" text-anchor="middle" textLength="112.40" lengthAdjust="spacingAndGlyphs" transform="rotate(-90 431.80 613.20)">Ventrodorsal anatomical axis</text>
</g>
<g id="panel-g">
<text x="459.60" y="494.00" font-size="15.3" fill="#000" font-weight="bold">g</text>
<line x1="483.75" y1="500.50" x2="487.91" y2="500.50" stroke="#5f93f2" stroke-width="1.6" />
<line x1="490.68" y1="500.50" x2="495.68" y2="500.50" stroke="#5f93f2" stroke-width="1.6" />
<line x1="501.78" y1="500.50" x2="512.88" y2="500.50" stroke="#5f93f2" stroke-width="1.6" />
<line x1="515.65" y1="500.50" x2="520.64" y2="500.50" stroke="#5f93f2" stroke-width="1.6" />
<line x1="524.53" y1="500.50" x2="531.74" y2="500.50" stroke="#5f93f2" stroke-width="1.6" />
<line x1="534.24" y1="500.50" x2="538.40" y2="500.50" stroke="#5f93f2" stroke-width="1.6" />
<line x1="541.17" y1="500.50" x2="544.78" y2="500.50" stroke="#5f93f2" stroke-width="1.6" />
<line x1="546.72" y1="500.50" x2="549.49" y2="500.50" stroke="#5f93f2" stroke-width="1.6" />
<line x1="554.49" y1="500.50" x2="573.90" y2="500.50" stroke="#5f93f2" stroke-width="1.6" />
<line x1="579.45" y1="500.50" x2="581.11" y2="500.50" stroke="#5f93f2" stroke-width="1.6" />
<line x1="582.22" y1="500.50" x2="587.77" y2="500.50" stroke="#5f93f2" stroke-width="1.6" />
<line x1="589.16" y1="500.50" x2="598.87" y2="500.50" stroke="#5f93f2" stroke-width="1.6" />
<line x1="601.09" y1="500.50" x2="609.96" y2="500.50" stroke="#5f93f2" stroke-width="1.6" />
<line x1="611.91" y1="500.50" x2="619.67" y2="500.50" stroke="#5f93f2" stroke-width="1.6" />
<line x1="621.06" y1="500.50" x2="626.61" y2="500.50" stroke="#5f93f2" stroke-width="1.6" />
<line x1="629.94" y1="500.50" x2="640.48" y2="500.50" stroke="#5f93f2" stroke-width="1.6" />
<line x1="642.70" y1="500.50" x2="646.58" y2="500.50" stroke="#5f93f2" stroke-width="1.6" />
<line x1="648.80" y1="500.50" x2="653.24" y2="500.50" stroke="#5f93f2" stroke-width="1.6" />
<line x1="483.75" y1="504.00" x2="487.91" y2="504.00" stroke="#ee6464" stroke-width="1.6" />
<line x1="489.30" y1="504.00" x2="501.78" y2="504.00" stroke="#ee6464" stroke-width="1.6" />
<line x1="504.55" y1="504.00" x2="511.49" y2="504.00" stroke="#ee6464" stroke-width="1.6" />
<line x1="512.88" y1="504.00" x2="515.65" y2="504.00" stroke="#ee6464" stroke-width="1.6" />
<line x1="523.97" y1="504.00" x2="529.52" y2="504.00" stroke="#ee6464" stroke-width="1.6" />
<line x1="538.40" y1="504.00" x2="540.06" y2="504.00" stroke="#ee6464" stroke-width="1.6" />
<line x1="541.17" y1="504.00" x2="554.49" y2="504.00" stroke="#ee6464" stroke-width="1.6" />
<line x1="555.87" y1="504.00" x2="557.81" y2="504.00" stroke="#ee6464" stroke-width="1.6" />
<line x1="560.03" y1="504.00" x2="568.35" y2="504.00" stroke="#ee6464" stroke-width="1.6" />
<line x1="571.13" y1="504.00" x2="582.22" y2="504.00" stroke="#ee6464" stroke-width="1.6" />
<line x1="585.00" y1="504.00" x2="593.32" y2="504.00" stroke="#ee6464" stroke-width="1.6" />
<line x1="596.09" y1="504.00" x2="600.25" y2="504.00" stroke="#ee6464" stroke-width="1.6" />
<line x1="608.58" y1="504.00" x2="621.06" y2="504.00" stroke="#ee6464" stroke-width="1.6" />
<line x1="629.38" y1="504.00" x2="636.32" y2="504.00" stroke="#ee6464" stroke-width="1.6" />
<line x1="637.70" y1="504.00" x2="650.19" y2="504.00" stroke="#ee6464" stroke-width="1.6" />
<line x1="483.75" y1="507.30" x2="492.07" y2="507.30" stroke="#35c640" stroke-width="1.6" />
<line x1="494.01" y1="507.30" x2="495.68" y2="507.30" stroke="#35c640" stroke-width="1.6" />
<line x1="496.79" y1="507.30" x2="503.17" y2="507.30" stroke="#35c640" stroke-width="1.6" />
<line x1="504.55" y1="507.30" x2="508.72" y2="507.30" stroke="#35c640" stroke-width="1.6" />
<line x1="512.88" y1="507.30" x2="532.29" y2="507.30" stroke="#35c640" stroke-width="1.6" />
<line x1="535.07" y1="507.30" x2="543.39" y2="507.30" stroke="#35c640" stroke-width="1.6" />
<line x1="545.61" y1="507.30" x2="549.49" y2="507.30" stroke="#35c640" stroke-width="1.6" />
<line x1="553.10" y1="507.30" x2="568.35" y2="507.30" stroke="#35c640" stroke-width="1.6" />
<line x1="571.13" y1="507.30" x2="586.39" y2="507.30" stroke="#35c640" stroke-width="1.6" />
<line x1="589.16" y1="507.30" x2="593.32" y2="507.30" stroke="#35c640" stroke-width="1.6" />
<line x1="596.09" y1="507.30" x2="616.90" y2="507.30" stroke="#35c640" stroke-width="1.6" />
<line x1="619.67" y1="507.30" x2="626.61" y2="507.30" stroke="#35c640" stroke-width="1.6" />
<line x1="628.83" y1="507.30" x2="637.70" y2="507.30" stroke="#35c640" stroke-width="1.6" />
<line x1="640.48" y1="507.30" x2="650.19" y2="507.30" stroke="#35c640" stroke-width="1.6" />
<line x1="652.96" y1="507.30" x2="657.12" y2="507.30" stroke="#35c640" stroke-width="1.6" />
<line x1="483.75" y1="523.25" x2="528.00" y2="523.25" stroke="#6c9be6" stroke-width="1.5" />
<line x1="528.00" y1="523.25" x2="531.75" y2="523.25" stroke="#a0289e" stroke-width="1.5" />
<line x1="533.75" y1="523.25" x2="552.60" y2="523.25" stroke="#a0289e" stroke-width="1.5" />
<line x1="553.60" y1="523.25" x2="577.50" y2="523.25" stroke="#a0289e" stroke-width="1.5" />
<line x1="577.50" y1="523.25" x2="608.00" y2="523.25" stroke="#d9d23c" stroke-width="1.5" />
<line x1="608.00" y1="523.25" x2="626.75" y2="523.25" stroke="#a5522d" stroke-width="1.5" />
<line x1="629.25" y1="523.25" x2="657.25" y2="523.25" stroke="#cf6a2a" stroke-width="1.5" />
<text x="505.75" y="519.50" font-size="7.4" fill="#6c9be6" font-weight="bold" text-anchor="middle">epen</text>
<text x="553.25" y="519.50" font-size="7.4" fill="#a0289e" font-weight="bold" text-anchor="middle">α1</text>
<text x="593.25" y="519.50" font-size="7.4" fill="#d9d23c" font-weight="bold" text-anchor="middle">α2</text>
<text x="618.50" y="519.50" font-size="7.4" fill="#a5522d" font-weight="bold" text-anchor="middle">β1</text>
<text x="637.25" y="519.50" font-size="7.4" fill="#cf6a2a" font-weight="bold" text-anchor="middle">β2</text>
<line x1="475.50" y1="525.75" x2="475.50" y2="688.00" stroke="#8a8a8a" stroke-width="0.6" />
<line x1="475.20" y1="688.00" x2="675.25" y2="688.00" stroke="#8a8a8a" stroke-width="0.6" />
<line x1="474.30" y1="556.75" x2="475.50" y2="556.75" stroke="#8a8a8a" stroke-width="0.4" />
<text x="473.60" y="557.65" font-size="2.6" fill="#666" text-anchor="end">1</text>
<line x1="474.30" y1="601.60" x2="475.50" y2="601.60" stroke="#8a8a8a" stroke-width="0.4" />
<text x="473.60" y="602.50" font-size="2.6" fill="#666" text-anchor="end">0</text>
<line x1="474.30" y1="646.60" x2="475.50" y2="646.60" stroke="#8a8a8a" stroke-width="0.4" />
<text x="473.60" y="647.50" font-size="2.6" fill="#666" text-anchor="end">-1</text>
<line x1="481.20" y1="688.00" x2="481.20" y2="689.20" stroke="#8a8a8a" stroke-width="0.4" />
<text x="481.20" y="692.70" font-size="2.6" fill="#666" text-anchor="middle">0</text>
<line x1="542.30" y1="688.00" x2="542.30" y2="689.20" stroke="#8a8a8a" stroke-width="0.4" />
<text x="542.30" y="692.70" font-size="2.6" fill="#666" text-anchor="middle">20</text>
<line x1="604.50" y1="688.00" x2="604.50" y2="689.20" stroke="#8a8a8a" stroke-width="0.4" />
<text x="604.50" y="692.70" font-size="2.6" fill="#666" text-anchor="middle">40</text>
<line x1="665.75" y1="688.00" x2="665.75" y2="689.20" stroke="#8a8a8a" stroke-width="0.4" />
<text x="665.75" y="692.70" font-size="2.6" fill="#666" text-anchor="middle">60</text>
<line x1="567.00" y1="532.60" x2="623.00" y2="532.60" stroke="#222" stroke-width="0.9" />
<path d="M625.9,532.6 L622.3,531.0 L622.3,534.2 Z" fill="#111"/>
<path d="M484.4,669.9 C486.1,666.6 491.7,655.7 494.6,649.9 C497.5,644.1 499.5,640.4 501.9,635.3 C504.3,630.2 506.8,625.1 509.2,619.2 C511.6,613.4 514.7,605.1 516.5,600.2 C518.3,595.3 518.2,595.0 520.1,590.0 C522.0,585.0 524.9,577.0 527.6,570.5 C530.3,564.0 533.4,556.7 536.3,551.3 C539.2,545.9 542.2,541.2 545.1,538.1 C548.0,535.0 550.9,532.8 553.8,532.5 C556.7,532.2 559.7,533.6 562.6,536.4 C565.5,539.2 568.5,544.4 571.4,549.5 C574.3,554.6 577.2,560.9 580.1,567.0 C583.0,573.1 586.5,580.8 588.9,586.3 C591.3,591.8 592.1,595.2 594.6,600.0 C597.1,604.8 600.9,611.0 604.1,615.3 C607.3,619.6 610.5,623.5 613.7,625.8 C616.9,628.1 620.0,628.6 623.2,629.1 C626.4,629.6 629.6,628.5 632.8,628.7 C636.0,629.0 639.2,628.9 642.4,630.6 C645.6,632.4 648.7,635.4 651.9,639.2 C655.1,643.0 659.2,649.7 661.5,653.5 C663.8,657.3 665.0,660.8 665.7,662.2" fill="none" stroke="#79a6f8" stroke-width="1.1"/>
<path d="M484.4,680.5 C486.1,678.1 491.7,670.3 494.6,665.9 C497.5,661.5 499.5,658.3 501.9,654.2 C504.3,650.1 506.8,645.7 509.2,641.1 C511.6,636.5 514.1,631.6 516.5,626.5 C518.9,621.4 521.4,615.5 523.8,610.4 C526.2,605.3 528.7,601.0 531.1,595.8 C533.5,590.6 535.7,584.5 538.0,579.0 C540.3,573.5 542.5,567.5 545.1,562.7 C547.7,557.9 550.9,553.6 553.8,550.4 C556.7,547.2 559.8,544.9 562.6,543.4 C565.4,541.9 567.6,540.8 570.5,541.1 C573.4,541.4 577.0,542.2 580.1,545.1 C583.2,548.0 586.5,554.6 588.9,558.3 C591.3,562.0 592.1,562.8 594.6,567.5 C597.1,572.2 600.9,581.0 604.1,586.6 C607.3,592.2 610.5,596.9 613.7,601.0 C616.9,605.1 620.0,608.5 623.2,611.5 C626.4,614.5 629.6,617.0 632.8,619.1 C636.0,621.2 639.2,622.6 642.4,623.9 C645.6,625.2 648.7,626.1 651.9,626.8 C655.1,627.5 659.3,628.0 661.5,628.3 C663.7,628.6 664.6,628.6 665.2,628.7" fill="none" stroke="#e27575" stroke-width="1.1"/>
<path d="M484.4,669.9 C486.1,669.2 490.5,667.9 494.6,665.9 C498.7,663.9 504.8,660.6 509.2,657.9 C513.6,655.2 517.2,652.8 520.9,649.9 C524.5,647.0 528.2,643.3 531.1,640.4 C534.0,637.5 536.0,635.1 538.4,632.3 C540.8,629.5 543.3,626.5 545.7,623.6 C548.1,620.7 550.6,617.8 553.0,614.8 C555.4,611.8 557.9,608.5 560.3,605.3 C562.7,602.1 565.6,598.3 567.6,595.8 C569.6,593.2 569.9,592.9 572.0,590.0 C574.1,587.1 577.3,582.4 580.1,578.6 C582.9,574.9 586.5,570.3 588.9,567.5 C591.3,564.7 592.1,564.2 594.6,561.8 C597.1,559.4 600.9,555.5 604.1,553.2 C607.3,550.9 610.5,549.2 613.7,548.0 C616.9,546.8 620.0,546.1 623.2,546.1 C626.4,546.1 629.6,546.7 632.8,548.0 C636.0,549.3 639.5,551.2 642.4,554.1 C645.3,557.0 647.8,561.1 650.0,565.6 C652.2,570.1 654.0,575.2 655.7,580.9 C657.5,586.6 659.2,594.3 660.5,600.0 C661.8,605.7 662.5,609.6 663.4,615.3 C664.3,621.0 665.3,631.2 665.7,634.4" fill="none" stroke="#4fc95c" stroke-width="1.3"/>
<text x="466.70" y="611.20" font-size="8.0" fill="#000" font-weight="bold" text-anchor="middle" textLength="110.60" lengthAdjust="spacingAndGlyphs" transform="rotate(-90 466.70 611.20)">Cholesterol genes Norm exp.</text>
<text x="552.25" y="702.30" font-size="8.0" fill="#000" font-weight="bold" textLength="54.25" lengthAdjust="spacingAndGlyphs">Pseudospatial</text>
<text x="627.25" y="662.40" font-size="8.0" fill="#5b8de6" font-weight="bold">Fed</text>
<text x="627.25" y="672.40" font-size="8.0" fill="#d9484a" font-weight="bold" textLength="45.00" lengthAdjust="spacingAndGlyphs">12h-Fasting</text>
<text x="627.25" y="683.60" font-size="8.0" fill="#3dbb44" font-weight="bold" textLength="45.00" lengthAdjust="spacingAndGlyphs">24h-Fasting</text>
</g>
</svg>
</body></html>
